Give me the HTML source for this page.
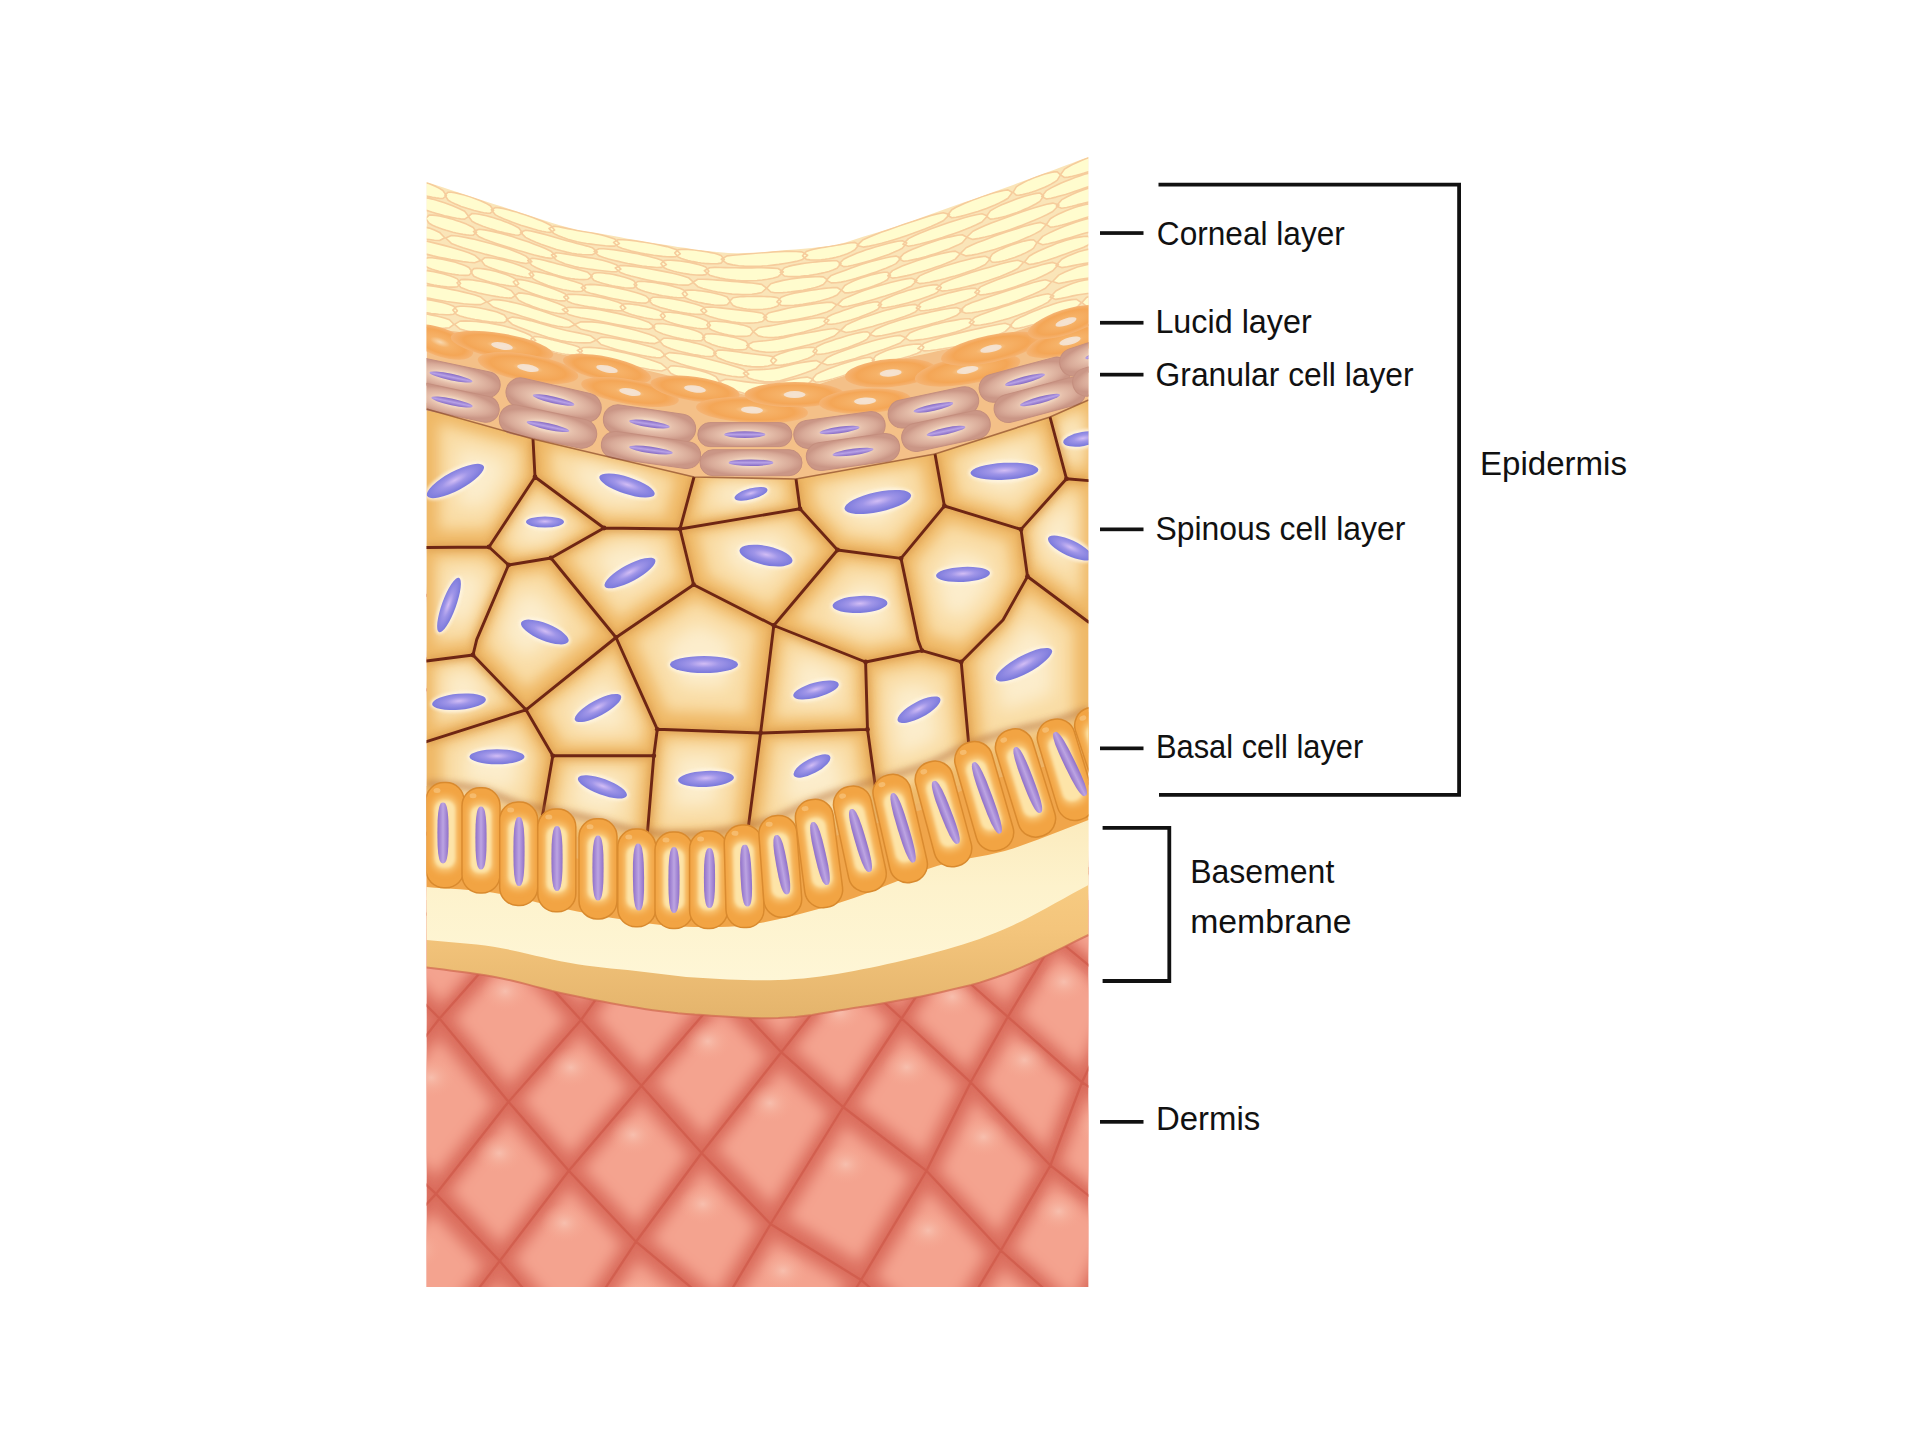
<!DOCTYPE html>
<html><head><meta charset="utf-8"><style>html,body{margin:0;padding:0;background:#fff;width:1920px;height:1440px;overflow:hidden}svg{display:block}</style></head>
<body><svg width="1920" height="1440" viewBox="0 0 1920 1440"><defs><clipPath id="illo"><rect x="426.5" y="150" width="662" height="1137"/></clipPath><filter id="blur6" x="-30%" y="-30%" width="160%" height="160%"><feGaussianBlur stdDeviation="7"/></filter><filter id="blur9" x="-50%" y="-50%" width="200%" height="200%"><feGaussianBlur stdDeviation="9"/></filter><filter id="blur3" x="-30%" y="-30%" width="160%" height="160%"><feGaussianBlur stdDeviation="3"/></filter><filter id="blur2" x="-30%" y="-30%" width="160%" height="160%"><feGaussianBlur stdDeviation="1.6"/></filter><radialGradient id="dhl"><stop offset="0" stop-color="#f8c8b8" stop-opacity="0.75"/><stop offset="0.5" stop-color="#f7b8a4" stop-opacity="0.35"/><stop offset="1" stop-color="#f6a892" stop-opacity="0"/></radialGradient><linearGradient id="memcr" x1="0" y1="0" x2="0" y2="1"><stop offset="0" stop-color="#fbe8b8"/><stop offset="0.5" stop-color="#fdf2cc"/><stop offset="1" stop-color="#fef6d6"/></linearGradient><linearGradient id="memor" x1="0" y1="0" x2="0" y2="1"><stop offset="0" stop-color="#fdd78c"/><stop offset="0.6" stop-color="#f4c57c"/><stop offset="1" stop-color="#e4b46c"/></linearGradient><radialGradient id="nuc" cx="0.5" cy="0.45" r="0.5"><stop offset="0" stop-color="#d2bdf5"/><stop offset="0.45" stop-color="#9f95e8"/><stop offset="1" stop-color="#7d7bdc"/></radialGradient><clipPath id="sc0"><path d="M426.5 409 L533 439 L535 477 L489 547 L426.5 547.5 Z"/></clipPath><clipPath id="sc1"><path d="M533 439 L694 477 L680 529 L604 528 L535 477 Z"/></clipPath><clipPath id="sc2"><path d="M535 477 L604 528 L551 558 L508.5 565 L489 547 Z"/></clipPath><clipPath id="sc3"><path d="M694 477 L796 479 L800 508.8 L680 529 Z"/></clipPath><clipPath id="sc4"><path d="M796 479 L935 454 L944.4 506 L901 558.4 L837.5 550 L800 508.8 Z"/></clipPath><clipPath id="sc5"><path d="M935 454 L1050 417 L1066.5 478.8 L1021 529.4 L944.4 506 Z"/></clipPath><clipPath id="sc6"><path d="M1050 417 L1088.5 400 L1088.5 480.6 L1066.5 478.8 Z"/></clipPath><clipPath id="sc7"><path d="M680 529 L800 508.8 L837.5 550 L773.8 625.5 L693.6 584.7 Z"/></clipPath><clipPath id="sc8"><path d="M604 528 L680 529 L693.6 584.7 L616 637.5 L551 558 Z"/></clipPath><clipPath id="sc9"><path d="M901 558.4 L944.4 506 L1021 529.4 L1027.5 576.5 L1003 620 L961.2 661.9 L921.9 650.6 L918 640 Z"/></clipPath><clipPath id="sc10"><path d="M837.5 550 L901 558.4 L918 640 L921.9 650.6 L865.6 662 L773.8 625.5 Z"/></clipPath><clipPath id="sc11"><path d="M1066.5 478.8 L1088.5 480.6 L1088.5 622 L1027.5 576.5 L1021 529.4 Z"/></clipPath><clipPath id="sc12"><path d="M1003 620 L1027.5 576.5 L1088.5 622 L1088.5 740 L972 780 L961.2 661.9 Z"/></clipPath><clipPath id="sc13"><path d="M865.6 662 L921.9 650.6 L961.2 661.9 L972 780 L880 820 L867.5 729.4 Z"/></clipPath><clipPath id="sc14"><path d="M773.8 625.5 L865.6 662 L867.5 729.4 L760.6 733 Z"/></clipPath><clipPath id="sc15"><path d="M760.6 733 L867.5 729.4 L880 820 L746 845 Z"/></clipPath><clipPath id="sc16"><path d="M657.3 729.3 L760.6 733 L746 845 L646 850 L653.8 755.8 Z"/></clipPath><clipPath id="sc17"><path d="M552.8 755.8 L653.8 755.8 L646 850 L540 830 Z"/></clipPath><clipPath id="sc18"><path d="M426.5 741.7 L526 709.8 L552.8 755.8 L540 830 L426.5 810 Z"/></clipPath><clipPath id="sc19"><path d="M426.5 661 L473 655 L526 709.8 L426.5 741.7 Z"/></clipPath><clipPath id="sc20"><path d="M526 709.8 L616 637.5 L657.3 729.3 L653.8 755.8 L552.8 755.8 Z"/></clipPath><clipPath id="sc21"><path d="M508.5 565 L551 558 L616 637.5 L526 709.8 L473 655 L476.7 639.6 Z"/></clipPath><clipPath id="sc22"><path d="M426.5 547.5 L489 547 L508.5 565 L476.7 639.6 L473 655 L426.5 661 Z"/></clipPath><clipPath id="sc23"><path d="M616 637.5 L693.6 584.7 L773.8 625.5 L760.6 733 L657.3 729.3 Z"/></clipPath><radialGradient id="bcell" cx="0.5" cy="0.5" r="0.5"><stop offset="0" stop-color="#fde9b4"/><stop offset="0.45" stop-color="#fcdc98"/><stop offset="0.8" stop-color="#f5ac4a"/><stop offset="1" stop-color="#f1a040"/></radialGradient><linearGradient id="bnuc" x1="0" y1="0" x2="1" y2="0"><stop offset="0" stop-color="#8f6fc8"/><stop offset="0.5" stop-color="#bca4e2"/><stop offset="1" stop-color="#8f6fc8"/></linearGradient><clipPath id="cornclip"><path d="M426.5 182 L434.9 184.7 L443.3 187.5 L451.6 190.2 L460 193 L468.4 195.7 L476.8 198.5 L485.2 201.2 L493.5 203.9 L501.9 206.6 L510.3 209.3 L518.7 212.1 L527.1 214.8 L535.4 217.6 L543.8 220.3 L552.2 222.9 L560.6 225.5 L569 227.8 L577.3 229.8 L585.7 231.3 L594.1 232.6 L602.5 234.1 L610.9 235.6 L619.2 237.1 L627.6 238.7 L636 240.1 L644.4 241.6 L652.8 243 L661.1 244.3 L669.5 245.6 L677.9 246.9 L686.3 248.1 L694.7 249.4 L703 250.5 L711.4 251.5 L719.8 252.3 L728.2 252.9 L736.6 253.2 L744.9 253.1 L753.3 252.8 L761.7 252.2 L770.1 251.5 L778.4 250.8 L786.8 250.1 L795.2 249.4 L803.6 248.7 L812 247.9 L820.3 247 L828.7 245.9 L837.1 244.4 L845.5 242.4 L853.9 239.8 L862.2 237 L870.6 234.5 L879 231.9 L887.4 229.2 L895.8 226.4 L904.1 223.6 L912.5 220.7 L920.9 217.7 L929.3 214.7 L937.7 211.7 L946 208.8 L954.4 205.8 L962.8 202.8 L971.2 199.9 L979.6 196.9 L987.9 193.9 L996.3 190.9 L1004.7 187.9 L1013.1 184.9 L1021.5 181.8 L1029.8 178.7 L1038.2 175.6 L1046.6 172.5 L1055 169.4 L1063.4 166.3 L1071.7 163.2 L1080.1 160.1 L1088.5 157 L1088.5 309 L1080.1 310.3 L1071.7 312.3 L1063.4 314.8 L1055 317.7 L1046.6 320.7 L1038.2 323.7 L1029.8 326.6 L1021.5 329.5 L1013.1 332.3 L1004.7 335 L996.3 337.5 L987.9 339.8 L979.6 341.9 L971.2 343.9 L962.8 345.8 L954.4 347.6 L946 349.3 L937.7 351.1 L929.3 352.9 L920.9 354.7 L912.5 356.5 L904.1 358.5 L895.8 360.5 L887.4 362.7 L879 365.1 L870.6 367.6 L862.2 370.2 L853.9 372.9 L845.5 375.6 L837.1 378.3 L828.7 381.1 L820.3 383.8 L812 386.5 L803.6 389 L795.2 391.3 L786.8 393.8 L778.4 396.2 L770.1 397.3 L761.7 397.1 L753.3 396.2 L744.9 394.7 L736.6 392.8 L728.2 390.6 L719.8 388.4 L711.4 386.1 L703 384 L694.7 381.9 L686.3 379.9 L677.9 377.9 L669.5 375.8 L661.1 373.8 L652.8 371.7 L644.4 369.7 L636 367.6 L627.6 365.6 L619.2 363.7 L610.9 361.8 L602.5 360.1 L594.1 358.7 L585.7 357.6 L577.3 356.7 L569 355.7 L560.6 354.1 L552.2 352.1 L543.8 349.6 L535.4 347 L527.1 344.4 L518.7 342 L510.3 339.8 L501.9 338 L493.5 336.5 L485.2 335.2 L476.8 334 L468.4 333 L460 332 L451.6 331 L443.3 330.1 L434.9 329.1 L426.5 328 Z"/></clipPath><radialGradient id="luc"><stop offset="0" stop-color="#f8d9b0"/><stop offset="0.3" stop-color="#f6b268"/><stop offset="0.75" stop-color="#f4a656"/><stop offset="1" stop-color="#f5b474"/></radialGradient><radialGradient id="gran" cx="0.5" cy="0.5" r="0.5"><stop offset="0" stop-color="#e8c8b4"/><stop offset="0.3" stop-color="#f2d8c2"/><stop offset="0.5" stop-color="#e6c0ac"/><stop offset="0.8" stop-color="#d8aa98"/><stop offset="1" stop-color="#ca9686"/></radialGradient><linearGradient id="gnuc" x1="0" y1="0" x2="0" y2="1"><stop offset="0" stop-color="#8468c4"/><stop offset="0.5" stop-color="#b8a2e6"/><stop offset="1" stop-color="#8468c4"/></linearGradient></defs><g clip-path="url(#illo)">
<rect x="426.5" y="900" width="662" height="387" fill="#dd7262"/>
<path d="M265.5 1405.3 L337.1 1319.3 L394.2 1379 L324.8 1467.6 Z" fill="#f4a38f" filter="url(#blur6)"/><ellipse cx="325.4" cy="1358.5" rx="24" ry="20" fill="url(#dhl)"/><path d="M221.2 1144.8 L292.8 1069.2 L341.7 1125.3 L272.3 1203.5 Z" fill="#f4a38f" filter="url(#blur6)"/><ellipse cx="277.4" cy="1104.7" rx="24" ry="20" fill="url(#dhl)"/><path d="M287.5 1219.7 L356.8 1141.5 L417.3 1197.3 L341.6 1278.9 Z" fill="#f4a38f" filter="url(#blur6)"/><ellipse cx="345.8" cy="1177.7" rx="24" ry="20" fill="url(#dhl)"/><path d="M357.2 1294.9 L432.9 1213.3 L482.5 1265.6 L414.3 1354.6 Z" fill="#f4a38f" filter="url(#blur6)"/><ellipse cx="416.9" cy="1249.5" rx="24" ry="20" fill="url(#dhl)"/><path d="M429.9 1371.3 L498.1 1282.3 L552.6 1345.7 L490 1431.5 Z" fill="#f4a38f" filter="url(#blur6)"/><ellipse cx="487.9" cy="1323.3" rx="24" ry="20" fill="url(#dhl)"/><path d="M253.1 977.2 L322.4 909.5 L366.1 962.6 L299 1032.8 Z" fill="#f4a38f" filter="url(#blur6)"/><ellipse cx="305.8" cy="942" rx="24" ry="20" fill="url(#dhl)"/><path d="M311.9 1047.7 L379 977.4 L424 1022.8 L360.8 1103.8 Z" fill="#f4a38f" filter="url(#blur6)"/><ellipse cx="364.6" cy="1008.7" rx="24" ry="20" fill="url(#dhl)"/><path d="M375.5 1119.5 L438.7 1038.4 L492.5 1103.4 L435.9 1175.3 Z" fill="#f4a38f" filter="url(#blur6)"/><ellipse cx="431.1" cy="1077.6" rx="24" ry="20" fill="url(#dhl)"/><path d="M450.8 1191.3 L507.3 1119.4 L554.3 1173.2 L500.5 1243.6 Z" fill="#f4a38f" filter="url(#blur6)"/><ellipse cx="499.3" cy="1153.2" rx="24" ry="20" fill="url(#dhl)"/><path d="M514.8 1259.5 L568.7 1189.1 L621.1 1244.4 L569.3 1322.9 Z" fill="#f4a38f" filter="url(#blur6)"/><ellipse cx="564.4" cy="1223.1" rx="24" ry="20" fill="url(#dhl)"/><path d="M585.7 1339.2 L637.5 1260.7 L702.4 1314.5 L646.5 1397.4 Z" fill="#f4a38f" filter="url(#blur6)"/><ellipse cx="638.6" cy="1296.4" rx="24" ry="20" fill="url(#dhl)"/><path d="M341 890.8 L405.8 828.4 L447.3 879 L384.7 943.9 Z" fill="#f4a38f" filter="url(#blur6)"/><ellipse cx="390.6" cy="858.9" rx="24" ry="20" fill="url(#dhl)"/><path d="M396.4 957.9 L459 893 L495 942.7 L441.4 1003.3 Z" fill="#f4a38f" filter="url(#blur6)"/><ellipse cx="444.2" cy="923.8" rx="24" ry="20" fill="url(#dhl)"/><path d="M454.9 1018.9 L508.5 958.4 L565.2 1020.1 L508.7 1083.9 Z" fill="#f4a38f" filter="url(#blur6)"/><ellipse cx="505.1" cy="991.3" rx="24" ry="20" fill="url(#dhl)"/><path d="M523.1 1100.2 L579.7 1036.4 L626.8 1087.7 L570.1 1154 Z" fill="#f4a38f" filter="url(#blur6)"/><ellipse cx="570.9" cy="1067.5" rx="24" ry="20" fill="url(#dhl)"/><path d="M583.8 1169 L640.4 1102.7 L687.4 1155.2 L636.2 1224.3 Z" fill="#f4a38f" filter="url(#blur6)"/><ellipse cx="633" cy="1134.8" rx="24" ry="20" fill="url(#dhl)"/><path d="M651.6 1239.6 L702.8 1170.5 L756.6 1225.8 L716.5 1293.4 Z" fill="#f4a38f" filter="url(#blur6)"/><ellipse cx="702.8" cy="1204" rx="24" ry="20" fill="url(#dhl)"/><path d="M734.1 1308.2 L774.3 1240.6 L844.9 1284.3 L795.7 1364.4 Z" fill="#f4a38f" filter="url(#blur6)"/><ellipse cx="783" cy="1270.8" rx="24" ry="20" fill="url(#dhl)"/><path d="M813.9 1379.2 L863.1 1299.1 L925.4 1353.3 L878.5 1435.9 Z" fill="#f4a38f" filter="url(#blur6)"/><ellipse cx="865.9" cy="1335.3" rx="24" ry="20" fill="url(#dhl)"/><path d="M475.8 875.7 L533.9 816.2 L576.1 864.7 L511.8 925.4 Z" fill="#f4a38f" filter="url(#blur6)"/><ellipse cx="520.6" cy="845.3" rx="24" ry="20" fill="url(#dhl)"/><path d="M524.5 940.2 L588.8 879.5 L634 928.5 L581.3 1001.9 Z" fill="#f4a38f" filter="url(#blur6)"/><ellipse cx="577.9" cy="909.3" rx="24" ry="20" fill="url(#dhl)"/><path d="M595.9 1016.9 L648.6 943.5 L707.1 994.2 L643 1068.2 Z" fill="#f4a38f" filter="url(#blur6)"/><ellipse cx="644.4" cy="976.9" rx="24" ry="20" fill="url(#dhl)"/><path d="M656.9 1082.4 L721 1008.5 L766 1056.2 L703.9 1134.8 Z" fill="#f4a38f" filter="url(#blur6)"/><ellipse cx="707.8" cy="1041.3" rx="24" ry="20" fill="url(#dhl)"/><path d="M717.6 1148.8 L779.7 1070.2 L828 1113 L771.4 1204.2 Z" fill="#f4a38f" filter="url(#blur6)"/><ellipse cx="769.9" cy="1103.1" rx="24" ry="20" fill="url(#dhl)"/><path d="M788.1 1217.7 L844.8 1126.5 L909.7 1176.2 L858.7 1261.4 Z" fill="#f4a38f" filter="url(#blur6)"/><ellipse cx="845.7" cy="1164.3" rx="24" ry="20" fill="url(#dhl)"/><path d="M876.8 1276.2 L927.8 1191 L985.7 1253.2 L939.1 1330.3 Z" fill="#f4a38f" filter="url(#blur6)"/><ellipse cx="928.2" cy="1230.5" rx="24" ry="20" fill="url(#dhl)"/><path d="M956.3 1346.1 L1003 1268.9 L1061.7 1320.9 L1021.5 1400.7 Z" fill="#f4a38f" filter="url(#blur6)"/><ellipse cx="1006.6" cy="1303.7" rx="24" ry="20" fill="url(#dhl)"/><path d="M604.2 861.9 L655.5 805.2 L698.5 851.7 L649.3 910.9 Z" fill="#f4a38f" filter="url(#blur6)"/><ellipse cx="648.2" cy="833" rx="24" ry="20" fill="url(#dhl)"/><path d="M662.9 924.6 L712 865.3 L757.9 912.4 L721.4 975.2 Z" fill="#f4a38f" filter="url(#blur6)"/><ellipse cx="709.9" cy="894" rx="24" ry="20" fill="url(#dhl)"/><path d="M736.2 988.7 L772.7 925.8 L832.8 971.1 L781.2 1036.4 Z" fill="#f4a38f" filter="url(#blur6)"/><ellipse cx="777" cy="955" rx="24" ry="20" fill="url(#dhl)"/><path d="M795 1048.8 L846.6 983.4 L888.9 1022.5 L843.2 1091.5 Z" fill="#f4a38f" filter="url(#blur6)"/><ellipse cx="839.8" cy="1011.6" rx="24" ry="20" fill="url(#dhl)"/><path d="M858 1104.3 L903.6 1035.3 L957.5 1085 L923 1154 Z" fill="#f4a38f" filter="url(#blur6)"/><ellipse cx="906.7" cy="1067.2" rx="24" ry="20" fill="url(#dhl)"/><path d="M939.8 1170 L974.3 1101 L1036.5 1165.9 L997.8 1232.2 Z" fill="#f4a38f" filter="url(#blur6)"/><ellipse cx="983.4" cy="1137" rx="24" ry="20" fill="url(#dhl)"/><path d="M1014.3 1247.9 L1053 1181.6 L1108.8 1225.5 L1073.1 1299.9 Z" fill="#f4a38f" filter="url(#blur6)"/><ellipse cx="1058.7" cy="1211.4" rx="24" ry="20" fill="url(#dhl)"/><path d="M1090.3 1313.9 L1126 1239.5 L1189.8 1289.6 L1156.3 1366.6 Z" fill="#f4a38f" filter="url(#blur6)"/><ellipse cx="1136.8" cy="1273.1" rx="24" ry="20" fill="url(#dhl)"/><path d="M1175 1381.1 L1208.5 1304.2 L1275.2 1354.8 L1244 1434.3 Z" fill="#f4a38f" filter="url(#blur6)"/><ellipse cx="1221.9" cy="1338.6" rx="24" ry="20" fill="url(#dhl)"/><path d="M784 908.8 L826.3 852.4 L873 897.4 L844.1 954.1 Z" fill="#f4a38f" filter="url(#blur6)"/><ellipse cx="828.4" cy="879.7" rx="24" ry="20" fill="url(#dhl)"/><path d="M857.7 966.6 L886.6 910 L931 958.7 L900 1005.7 Z" fill="#f4a38f" filter="url(#blur6)"/><ellipse cx="891" cy="938.2" rx="24" ry="20" fill="url(#dhl)"/><path d="M913.5 1018.6 L944.6 971.6 L996.3 1017.3 L967.3 1068.4 Z" fill="#f4a38f" filter="url(#blur6)"/><ellipse cx="952.2" cy="996.7" rx="24" ry="20" fill="url(#dhl)"/><path d="M983.2 1083.3 L1012.2 1032.2 L1070.1 1083.3 L1045.4 1148.2 Z" fill="#f4a38f" filter="url(#blur6)"/><ellipse cx="1024.4" cy="1060" rx="24" ry="20" fill="url(#dhl)"/><path d="M1062.2 1162.2 L1086.9 1097.3 L1149.2 1137.1 L1118 1206.1 Z" fill="#f4a38f" filter="url(#blur6)"/><ellipse cx="1100.7" cy="1125.6" rx="24" ry="20" fill="url(#dhl)"/><path d="M1135.2 1218.9 L1166.4 1149.8 L1227.9 1197.4 L1198.9 1269 Z" fill="#f4a38f" filter="url(#blur6)"/><ellipse cx="1178.5" cy="1181.3" rx="24" ry="20" fill="url(#dhl)"/><path d="M896.1 894.7 L931.7 841.2 L979.1 884.1 L940.5 943.5 Z" fill="#f4a38f" filter="url(#blur6)"/><ellipse cx="933.7" cy="867.3" rx="24" ry="20" fill="url(#dhl)"/><path d="M954.1 956.2 L992.8 896.9 L1043.1 940.4 L1005.9 1001.8 Z" fill="#f4a38f" filter="url(#blur6)"/><ellipse cx="995.6" cy="924.6" rx="24" ry="20" fill="url(#dhl)"/><path d="M1020.9 1014.8 L1058.2 953.4 L1111.5 997.4 L1078.8 1065.9 Z" fill="#f4a38f" filter="url(#blur6)"/><ellipse cx="1063.9" cy="981.9" rx="24" ry="20" fill="url(#dhl)"/><path d="M1095 1078.6 L1127.7 1010.1 L1184 1054.6 L1157.3 1118.3 Z" fill="#f4a38f" filter="url(#blur6)"/><ellipse cx="1137.6" cy="1040.4" rx="24" ry="20" fill="url(#dhl)"/><path d="M1174.2 1130.8 L1200.9 1067 L1260.2 1112.1 L1235.7 1178.3 Z" fill="#f4a38f" filter="url(#blur6)"/><ellipse cx="1214.4" cy="1096.4" rx="24" ry="20" fill="url(#dhl)"/><path d="M1002 881.1 L1030.9 830.3 L1079.1 871.3 L1052.4 924.6 Z" fill="#f4a38f" filter="url(#blur6)"/><ellipse cx="1038.2" cy="855.1" rx="24" ry="20" fill="url(#dhl)"/><path d="M1066.7 936.5 L1093.4 883.3 L1144.5 924.7 L1120 980.6 Z" fill="#f4a38f" filter="url(#blur6)"/><ellipse cx="1103.2" cy="908.8" rx="24" ry="20" fill="url(#dhl)"/><path d="M1135.2 992.7 L1159.6 936.9 L1213.7 978.9 L1191.5 1037.2 Z" fill="#f4a38f" filter="url(#blur6)"/><ellipse cx="1172" cy="963.3" rx="24" ry="20" fill="url(#dhl)"/><path d="M1099.9 868.6 L1122.1 820.7 L1171 859.7 L1151 910.1 Z" fill="#f4a38f" filter="url(#blur6)"/><ellipse cx="1133.3" cy="844.2" rx="24" ry="20" fill="url(#dhl)"/><path d="M1165.6 921.5 L1185.5 871.1 L1237.3 910.5 L1219.6 963.5 Z" fill="#f4a38f" filter="url(#blur6)"/><ellipse cx="1199.2" cy="895.3" rx="24" ry="20" fill="url(#dhl)"/><path d="M1190.2 857.3 L1205.6 812.2 L1255.2 849.1 L1242 896.7 Z" fill="#f4a38f" filter="url(#blur6)"/><ellipse cx="1220.7" cy="834.3" rx="24" ry="20" fill="url(#dhl)"/>
<path d="M-76 1019.6 L-19 1096.1 L41.9 1173.3 L106.5 1251.2 L174.9 1329.7 L247.2 1408.8 L323.2 1488.7 L403.1 1569.1 L486.8 1650.2 L574.3 1732 L665.6 1814.5 L760.7 1897.5 L859.7 1981.3 L962.4 2065.7 L1069 2150.7 M30.2 925.5 L84.4 998.8 L142.3 1072.7 L204 1147.4 L269.6 1222.6 L339 1298.5 L412.2 1375.1 L489.2 1452.3 L570 1530.2 L654.6 1608.7 L743.1 1687.9 L835.4 1767.7 L931.4 1848.2 L1031.3 1929.4 L1135 2011.2 M130.6 838.3 L181.9 908.4 L237 979.1 L295.8 1050.4 L358.5 1122.4 L436 1193.9 L499.7 1261 L569.5 1342.4 L647.5 1417 L729.2 1492.3 L814.8 1568.2 L904.2 1644.8 L997.4 1722 L1094.4 1799.9 L1195.3 1878.5 M225.3 758 L273.6 824.8 L325.9 892.2 L381.9 960.3 L439.5 1018.5 L508.5 1101.8 L568.8 1170.8 L636 1241.7 L719.2 1310.7 L798.1 1382.7 L880.8 1455.4 L967.3 1528.7 L1057.6 1602.7 L1151.8 1677.3 L1249.7 1752.6 M314.1 684.6 L359.6 748.1 L409 812.3 L462.1 877.2 L508.3 940.9 L581 1020 L641.4 1085.8 L701.6 1153 L770.6 1224 L861.1 1280 L941 1349.4 L1024.6 1419.5 L1112.1 1490.2 L1203.4 1561.6 L1298.5 1633.7 M397.2 618 L439.8 678.3 L486.3 739.3 L536.6 800.9 L590.7 863.1 L648.6 926 L723.6 991 L781.3 1052.2 L843.2 1107 L926.5 1170.8 L1000.8 1250.5 L1076.2 1317.2 L1160.8 1384.7 L1249.2 1452.8 L1341.4 1521.6 M474.5 558.3 L514.3 615.4 L557.9 673.1 L605.3 731.4 L656.5 790.4 L711.6 850.1 L770.4 910.4 L847.5 968.4 L901.7 1018.5 L970.7 1082.3 L1050.4 1165.5 L1121.9 1221.8 L1203.7 1286 L1289.2 1350.9 L1378.6 1416.4 M546 505.6 L583 559.3 L623.7 613.8 L668.3 668.9 L716.6 724.6 L768.8 781 L824.8 838.1 L884.6 895.8 L941.5 958.3 L1007.8 1016.8 L1082 1082.3 L1161.9 1133.2 L1240.8 1194.2 L1323.5 1255.8 L1410 1318.1 M611.8 459.6 L645.9 510.2 L683.7 561.4 L725.4 613.2 L770.9 665.7 L820.2 718.9 L873.3 772.7 L930.3 827.1 L991 882.3 L1055.6 938 L1124 994.4 L1196.2 1051.5 L1272.2 1109.3 L1352 1167.7 L1435.6 1226.7 M671.8 420.6 L703 467.9 L738 515.8 L776.8 564.4 L819.4 613.7 L865.9 663.6 L916.1 714.1 L970.2 765.3 L1028.1 817.2 L1089.8 869.7 L1155.3 922.9 L1224.6 976.7 L1297.7 1031.2 L1374.7 1086.4 L1455.4 1142.1 M726 388.4 L754.3 432.5 L786.5 477.2 L822.4 522.5 L862.2 568.5 L905.8 615.2 L953.1 662.5 L1004.3 710.4 L1059.4 759 L1118.2 808.3 L1180.8 858.2 L1247.3 908.8 L1317.5 960 L1391.6 1011.9 L1469.5 1064.5 M-187.9 1120.5 L-76 1019.6 L30.2 925.5 L130.6 838.3 L225.3 758 L314.1 684.6 L397.2 618 L474.5 558.3 L546 505.6 L611.8 459.6 L671.8 420.6 L726 388.4 L774.5 363.2 M-128 1200.3 L-19 1096.1 L84.4 998.8 L181.9 908.4 L273.6 824.8 L359.6 748.1 L439.8 678.3 L514.3 615.4 L583 559.3 L645.9 510.2 L703 467.9 L754.3 432.5 L799.9 403.9 M-64.4 1280.8 L41.9 1173.3 L142.3 1072.7 L237 979.1 L325.9 892.2 L409 812.3 L486.3 739.3 L557.9 673.1 L623.7 613.8 L683.7 561.4 L738 515.8 L786.5 477.2 L829.2 445.4 M3.1 1361.9 L106.5 1251.2 L204 1147.4 L295.8 1050.4 L381.9 960.3 L462.1 877.2 L536.6 800.9 L605.3 731.4 L668.3 668.9 L725.4 613.2 L776.8 564.4 L822.4 522.5 L862.3 487.5 M74.4 1443.6 L174.9 1329.7 L269.6 1222.6 L358.5 1122.4 L439.5 1018.5 L508.3 940.9 L590.7 863.1 L656.5 790.4 L716.6 724.6 L770.9 665.7 L819.4 613.7 L862.2 568.5 L899.2 530.2 M149.5 1526 L247.2 1408.8 L339 1298.5 L436 1193.9 L508.5 1101.8 L581 1020 L648.6 926 L711.6 850.1 L768.8 781 L820.2 718.9 L865.9 663.6 L905.8 615.2 L939.9 573.6 M228.5 1609.1 L323.2 1488.7 L412.2 1375.1 L499.7 1261 L568.8 1170.8 L641.4 1085.8 L723.6 991 L770.4 910.4 L824.8 838.1 L873.3 772.7 L916.1 714.1 L953.1 662.5 L984.4 617.7 M311.2 1692.8 L403.1 1569.1 L489.2 1452.3 L569.5 1342.4 L636 1241.7 L701.6 1153 L781.3 1052.2 L847.5 968.4 L884.6 895.8 L930.3 827.1 L970.2 765.3 L1004.3 710.4 L1032.7 662.4 M397.8 1777.2 L486.8 1650.2 L570 1530.2 L647.5 1417 L719.2 1310.7 L770.6 1224 L843.2 1107 L901.7 1018.5 L941.5 958.3 L991 882.3 L1028.1 817.2 L1059.4 759 L1084.9 707.8 M488.1 1862.2 L574.3 1732 L654.6 1608.7 L729.2 1492.3 L798.1 1382.7 L861.1 1280 L926.5 1170.8 L970.7 1082.3 L1007.8 1016.8 L1055.6 938 L1089.8 869.7 L1118.2 808.3 L1140.8 753.8 M582.3 1947.9 L665.6 1814.5 L743.1 1687.9 L814.8 1568.2 L880.8 1455.4 L941 1349.4 L1000.8 1250.5 L1050.4 1165.5 L1082 1082.3 L1124 994.4 L1155.3 922.9 L1180.8 858.2 L1200.6 800.4 M680.3 2034.3 L760.7 1897.5 L835.4 1767.7 L904.2 1644.8 L967.3 1528.7 L1024.6 1419.5 L1076.2 1317.2 L1121.9 1221.8 L1161.9 1133.2 L1196.2 1051.5 L1224.6 976.7 L1247.3 908.8 L1264.2 847.8 M782.1 2121.2 L859.7 1981.3 L931.4 1848.2 L997.4 1722 L1057.6 1602.7 L1112.1 1490.2 L1160.8 1384.7 L1203.7 1286 L1240.8 1194.2 L1272.2 1109.3 L1297.7 1031.2 L1317.5 960 L1331.6 895.8 M887.7 2208.9 L962.4 2065.7 L1031.3 1929.4 L1094.4 1799.9 L1151.8 1677.3 L1203.4 1561.6 L1249.2 1452.8 L1289.2 1350.9 L1323.5 1255.8 L1352 1167.7 L1374.7 1086.4 L1391.6 1011.9 L1402.8 944.4 M997.2 2297.2 L1069 2150.7 L1135 2011.2 L1195.3 1878.5 L1249.7 1752.6 L1298.5 1633.7 L1341.4 1521.6 L1378.6 1416.4 L1410 1318.1 L1435.6 1226.7 L1455.4 1142.1 L1469.5 1064.5 L1477.8 993.7" fill="none" stroke="#d4604f" stroke-width="5" opacity="0.45" filter="url(#blur3)"/>
<path d="M-76 1019.6 L-19 1096.1 L41.9 1173.3 L106.5 1251.2 L174.9 1329.7 L247.2 1408.8 L323.2 1488.7 L403.1 1569.1 L486.8 1650.2 L574.3 1732 L665.6 1814.5 L760.7 1897.5 L859.7 1981.3 L962.4 2065.7 L1069 2150.7 M30.2 925.5 L84.4 998.8 L142.3 1072.7 L204 1147.4 L269.6 1222.6 L339 1298.5 L412.2 1375.1 L489.2 1452.3 L570 1530.2 L654.6 1608.7 L743.1 1687.9 L835.4 1767.7 L931.4 1848.2 L1031.3 1929.4 L1135 2011.2 M130.6 838.3 L181.9 908.4 L237 979.1 L295.8 1050.4 L358.5 1122.4 L436 1193.9 L499.7 1261 L569.5 1342.4 L647.5 1417 L729.2 1492.3 L814.8 1568.2 L904.2 1644.8 L997.4 1722 L1094.4 1799.9 L1195.3 1878.5 M225.3 758 L273.6 824.8 L325.9 892.2 L381.9 960.3 L439.5 1018.5 L508.5 1101.8 L568.8 1170.8 L636 1241.7 L719.2 1310.7 L798.1 1382.7 L880.8 1455.4 L967.3 1528.7 L1057.6 1602.7 L1151.8 1677.3 L1249.7 1752.6 M314.1 684.6 L359.6 748.1 L409 812.3 L462.1 877.2 L508.3 940.9 L581 1020 L641.4 1085.8 L701.6 1153 L770.6 1224 L861.1 1280 L941 1349.4 L1024.6 1419.5 L1112.1 1490.2 L1203.4 1561.6 L1298.5 1633.7 M397.2 618 L439.8 678.3 L486.3 739.3 L536.6 800.9 L590.7 863.1 L648.6 926 L723.6 991 L781.3 1052.2 L843.2 1107 L926.5 1170.8 L1000.8 1250.5 L1076.2 1317.2 L1160.8 1384.7 L1249.2 1452.8 L1341.4 1521.6 M474.5 558.3 L514.3 615.4 L557.9 673.1 L605.3 731.4 L656.5 790.4 L711.6 850.1 L770.4 910.4 L847.5 968.4 L901.7 1018.5 L970.7 1082.3 L1050.4 1165.5 L1121.9 1221.8 L1203.7 1286 L1289.2 1350.9 L1378.6 1416.4 M546 505.6 L583 559.3 L623.7 613.8 L668.3 668.9 L716.6 724.6 L768.8 781 L824.8 838.1 L884.6 895.8 L941.5 958.3 L1007.8 1016.8 L1082 1082.3 L1161.9 1133.2 L1240.8 1194.2 L1323.5 1255.8 L1410 1318.1 M611.8 459.6 L645.9 510.2 L683.7 561.4 L725.4 613.2 L770.9 665.7 L820.2 718.9 L873.3 772.7 L930.3 827.1 L991 882.3 L1055.6 938 L1124 994.4 L1196.2 1051.5 L1272.2 1109.3 L1352 1167.7 L1435.6 1226.7 M671.8 420.6 L703 467.9 L738 515.8 L776.8 564.4 L819.4 613.7 L865.9 663.6 L916.1 714.1 L970.2 765.3 L1028.1 817.2 L1089.8 869.7 L1155.3 922.9 L1224.6 976.7 L1297.7 1031.2 L1374.7 1086.4 L1455.4 1142.1 M726 388.4 L754.3 432.5 L786.5 477.2 L822.4 522.5 L862.2 568.5 L905.8 615.2 L953.1 662.5 L1004.3 710.4 L1059.4 759 L1118.2 808.3 L1180.8 858.2 L1247.3 908.8 L1317.5 960 L1391.6 1011.9 L1469.5 1064.5 M-187.9 1120.5 L-76 1019.6 L30.2 925.5 L130.6 838.3 L225.3 758 L314.1 684.6 L397.2 618 L474.5 558.3 L546 505.6 L611.8 459.6 L671.8 420.6 L726 388.4 L774.5 363.2 M-128 1200.3 L-19 1096.1 L84.4 998.8 L181.9 908.4 L273.6 824.8 L359.6 748.1 L439.8 678.3 L514.3 615.4 L583 559.3 L645.9 510.2 L703 467.9 L754.3 432.5 L799.9 403.9 M-64.4 1280.8 L41.9 1173.3 L142.3 1072.7 L237 979.1 L325.9 892.2 L409 812.3 L486.3 739.3 L557.9 673.1 L623.7 613.8 L683.7 561.4 L738 515.8 L786.5 477.2 L829.2 445.4 M3.1 1361.9 L106.5 1251.2 L204 1147.4 L295.8 1050.4 L381.9 960.3 L462.1 877.2 L536.6 800.9 L605.3 731.4 L668.3 668.9 L725.4 613.2 L776.8 564.4 L822.4 522.5 L862.3 487.5 M74.4 1443.6 L174.9 1329.7 L269.6 1222.6 L358.5 1122.4 L439.5 1018.5 L508.3 940.9 L590.7 863.1 L656.5 790.4 L716.6 724.6 L770.9 665.7 L819.4 613.7 L862.2 568.5 L899.2 530.2 M149.5 1526 L247.2 1408.8 L339 1298.5 L436 1193.9 L508.5 1101.8 L581 1020 L648.6 926 L711.6 850.1 L768.8 781 L820.2 718.9 L865.9 663.6 L905.8 615.2 L939.9 573.6 M228.5 1609.1 L323.2 1488.7 L412.2 1375.1 L499.7 1261 L568.8 1170.8 L641.4 1085.8 L723.6 991 L770.4 910.4 L824.8 838.1 L873.3 772.7 L916.1 714.1 L953.1 662.5 L984.4 617.7 M311.2 1692.8 L403.1 1569.1 L489.2 1452.3 L569.5 1342.4 L636 1241.7 L701.6 1153 L781.3 1052.2 L847.5 968.4 L884.6 895.8 L930.3 827.1 L970.2 765.3 L1004.3 710.4 L1032.7 662.4 M397.8 1777.2 L486.8 1650.2 L570 1530.2 L647.5 1417 L719.2 1310.7 L770.6 1224 L843.2 1107 L901.7 1018.5 L941.5 958.3 L991 882.3 L1028.1 817.2 L1059.4 759 L1084.9 707.8 M488.1 1862.2 L574.3 1732 L654.6 1608.7 L729.2 1492.3 L798.1 1382.7 L861.1 1280 L926.5 1170.8 L970.7 1082.3 L1007.8 1016.8 L1055.6 938 L1089.8 869.7 L1118.2 808.3 L1140.8 753.8 M582.3 1947.9 L665.6 1814.5 L743.1 1687.9 L814.8 1568.2 L880.8 1455.4 L941 1349.4 L1000.8 1250.5 L1050.4 1165.5 L1082 1082.3 L1124 994.4 L1155.3 922.9 L1180.8 858.2 L1200.6 800.4 M680.3 2034.3 L760.7 1897.5 L835.4 1767.7 L904.2 1644.8 L967.3 1528.7 L1024.6 1419.5 L1076.2 1317.2 L1121.9 1221.8 L1161.9 1133.2 L1196.2 1051.5 L1224.6 976.7 L1247.3 908.8 L1264.2 847.8 M782.1 2121.2 L859.7 1981.3 L931.4 1848.2 L997.4 1722 L1057.6 1602.7 L1112.1 1490.2 L1160.8 1384.7 L1203.7 1286 L1240.8 1194.2 L1272.2 1109.3 L1297.7 1031.2 L1317.5 960 L1331.6 895.8 M887.7 2208.9 L962.4 2065.7 L1031.3 1929.4 L1094.4 1799.9 L1151.8 1677.3 L1203.4 1561.6 L1249.2 1452.8 L1289.2 1350.9 L1323.5 1255.8 L1352 1167.7 L1374.7 1086.4 L1391.6 1011.9 L1402.8 944.4 M997.2 2297.2 L1069 2150.7 L1135 2011.2 L1195.3 1878.5 L1249.7 1752.6 L1298.5 1633.7 L1341.4 1521.6 L1378.6 1416.4 L1410 1318.1 L1435.6 1226.7 L1455.4 1142.1 L1469.5 1064.5 L1477.8 993.7" fill="none" stroke="#cf5a4a" stroke-width="2.3" opacity="0.75"/>
<path d="M426.5 860 L434.9 860.7 L443.3 861.2 L451.6 861.8 L460 862.3 L468.4 862.9 L476.8 863.7 L485.2 864.6 L493.5 865.8 L501.9 867.2 L510.3 868.9 L518.7 870.8 L527.1 872.8 L535.4 874.9 L543.8 877 L552.2 879 L560.6 881 L569 882.8 L577.3 884.5 L585.7 886.1 L594.1 887.7 L602.5 889.2 L610.9 890.7 L619.2 892.1 L627.6 893.5 L636 894.8 L644.4 895.9 L652.8 897 L661.1 897.9 L669.5 898.7 L677.9 899.3 L686.3 899.7 L694.7 900 L703 900 L711.4 900 L719.8 900 L728.2 899.7 L736.6 899.2 L744.9 898.3 L753.3 897.1 L761.7 895.7 L770.1 894 L778.4 892.2 L786.8 890.2 L795.2 888.2 L803.6 886 L812 883.7 L820.3 881.4 L828.7 878.9 L837.1 876.4 L845.5 873.8 L853.9 871 L862.2 868 L870.6 864.8 L879 861.5 L887.4 858.1 L895.8 854.7 L904.1 851.2 L912.5 847.9 L920.9 844.6 L929.3 841.6 L937.7 838.8 L946 836.4 L954.4 834.4 L962.8 832.6 L971.2 831.1 L979.6 829.6 L987.9 828 L996.3 826.1 L1004.7 824 L1013.1 821.4 L1021.5 818.6 L1029.8 815.6 L1038.2 812.5 L1046.6 809.3 L1055 806 L1063.4 802.7 L1071.7 799.4 L1080.1 796.2 L1088.5 793 L1088.5 935 L1080.1 939 L1071.7 943.1 L1063.4 947.3 L1055 951.5 L1046.6 955.6 L1038.2 959.7 L1029.8 963.7 L1021.5 967.4 L1013.1 971 L1004.7 974.2 L996.3 977.2 L987.9 980 L979.6 982.6 L971.2 984.9 L962.8 987 L954.4 989 L946 991 L937.7 992.9 L929.3 994.7 L920.9 996.4 L912.5 998 L904.1 999.6 L895.8 1001.1 L887.4 1002.5 L879 1004 L870.6 1005.4 L862.2 1006.7 L853.9 1008.1 L845.5 1009.4 L837.1 1010.8 L828.7 1012.2 L820.3 1013.6 L812 1014.9 L803.6 1016 L795.2 1017 L786.8 1017.6 L778.4 1018.1 L770.1 1018.2 L761.7 1018.2 L753.3 1018 L744.9 1017.7 L736.6 1017.3 L728.2 1016.8 L719.8 1016.3 L711.4 1015.7 L703 1015.1 L694.7 1014.6 L686.3 1013.9 L677.9 1013.2 L669.5 1012.3 L661.1 1011.3 L652.8 1010.2 L644.4 1008.9 L636 1007.6 L627.6 1006.2 L619.2 1004.7 L610.9 1003.2 L602.5 1001.6 L594.1 999.9 L585.7 998.3 L577.3 996.5 L569 994.8 L560.6 992.9 L552.2 990.9 L543.8 988.7 L535.4 986.6 L527.1 984.4 L518.7 982.3 L510.3 980.3 L501.9 978.4 L493.5 976.7 L485.2 975.2 L476.8 973.9 L468.4 972.8 L460 971.7 L451.6 970.7 L443.3 969.6 L434.9 968.6 L426.5 967.5 Z" fill="url(#memor)"/>
<path d="M426.5 967.5 L434.9 968.6 L443.3 969.6 L451.6 970.7 L460 971.7 L468.4 972.8 L476.8 973.9 L485.2 975.2 L493.5 976.7 L501.9 978.4 L510.3 980.3 L518.7 982.3 L527.1 984.4 L535.4 986.6 L543.8 988.7 L552.2 990.9 L560.6 992.9 L569 994.8 L577.3 996.5 L585.7 998.3 L594.1 999.9 L602.5 1001.6 L610.9 1003.2 L619.2 1004.7 L627.6 1006.2 L636 1007.6 L644.4 1008.9 L652.8 1010.2 L661.1 1011.3 L669.5 1012.3 L677.9 1013.2 L686.3 1013.9 L694.7 1014.6 L703 1015.1 L711.4 1015.7 L719.8 1016.3 L728.2 1016.8 L736.6 1017.3 L744.9 1017.7 L753.3 1018 L761.7 1018.2 L770.1 1018.2 L778.4 1018.1 L786.8 1017.6 L795.2 1017 L803.6 1016 L812 1014.9 L820.3 1013.6 L828.7 1012.2 L837.1 1010.8 L845.5 1009.4 L853.9 1008.1 L862.2 1006.7 L870.6 1005.4 L879 1004 L887.4 1002.5 L895.8 1001.1 L904.1 999.6 L912.5 998 L920.9 996.4 L929.3 994.7 L937.7 992.9 L946 991 L954.4 989 L962.8 987 L971.2 984.9 L979.6 982.6 L987.9 980 L996.3 977.2 L1004.7 974.2 L1013.1 971 L1021.5 967.4 L1029.8 963.7 L1038.2 959.7 L1046.6 955.6 L1055 951.5 L1063.4 947.3 L1071.7 943.1 L1080.1 939 L1088.5 935" fill="none" stroke="#d06650" stroke-width="2" opacity="0.7"/>
<path d="M426.5 860 L434.9 860.7 L443.3 861.2 L451.6 861.8 L460 862.3 L468.4 862.9 L476.8 863.7 L485.2 864.6 L493.5 865.8 L501.9 867.2 L510.3 868.9 L518.7 870.8 L527.1 872.8 L535.4 874.9 L543.8 877 L552.2 879 L560.6 881 L569 882.8 L577.3 884.5 L585.7 886.1 L594.1 887.7 L602.5 889.2 L610.9 890.7 L619.2 892.1 L627.6 893.5 L636 894.8 L644.4 895.9 L652.8 897 L661.1 897.9 L669.5 898.7 L677.9 899.3 L686.3 899.7 L694.7 900 L703 900 L711.4 900 L719.8 900 L728.2 899.7 L736.6 899.2 L744.9 898.3 L753.3 897.1 L761.7 895.7 L770.1 894 L778.4 892.2 L786.8 890.2 L795.2 888.2 L803.6 886 L812 883.7 L820.3 881.4 L828.7 878.9 L837.1 876.4 L845.5 873.8 L853.9 871 L862.2 868 L870.6 864.8 L879 861.5 L887.4 858.1 L895.8 854.7 L904.1 851.2 L912.5 847.9 L920.9 844.6 L929.3 841.6 L937.7 838.8 L946 836.4 L954.4 834.4 L962.8 832.6 L971.2 831.1 L979.6 829.6 L987.9 828 L996.3 826.1 L1004.7 824 L1013.1 821.4 L1021.5 818.6 L1029.8 815.6 L1038.2 812.5 L1046.6 809.3 L1055 806 L1063.4 802.7 L1071.7 799.4 L1080.1 796.2 L1088.5 793 L1088.5 885 L1080.1 889.5 L1071.7 894.1 L1063.4 898.7 L1055 903.3 L1046.6 908 L1038.2 912.5 L1029.8 916.9 L1021.5 921.2 L1013.1 925.2 L1004.7 928.9 L996.3 932.5 L987.9 935.8 L979.6 938.9 L971.2 941.8 L962.8 944.5 L954.4 947 L946 949.5 L937.7 951.8 L929.3 954.1 L920.9 956.3 L912.5 958.3 L904.1 960.3 L895.8 962.3 L887.4 964.1 L879 965.9 L870.6 967.7 L862.2 969.3 L853.9 970.9 L845.5 972.4 L837.1 973.9 L828.7 975.2 L820.3 976.5 L812 977.5 L803.6 978.4 L795.2 979.1 L786.8 979.7 L778.4 980.1 L770.1 980.3 L761.7 980.3 L753.3 980.2 L744.9 980 L736.6 979.8 L728.2 979.4 L719.8 979 L711.4 978.6 L703 978.1 L694.7 977.6 L686.3 976.9 L677.9 976 L669.5 975 L661.1 974 L652.8 972.9 L644.4 971.9 L636 971 L627.6 970.1 L619.2 969.3 L610.9 968.4 L602.5 967.4 L594.1 966.4 L585.7 965.4 L577.3 964.2 L569 962.8 L560.6 961.3 L552.2 959.5 L543.8 957.6 L535.4 955.7 L527.1 953.7 L518.7 951.7 L510.3 949.9 L501.9 948.2 L493.5 946.8 L485.2 945.6 L476.8 944.5 L468.4 943.7 L460 942.9 L451.6 942.2 L443.3 941.5 L434.9 940.8 L426.5 940 Z" fill="url(#memcr)"/>
<path d="M426.5 786 L434.9 785.9 L443.3 786.2 L451.6 787.1 L460 788 L468.4 789.1 L476.8 790.7 L485.2 792.9 L493.5 796.1 L501.9 799.6 L510.3 803.1 L518.7 805.9 L527.1 807.9 L535.4 809.4 L543.8 810.7 L552.2 812.1 L560.6 813.8 L569 815.7 L577.3 817.6 L585.7 819.7 L594.1 821.7 L602.5 823.9 L610.9 826.3 L619.2 828.7 L627.6 831 L636 832.9 L644.4 834.1 L652.8 835 L661.1 835.5 L669.5 835.9 L677.9 836.1 L686.3 836.1 L694.7 836 L703 835.5 L711.4 834.7 L719.8 833.5 L728.2 832.1 L736.6 830.4 L744.9 828.5 L753.3 826.5 L761.7 824.4 L770.1 821.8 L778.4 818.9 L786.8 815.3 L795.2 811.4 L803.6 807.4 L812 803.7 L820.3 800.5 L828.7 797.4 L837.1 794.5 L845.5 791.7 L853.9 789 L862.2 786.5 L870.6 784.1 L879 781.7 L887.4 779.2 L895.8 776.7 L904.1 774.3 L912.5 771.8 L920.9 769.1 L929.3 766 L937.7 762.3 L946 757.9 L954.4 753.4 L962.8 749.1 L971.2 745.5 L979.6 742.5 L987.9 739.9 L996.3 737.5 L1004.7 735.2 L1013.1 732.9 L1021.5 730.9 L1029.8 729 L1038.2 727.2 L1046.6 725.2 L1055 722.9 L1063.4 720.3 L1071.7 717.6 L1080.1 714.7 L1088.5 712 L1088.5 820 L1080.1 823.2 L1071.7 826.4 L1063.4 829.7 L1055 833 L1046.6 836.3 L1038.2 839.5 L1029.8 842.6 L1021.5 845.6 L1013.1 848.4 L1004.7 851 L996.3 853.1 L987.9 855 L979.6 856.6 L971.2 858.1 L962.8 859.6 L954.4 861.4 L946 863.4 L937.7 865.8 L929.3 868.6 L920.9 871.6 L912.5 874.9 L904.1 878.2 L895.8 881.7 L887.4 885.1 L879 888.5 L870.6 891.8 L862.2 895 L853.9 898 L845.5 900.8 L837.1 903.4 L828.7 905.9 L820.3 908.4 L812 910.7 L803.6 913 L795.2 915.2 L786.8 917.2 L778.4 919.2 L770.1 921 L761.7 922.7 L753.3 924.1 L744.9 925.3 L736.6 926.2 L728.2 926.7 L719.8 927 L711.4 927 L703 927 L694.7 927 L686.3 926.7 L677.9 926.3 L669.5 925.7 L661.1 924.9 L652.8 924 L644.4 922.9 L636 921.8 L627.6 920.5 L619.2 919.1 L610.9 917.7 L602.5 916.2 L594.1 914.7 L585.7 913.1 L577.3 911.5 L569 909.8 L560.6 908 L552.2 906 L543.8 904 L535.4 901.9 L527.1 899.8 L518.7 897.8 L510.3 895.9 L501.9 894.2 L493.5 892.8 L485.2 891.6 L476.8 890.7 L468.4 889.9 L460 889.3 L451.6 888.8 L443.3 888.2 L434.9 887.7 L426.5 887 Z" fill="#f0a54a"/>
<path d="M426.5 403 L434.9 405.4 L443.3 407.7 L451.6 410.1 L460 412.4 L468.4 414.8 L476.8 417.2 L485.2 419.5 L493.5 421.9 L501.9 424.2 L510.3 426.6 L518.7 429 L527.1 431.3 L535.4 433.6 L543.8 435.6 L552.2 437.5 L560.6 439.5 L569 441.5 L577.3 443.5 L585.7 445.4 L594.1 447.4 L602.5 449.4 L610.9 451.4 L619.2 453.4 L627.6 455.3 L636 457.3 L644.4 459.3 L652.8 461.3 L661.1 463.2 L669.5 465.2 L677.9 467.2 L686.3 469.2 L694.7 471 L703 471.2 L711.4 471.3 L719.8 471.5 L728.2 471.7 L736.6 471.8 L744.9 472 L753.3 472.2 L761.7 472.3 L770.1 472.5 L778.4 472.7 L786.8 472.8 L795.2 473 L803.6 471.6 L812 470.1 L820.3 468.6 L828.7 467.1 L837.1 465.6 L845.5 464.1 L853.9 462.6 L862.2 461.1 L870.6 459.6 L879 458.1 L887.4 456.6 L895.8 455.1 L904.1 453.5 L912.5 452 L920.9 450.5 L929.3 449 L937.7 447.1 L946 444.4 L954.4 441.8 L962.8 439.1 L971.2 436.4 L979.6 433.7 L987.9 431 L996.3 428.3 L1004.7 425.6 L1013.1 422.9 L1021.5 420.2 L1029.8 417.5 L1038.2 414.8 L1046.6 412.1 L1055 408.8 L1063.4 405.1 L1071.7 401.4 L1080.1 397.7 L1088.5 394 L1088.5 753 L1080.1 755.7 L1071.7 758.6 L1063.4 761.3 L1055 763.9 L1046.6 766.2 L1038.2 768.2 L1029.8 770 L1021.5 771.9 L1013.1 773.9 L1004.7 776.2 L996.3 778.5 L987.9 780.9 L979.6 783.5 L971.2 786.5 L962.8 790.1 L954.4 794.4 L946 798.9 L937.7 803.3 L929.3 807 L920.9 810.1 L912.5 812.8 L904.1 815.3 L895.8 817.7 L887.4 820.2 L879 822.7 L870.6 825.1 L862.2 827.5 L853.9 830 L845.5 832.7 L837.1 835.5 L828.7 838.4 L820.3 841.5 L812 844.7 L803.6 848.4 L795.2 852.4 L786.8 856.3 L778.4 859.9 L770.1 862.8 L761.7 865.4 L753.3 867.5 L744.9 869.5 L736.6 871.4 L728.2 873.1 L719.8 874.5 L711.4 875.7 L703 876.5 L694.7 877 L686.3 877.1 L677.9 877.1 L669.5 876.9 L661.1 876.5 L652.8 876 L644.4 875.1 L636 873.9 L627.6 872 L619.2 869.7 L610.9 867.3 L602.5 864.9 L594.1 862.7 L585.7 860.7 L577.3 858.6 L569 856.7 L560.6 854.8 L552.2 853.1 L543.8 851.7 L535.4 850.4 L527.1 848.9 L518.7 846.9 L510.3 844.1 L501.9 840.6 L493.5 837.1 L485.2 833.9 L476.8 831.7 L468.4 830.1 L460 829 L451.6 828.1 L443.3 827.2 L434.9 826.9 L426.5 827 Z" fill="#eeb366"/>
<g clip-path="url(#sc0)"><path d="M426.5 409 L533 439 L535 477 L489 547 L426.5 547.5 Z" fill="#efb866"/><path d="M438.7 422.5 L521.8 445.9 L523.3 475.5 L487.5 530.1 L438.7 530.5 Z" fill="#f9dca4" filter="url(#blur6)"/><path d="M457 445.2 L504.9 458.7 L505.9 475.8 L485.1 507.3 L457 507.5 Z" fill="#fcedcc" filter="url(#blur9)"/></g>
<g clip-path="url(#sc1)"><path d="M533 439 L694 477 L680 529 L604 528 L535 477 Z" fill="#efb866"/><path d="M549.8 447.2 L675.3 476.9 L664.4 517.4 L605.1 516.6 L551.3 476.9 Z" fill="#f9dca4" filter="url(#blur6)"/><path d="M574.9 462.1 L647.4 479.1 L641.1 502.6 L606.9 502.1 L575.8 479.1 Z" fill="#fcedcc" filter="url(#blur9)"/></g>
<g clip-path="url(#sc2)"><path d="M535 477 L604 528 L551 558 L508.5 565 L489 547 Z" fill="#efb866"/><path d="M535.5 486.8 L589.4 526.5 L548 549.9 L514.9 555.4 L499.7 541.4 Z" fill="#f9dca4" filter="url(#blur6)"/><path d="M536.4 503.9 L567.4 526.9 L543.6 540.4 L524.5 543.5 L515.7 535.4 Z" fill="#fcedcc" filter="url(#blur9)"/></g>
<g clip-path="url(#sc3)"><path d="M694 477 L796 479 L800 508.8 L680 529 Z" fill="#efb866"/><path d="M704.7 478.7 L784.2 480.3 L787.4 503.5 L693.8 519.3 Z" fill="#f9dca4" filter="url(#blur6)"/><path d="M720.7 483.8 L766.6 484.7 L768.4 498.1 L714.4 507.2 Z" fill="#fcedcc" filter="url(#blur9)"/></g>
<g clip-path="url(#sc4)"><path d="M796 479 L935 454 L944.4 506 L901 558.4 L837.5 550 L800 508.8 Z" fill="#efb866"/><path d="M812.1 482.7 L920.5 463.2 L927.8 503.7 L894 544.6 L844.4 538.1 L815.2 505.9 Z" fill="#f9dca4" filter="url(#blur6)"/><path d="M836.1 490.7 L898.7 479.5 L902.9 502.9 L883.4 526.4 L854.8 522.7 L837.9 504.1 Z" fill="#fcedcc" filter="url(#blur9)"/></g>
<g clip-path="url(#sc5)"><path d="M935 454 L1050 417 L1066.5 478.8 L1021 529.4 L944.4 506 Z" fill="#efb866"/><path d="M950 456.1 L1039.7 427.2 L1052.6 475.4 L1017.1 514.9 L957.4 496.6 Z" fill="#f9dca4" filter="url(#blur6)"/><path d="M972.6 461.7 L1024.4 445 L1031.8 472.8 L1011.3 495.6 L976.8 485.1 Z" fill="#fcedcc" filter="url(#blur9)"/></g>
<g clip-path="url(#sc6)"><path d="M1050 417 L1088.5 400 L1088.5 480.6 L1066.5 478.8 Z" fill="#efb866"/><path d="M1055.1 420 L1085.2 406.7 L1085.2 469.6 L1068 468.2 Z" fill="#f9dca4" filter="url(#blur6)"/><path d="M1062.9 426.9 L1080.2 419.3 L1080.2 455.5 L1070.3 454.7 Z" fill="#fcedcc" filter="url(#blur9)"/></g>
<g clip-path="url(#sc7)"><path d="M680 529 L800 508.8 L837.5 550 L773.8 625.5 L693.6 584.7 Z" fill="#efb866"/><path d="M696.9 532.7 L790.5 517 L819.8 549.1 L770.1 608 L707.5 576.2 Z" fill="#f9dca4" filter="url(#blur6)"/><path d="M722.3 540.8 L776.3 531.7 L793.2 550.3 L764.5 584.3 L728.5 565.9 Z" fill="#fcedcc" filter="url(#blur9)"/></g>
<g clip-path="url(#sc8)"><path d="M604 528 L680 529 L693.6 584.7 L616 637.5 L551 558 Z" fill="#efb866"/><path d="M609.5 533.7 L668.8 534.5 L679.4 577.9 L618.8 619.1 L568.1 557.1 Z" fill="#f9dca4" filter="url(#blur6)"/><path d="M617.7 544.7 L651.9 545.1 L658 570.2 L623.1 594 L593.9 558.2 Z" fill="#fcedcc" filter="url(#blur9)"/></g>
<g clip-path="url(#sc9)"><path d="M901 558.4 L944.4 506 L1021 529.4 L1027.5 576.5 L1003 620 L961.2 661.9 L921.9 650.6 L918 640 Z" fill="#efb866"/><path d="M914.5 563 L948.3 522.1 L1008.1 540.4 L1013.1 577.1 L994 611 L961.5 643.7 L930.8 634.9 L927.7 626.6 Z" fill="#f9dca4" filter="url(#blur6)"/><path d="M934.7 572.3 L954.2 548.8 L988.7 559.3 L991.6 580.5 L980.6 600.1 L961.8 618.9 L944.1 613.8 L942.3 609.1 Z" fill="#fcedcc" filter="url(#blur9)"/></g>
<g clip-path="url(#sc10)"><path d="M837.5 550 L901 558.4 L918 640 L921.9 650.6 L865.6 662 L773.8 625.5 Z" fill="#efb866"/><path d="M844.6 561.2 L894.1 567.7 L907.4 631.4 L910.4 639.6 L866.5 648.5 L794.9 620.1 Z" fill="#f9dca4" filter="url(#blur6)"/><path d="M855.2 580.4 L883.7 584.2 L891.4 620.9 L893.2 625.7 L867.8 630.8 L826.5 614.4 Z" fill="#fcedcc" filter="url(#blur9)"/></g>
<g clip-path="url(#sc11)"><path d="M1066.5 478.8 L1088.5 480.6 L1088.5 622 L1027.5 576.5 L1021 529.4 Z" fill="#efb866"/><path d="M1064.7 488.7 L1081.9 490.1 L1081.9 600.4 L1034.3 564.9 L1029.2 528.2 Z" fill="#f9dca4" filter="url(#blur6)"/><path d="M1062 506.1 L1071.9 506.9 L1071.9 570.5 L1044.5 550 L1041.6 528.8 Z" fill="#fcedcc" filter="url(#blur9)"/></g>
<g clip-path="url(#sc12)"><path d="M1003 620 L1027.5 576.5 L1088.5 622 L1088.5 740 L972 780 L961.2 661.9 Z" fill="#efb866"/><path d="M1007.5 627.3 L1026.6 593.4 L1074.2 628.8 L1074.2 720.9 L983.3 752.1 L974.9 660 Z" fill="#f9dca4" filter="url(#blur6)"/><path d="M1014.3 640.7 L1025.3 621.1 L1052.7 641.6 L1052.7 694.7 L1000.3 712.7 L995.5 659.6 Z" fill="#fcedcc" filter="url(#blur9)"/></g>
<g clip-path="url(#sc13)"><path d="M865.6 662 L921.9 650.6 L961.2 661.9 L972 780 L880 820 L867.5 729.4 Z" fill="#efb866"/><path d="M875.7 671.2 L919.6 662.3 L950.3 671.1 L958.7 763.2 L886.9 794.4 L877.2 723.7 Z" fill="#f9dca4" filter="url(#blur6)"/><path d="M890.8 687.4 L916.1 682.3 L933.8 687.4 L938.7 740.5 L897.3 758.5 L891.6 717.8 Z" fill="#fcedcc" filter="url(#blur9)"/></g>
<g clip-path="url(#sc14)"><path d="M773.8 625.5 L865.6 662 L867.5 729.4 L760.6 733 Z" fill="#efb866"/><path d="M783.3 636.1 L854.9 664.6 L856.4 717.2 L773 720 Z" fill="#f9dca4" filter="url(#blur6)"/><path d="M797.5 654.6 L838.8 671 L839.7 701.3 L791.6 703 Z" fill="#fcedcc" filter="url(#blur9)"/></g>
<g clip-path="url(#sc15)"><path d="M760.6 733 L867.5 729.4 L880 820 L746 845 Z" fill="#efb866"/><path d="M772.2 740.7 L855.6 737.9 L865.4 808.6 L760.9 828.1 Z" fill="#f9dca4" filter="url(#blur6)"/><path d="M789.7 754.9 L837.8 753.2 L843.4 794 L783.1 805.3 Z" fill="#fcedcc" filter="url(#blur9)"/></g>
<g clip-path="url(#sc16)"><path d="M657.3 729.3 L760.6 733 L746 845 L646 850 L653.8 755.8 Z" fill="#efb866"/><path d="M665.1 738 L745.7 740.9 L734.3 828.3 L656.3 832.2 L662.4 758.7 Z" fill="#f9dca4" filter="url(#blur6)"/><path d="M676.8 753.6 L723.3 755.3 L716.7 805.7 L671.7 807.9 L675.2 765.6 Z" fill="#fcedcc" filter="url(#blur9)"/></g>
<g clip-path="url(#sc17)"><path d="M552.8 755.8 L653.8 755.8 L646 850 L540 830 Z" fill="#efb866"/><path d="M562.8 762.1 L641.6 762.1 L635.5 835.5 L552.8 819.9 Z" fill="#f9dca4" filter="url(#blur6)"/><path d="M577.7 774 L623.2 774 L619.7 816.3 L572 807.3 Z" fill="#fcedcc" filter="url(#blur9)"/></g>
<g clip-path="url(#sc18)"><path d="M426.5 741.7 L526 709.8 L552.8 755.8 L540 830 L426.5 810 Z" fill="#efb866"/><path d="M441.4 744.8 L519 719.9 L539.9 755.8 L530 813.7 L441.4 798.1 Z" fill="#f9dca4" filter="url(#blur6)"/><path d="M463.8 752 L508.6 737.6 L520.7 758.3 L514.9 791.7 L463.8 782.7 Z" fill="#fcedcc" filter="url(#blur9)"/></g>
<g clip-path="url(#sc19)"><path d="M426.5 661 L473 655 L526 709.8 L426.5 741.7 Z" fill="#efb866"/><path d="M434.5 664.8 L470.8 660.1 L512.1 702.9 L434.5 727.7 Z" fill="#f9dca4" filter="url(#blur6)"/><path d="M446.6 673 L467.5 670.3 L491.4 694.9 L446.6 709.3 Z" fill="#fcedcc" filter="url(#blur9)"/></g>
<g clip-path="url(#sc20)"><path d="M526 709.8 L616 637.5 L657.3 729.3 L653.8 755.8 L552.8 755.8 Z" fill="#efb866"/><path d="M542.5 708.5 L612.7 652.1 L645 723.7 L642.2 744.4 L563.4 744.4 Z" fill="#f9dca4" filter="url(#blur6)"/><path d="M567.3 709.1 L607.8 676.6 L626.4 717.9 L624.9 729.8 L579.4 729.8 Z" fill="#fcedcc" filter="url(#blur9)"/></g>
<g clip-path="url(#sc21)"><path d="M508.5 565 L551 558 L616 637.5 L526 709.8 L473 655 L476.7 639.6 Z" fill="#efb866"/><path d="M512.2 575.7 L545.3 570.3 L596 632.3 L525.8 688.7 L484.5 645.9 L487.4 633.9 Z" fill="#f9dca4" filter="url(#blur6)"/><path d="M517.7 594.4 L536.8 591.2 L566.1 627 L525.6 659.5 L501.7 634.9 L503.4 627.9 Z" fill="#fcedcc" filter="url(#blur9)"/></g>
<g clip-path="url(#sc22)"><path d="M426.5 547.5 L489 547 L508.5 565 L476.7 639.6 L473 655 L426.5 661 Z" fill="#efb866"/><path d="M435.3 556.6 L484.1 556.2 L499.3 570.3 L474.5 628.4 L471.6 640.5 L435.3 645.1 Z" fill="#f9dca4" filter="url(#blur6)"/><path d="M448.6 572.8 L476.7 572.5 L485.5 580.6 L471.2 614.2 L469.5 621.1 L448.6 623.8 Z" fill="#fcedcc" filter="url(#blur9)"/></g>
<g clip-path="url(#sc23)"><path d="M616 637.5 L693.6 584.7 L773.8 625.5 L760.6 733 L657.3 729.3 Z" fill="#efb866"/><path d="M634.5 639.9 L695.1 598.7 L757.6 630.5 L747.3 714.4 L666.8 711.5 Z" fill="#f9dca4" filter="url(#blur6)"/><path d="M662.3 646 L697.3 622.2 L733.4 640.6 L727.4 689 L680.9 687.3 Z" fill="#fcedcc" filter="url(#blur9)"/></g>
<path d="M533 439 L535 477 M535 477 L489 547 M489 547 L426.5 547.5 M535 477 L604 528 M604 528 L551 558 M551 558 L508.5 565 M508.5 565 L489 547 M694 477 L680 529 M680 529 L604 528 M680 529 L693.6 584.7 M693.6 584.7 L616 637.5 M616 637.5 L551 558 M680 529 L800 508.8 M796 479 L800 508.8 M800 508.8 L837.5 550 M837.5 550 L901 558.4 M901 558.4 L944.4 506 M944.4 506 L935 454 M944.4 506 L1021 529.4 M1021 529.4 L1066.5 478.8 M1066.5 478.8 L1050 417 M1066.5 478.8 L1088.5 480.6 M837.5 550 L773.8 625.5 M773.8 625.5 L693.6 584.7 M901 558.4 L918 640 M918 640 L921.9 650.6 M921.9 650.6 L865.6 662 M865.6 662 L773.8 625.5 M921.9 650.6 L961.2 661.9 M961.2 661.9 L1003 620 M1003 620 L1027.5 576.5 M1027.5 576.5 L1021 529.4 M1027.5 576.5 L1088.5 622 M773.8 625.5 L760.6 733 M865.6 662 L867.5 729.4 M867.5 729.4 L760.6 733 M760.6 733 L657.3 729.3 M657.3 729.3 L616 637.5 M657.3 729.3 L653.8 755.8 M653.8 755.8 L552.8 755.8 M552.8 755.8 L526 709.8 M526 709.8 L616 637.5 M526 709.8 L473 655 M473 655 L426.5 661 M526 709.8 L426.5 741.7 M473 655 L476.7 639.6 M476.7 639.6 L508.5 565 M552.8 755.8 L540 830 M653.8 755.8 L646 850 M760.6 733 L746 845 M867.5 729.4 L880 820 M961.2 661.9 L972 780" fill="none" stroke="#c98238" stroke-width="7" opacity="0.4" filter="url(#blur3)"/>
<path d="M533 439 L535 477 M535 477 L489 547 M489 547 L426.5 547.5 M535 477 L604 528 M604 528 L551 558 M551 558 L508.5 565 M508.5 565 L489 547 M694 477 L680 529 M680 529 L604 528 M680 529 L693.6 584.7 M693.6 584.7 L616 637.5 M616 637.5 L551 558 M680 529 L800 508.8 M796 479 L800 508.8 M800 508.8 L837.5 550 M837.5 550 L901 558.4 M901 558.4 L944.4 506 M944.4 506 L935 454 M944.4 506 L1021 529.4 M1021 529.4 L1066.5 478.8 M1066.5 478.8 L1050 417 M1066.5 478.8 L1088.5 480.6 M837.5 550 L773.8 625.5 M773.8 625.5 L693.6 584.7 M901 558.4 L918 640 M918 640 L921.9 650.6 M921.9 650.6 L865.6 662 M865.6 662 L773.8 625.5 M921.9 650.6 L961.2 661.9 M961.2 661.9 L1003 620 M1003 620 L1027.5 576.5 M1027.5 576.5 L1021 529.4 M1027.5 576.5 L1088.5 622 M773.8 625.5 L760.6 733 M865.6 662 L867.5 729.4 M867.5 729.4 L760.6 733 M760.6 733 L657.3 729.3 M657.3 729.3 L616 637.5 M657.3 729.3 L653.8 755.8 M653.8 755.8 L552.8 755.8 M552.8 755.8 L526 709.8 M526 709.8 L616 637.5 M526 709.8 L473 655 M473 655 L426.5 661 M526 709.8 L426.5 741.7 M473 655 L476.7 639.6 M476.7 639.6 L508.5 565 M552.8 755.8 L540 830 M653.8 755.8 L646 850 M760.6 733 L746 845 M867.5 729.4 L880 820 M961.2 661.9 L972 780" fill="none" stroke="#6e2614" stroke-width="2.9" stroke-linecap="round" stroke-linejoin="round"/>
<g fill="#6e2614"><circle cx="535" cy="477" r="2.4"/><circle cx="489" cy="547" r="2.4"/><circle cx="604" cy="528" r="2.4"/><circle cx="551" cy="558" r="2.4"/><circle cx="508.5" cy="565" r="2.4"/><circle cx="680" cy="529" r="2.4"/><circle cx="693.6" cy="584.7" r="2.4"/><circle cx="616" cy="637.5" r="2.4"/><circle cx="800" cy="508.8" r="2.4"/><circle cx="837.5" cy="550" r="2.4"/><circle cx="901" cy="558.4" r="2.4"/><circle cx="944.4" cy="506" r="2.4"/><circle cx="1021" cy="529.4" r="2.4"/><circle cx="1066.5" cy="478.8" r="2.4"/><circle cx="773.8" cy="625.5" r="2.4"/><circle cx="921.9" cy="650.6" r="2.4"/><circle cx="865.6" cy="662" r="2.4"/><circle cx="961.2" cy="661.9" r="2.4"/><circle cx="1027.5" cy="576.5" r="2.4"/><circle cx="760.6" cy="733" r="2.4"/><circle cx="867.5" cy="729.4" r="2.4"/><circle cx="657.3" cy="729.3" r="2.4"/><circle cx="653.8" cy="755.8" r="2.4"/><circle cx="552.8" cy="755.8" r="2.4"/><circle cx="526" cy="709.8" r="2.4"/><circle cx="473" cy="655" r="2.4"/></g>
<ellipse cx="455.4" cy="481" rx="34" ry="12" transform="rotate(-28 455.4 481)" fill="#fff7e6" opacity="0.8" filter="url(#blur2)"/>
<ellipse cx="455.4" cy="481" rx="32" ry="9.5" transform="rotate(-28 455.4 481)" fill="url(#nuc)"/>
<ellipse cx="627" cy="485.5" rx="31" ry="11" transform="rotate(18 627 485.5)" fill="#fff7e6" opacity="0.8" filter="url(#blur2)"/>
<ellipse cx="627" cy="485.5" rx="29" ry="8.5" transform="rotate(18 627 485.5)" fill="url(#nuc)"/>
<ellipse cx="545" cy="522" rx="21" ry="8" transform="rotate(0 545 522)" fill="#fff7e6" opacity="0.8" filter="url(#blur2)"/>
<ellipse cx="545" cy="522" rx="19" ry="5.5" transform="rotate(0 545 522)" fill="url(#nuc)"/>
<ellipse cx="751" cy="493.8" rx="19" ry="8" transform="rotate(-15 751 493.8)" fill="#fff7e6" opacity="0.8" filter="url(#blur2)"/>
<ellipse cx="751" cy="493.8" rx="17" ry="5.5" transform="rotate(-15 751 493.8)" fill="url(#nuc)"/>
<ellipse cx="877.8" cy="502" rx="36" ry="12.5" transform="rotate(-12 877.8 502)" fill="#fff7e6" opacity="0.8" filter="url(#blur2)"/>
<ellipse cx="877.8" cy="502" rx="34" ry="10" transform="rotate(-12 877.8 502)" fill="url(#nuc)"/>
<ellipse cx="1004.4" cy="471.3" rx="36" ry="11" transform="rotate(-3 1004.4 471.3)" fill="#fff7e6" opacity="0.8" filter="url(#blur2)"/>
<ellipse cx="1004.4" cy="471.3" rx="34" ry="8.5" transform="rotate(-3 1004.4 471.3)" fill="url(#nuc)"/>
<ellipse cx="1083" cy="439" rx="22" ry="9.5" transform="rotate(-10 1083 439)" fill="#fff7e6" opacity="0.8" filter="url(#blur2)"/>
<ellipse cx="1083" cy="439" rx="20" ry="7" transform="rotate(-10 1083 439)" fill="url(#nuc)"/>
<ellipse cx="766" cy="555.6" rx="29" ry="12" transform="rotate(12 766 555.6)" fill="#fff7e6" opacity="0.8" filter="url(#blur2)"/>
<ellipse cx="766" cy="555.6" rx="27" ry="9.5" transform="rotate(12 766 555.6)" fill="url(#nuc)"/>
<ellipse cx="630" cy="573" rx="30.5" ry="11" transform="rotate(-28 630 573)" fill="#fff7e6" opacity="0.8" filter="url(#blur2)"/>
<ellipse cx="630" cy="573" rx="28.5" ry="8.5" transform="rotate(-28 630 573)" fill="url(#nuc)"/>
<ellipse cx="963" cy="574.4" rx="29" ry="10" transform="rotate(-3 963 574.4)" fill="#fff7e6" opacity="0.8" filter="url(#blur2)"/>
<ellipse cx="963" cy="574.4" rx="27" ry="7.5" transform="rotate(-3 963 574.4)" fill="url(#nuc)"/>
<ellipse cx="860" cy="604.4" rx="29.5" ry="11" transform="rotate(-3 860 604.4)" fill="#fff7e6" opacity="0.8" filter="url(#blur2)"/>
<ellipse cx="860" cy="604.4" rx="27.5" ry="8.5" transform="rotate(-3 860 604.4)" fill="url(#nuc)"/>
<ellipse cx="1070" cy="548" rx="26" ry="10.5" transform="rotate(25 1070 548)" fill="#fff7e6" opacity="0.8" filter="url(#blur2)"/>
<ellipse cx="1070" cy="548" rx="24" ry="8" transform="rotate(25 1070 548)" fill="url(#nuc)"/>
<ellipse cx="1024" cy="664.7" rx="33.5" ry="11.5" transform="rotate(-28 1024 664.7)" fill="#fff7e6" opacity="0.8" filter="url(#blur2)"/>
<ellipse cx="1024" cy="664.7" rx="31.5" ry="9" transform="rotate(-28 1024 664.7)" fill="url(#nuc)"/>
<ellipse cx="919" cy="709.7" rx="26" ry="10.5" transform="rotate(-28 919 709.7)" fill="#fff7e6" opacity="0.8" filter="url(#blur2)"/>
<ellipse cx="919" cy="709.7" rx="24" ry="8" transform="rotate(-28 919 709.7)" fill="url(#nuc)"/>
<ellipse cx="816" cy="690" rx="25.5" ry="10" transform="rotate(-15 816 690)" fill="#fff7e6" opacity="0.8" filter="url(#blur2)"/>
<ellipse cx="816" cy="690" rx="23.5" ry="7.5" transform="rotate(-15 816 690)" fill="url(#nuc)"/>
<ellipse cx="812" cy="766" rx="22.5" ry="10" transform="rotate(-28 812 766)" fill="#fff7e6" opacity="0.8" filter="url(#blur2)"/>
<ellipse cx="812" cy="766" rx="20.5" ry="7.5" transform="rotate(-28 812 766)" fill="url(#nuc)"/>
<ellipse cx="706" cy="778.9" rx="30" ry="10.5" transform="rotate(-3 706 778.9)" fill="#fff7e6" opacity="0.8" filter="url(#blur2)"/>
<ellipse cx="706" cy="778.9" rx="28" ry="8" transform="rotate(-3 706 778.9)" fill="url(#nuc)"/>
<ellipse cx="602.4" cy="786.8" rx="28" ry="10.5" transform="rotate(20 602.4 786.8)" fill="#fff7e6" opacity="0.8" filter="url(#blur2)"/>
<ellipse cx="602.4" cy="786.8" rx="26" ry="8" transform="rotate(20 602.4 786.8)" fill="url(#nuc)"/>
<ellipse cx="497" cy="756.7" rx="29.5" ry="10" transform="rotate(0 497 756.7)" fill="#fff7e6" opacity="0.8" filter="url(#blur2)"/>
<ellipse cx="497" cy="756.7" rx="27.5" ry="7.5" transform="rotate(0 497 756.7)" fill="url(#nuc)"/>
<ellipse cx="459" cy="701.8" rx="29" ry="10.5" transform="rotate(-5 459 701.8)" fill="#fff7e6" opacity="0.8" filter="url(#blur2)"/>
<ellipse cx="459" cy="701.8" rx="27" ry="8" transform="rotate(-5 459 701.8)" fill="url(#nuc)"/>
<ellipse cx="598" cy="708" rx="28" ry="10.5" transform="rotate(-28 598 708)" fill="#fff7e6" opacity="0.8" filter="url(#blur2)"/>
<ellipse cx="598" cy="708" rx="26" ry="8" transform="rotate(-28 598 708)" fill="url(#nuc)"/>
<ellipse cx="544.8" cy="632" rx="27.5" ry="11" transform="rotate(22 544.8 632)" fill="#fff7e6" opacity="0.8" filter="url(#blur2)"/>
<ellipse cx="544.8" cy="632" rx="25.5" ry="8.5" transform="rotate(22 544.8 632)" fill="url(#nuc)"/>
<ellipse cx="449" cy="605" rx="31" ry="9.5" transform="rotate(-70 449 605)" fill="#fff7e6" opacity="0.8" filter="url(#blur2)"/>
<ellipse cx="449" cy="605" rx="29" ry="7" transform="rotate(-70 449 605)" fill="url(#nuc)"/>
<ellipse cx="704" cy="664.6" rx="36" ry="11" transform="rotate(0 704 664.6)" fill="#fff7e6" opacity="0.8" filter="url(#blur2)"/>
<ellipse cx="704" cy="664.6" rx="34" ry="8.5" transform="rotate(0 704 664.6)" fill="url(#nuc)"/>
<path d="M426.5 784 L434.9 783.9 L443.3 784.2 L451.6 785.1 L460 786 L468.4 787.1 L476.8 788.7 L485.2 790.9 L493.5 794.1 L501.9 797.6 L510.3 801.1 L518.7 803.9 L527.1 805.9 L535.4 807.4 L543.8 808.7 L552.2 810.1 L560.6 811.8 L569 813.7 L577.3 815.6 L585.7 817.7 L594.1 819.7 L602.5 821.9 L610.9 824.3 L619.2 826.7 L627.6 829 L636 830.9 L644.4 832.1 L652.8 833 L661.1 833.5 L669.5 833.9 L677.9 834.1 L686.3 834.1 L694.7 834 L703 833.5 L711.4 832.7 L719.8 831.5 L728.2 830.1 L736.6 828.4 L744.9 826.5 L753.3 824.5 L761.7 822.4 L770.1 819.8 L778.4 816.9 L786.8 813.3 L795.2 809.4 L803.6 805.4 L812 801.7 L820.3 798.5 L828.7 795.4 L837.1 792.5 L845.5 789.7 L853.9 787 L862.2 784.5 L870.6 782.1 L879 779.7 L887.4 777.2 L895.8 774.7 L904.1 772.3 L912.5 769.8 L920.9 767.1 L929.3 764 L937.7 760.3 L946 755.9 L954.4 751.4 L962.8 747.1 L971.2 743.5 L979.6 740.5 L987.9 737.9 L996.3 735.5 L1004.7 733.2 L1013.1 730.9 L1021.5 728.9 L1029.8 727 L1038.2 725.2 L1046.6 723.2 L1055 720.9 L1063.4 718.3 L1071.7 715.6 L1080.1 712.7 L1088.5 710" fill="none" stroke="#b06a38" stroke-width="7" opacity="0.5" filter="url(#blur3)"/>
<g transform="translate(445 835.1) rotate(-0)"><rect x="-19" y="-52.7" width="38" height="105.4" rx="18" ry="18" fill="#f2a443" stroke="#d98a2e" stroke-width="1.5"/><rect x="-12.9" y="-39" width="25.8" height="75.9" rx="11" fill="#f9c878" filter="url(#blur3)"/><rect x="-10.3" y="-34.8" width="20.5" height="67.5" rx="9" fill="#fde4a8" filter="url(#blur2)"/><ellipse cx="-8" cy="-44.7" rx="3.5" ry="2.5" fill="#fbd6a0" opacity="0.45"/></g>
<path d="M5.6 0 L5.5 7.6 L5.4 12.6 L5.1 16.9 L4.8 20.5 L4.3 23.5 L3.8 26 L3.1 28 L2.3 29.4 L1.4 30.2 L0 30.5 L-1.4 30.2 L-2.3 29.4 L-3.1 28 L-3.8 26 L-4.3 23.5 L-4.8 20.5 L-5.1 16.9 L-5.4 12.6 L-5.5 7.6 L-5.6 0 L-5.5 -7.6 L-5.4 -12.6 L-5.1 -16.9 L-4.8 -20.5 L-4.3 -23.5 L-3.8 -26 L-3.1 -28 L-2.3 -29.4 L-1.4 -30.2 L-0 -30.5 L1.4 -30.2 L2.3 -29.4 L3.1 -28 L3.8 -26 L4.3 -23.5 L4.8 -20.5 L5.1 -16.9 L5.4 -12.6 L5.5 -7.6 Z" transform="translate(443 832.9) rotate(-0)" fill="url(#bnuc)"/>
<g transform="translate(481 840.4) rotate(-0)"><rect x="-19" y="-52.6" width="38" height="105.3" rx="18" ry="18" fill="#f2a443" stroke="#d98a2e" stroke-width="1.5"/><rect x="-12.9" y="-39" width="25.8" height="75.8" rx="11" fill="#f9c878" filter="url(#blur3)"/><rect x="-10.3" y="-34.7" width="20.5" height="67.4" rx="9" fill="#fde4a8" filter="url(#blur2)"/><ellipse cx="-8" cy="-44.6" rx="3.5" ry="2.5" fill="#fbd6a0" opacity="0.45"/></g>
<path d="M5.6 0 L5.5 7.8 L5.4 13.1 L5.1 17.4 L4.8 21.1 L4.3 24.3 L3.8 26.9 L3.1 28.9 L2.3 30.3 L1.4 31.2 L0 31.5 L-1.4 31.2 L-2.3 30.3 L-3.1 28.9 L-3.8 26.9 L-4.3 24.3 L-4.8 21.1 L-5.1 17.4 L-5.4 13.1 L-5.5 7.8 L-5.6 0 L-5.5 -7.8 L-5.4 -13.1 L-5.1 -17.4 L-4.8 -21.1 L-4.3 -24.3 L-3.8 -26.9 L-3.1 -28.9 L-2.3 -30.3 L-1.4 -31.2 L-0 -31.5 L1.4 -31.2 L2.3 -30.3 L3.1 -28.9 L3.8 -26.9 L4.3 -24.3 L4.8 -21.1 L5.1 -17.4 L5.4 -13.1 L5.5 -7.8 Z" transform="translate(481 838) rotate(-0)" fill="url(#bnuc)"/>
<g transform="translate(518.7 853.7) rotate(-0)"><rect x="-19" y="-51.8" width="38" height="103.6" rx="18" ry="18" fill="#f2a443" stroke="#d98a2e" stroke-width="1.5"/><rect x="-12.9" y="-38.3" width="25.8" height="74.6" rx="11" fill="#f9c878" filter="url(#blur3)"/><rect x="-10.3" y="-34.2" width="20.5" height="66.3" rx="9" fill="#fde4a8" filter="url(#blur2)"/><ellipse cx="-8" cy="-43.8" rx="3.5" ry="2.5" fill="#fbd6a0" opacity="0.45"/></g>
<path d="M5.6 0 L5.5 8.6 L5.4 14.3 L5.1 19.1 L4.8 23.2 L4.3 26.6 L3.8 29.4 L3.1 31.6 L2.3 33.2 L1.4 34.2 L0 34.5 L-1.4 34.2 L-2.3 33.2 L-3.1 31.6 L-3.8 29.4 L-4.3 26.6 L-4.8 23.2 L-5.1 19.1 L-5.4 14.3 L-5.5 8.6 L-5.6 0 L-5.5 -8.6 L-5.4 -14.3 L-5.1 -19.1 L-4.8 -23.2 L-4.3 -26.6 L-3.8 -29.4 L-3.1 -31.6 L-2.3 -33.2 L-1.4 -34.2 L-0 -34.5 L1.4 -34.2 L2.3 -33.2 L3.1 -31.6 L3.8 -29.4 L4.3 -26.6 L4.8 -23.2 L5.1 -19.1 L5.4 -14.3 L5.5 -8.6 Z" transform="translate(519 851.5) rotate(-0)" fill="url(#bnuc)"/>
<g transform="translate(556.8 860.4) rotate(-0)"><rect x="-19" y="-51.4" width="38" height="102.7" rx="18" ry="18" fill="#f2a443" stroke="#d98a2e" stroke-width="1.5"/><rect x="-12.9" y="-38" width="25.8" height="73.9" rx="11" fill="#f9c878" filter="url(#blur3)"/><rect x="-10.3" y="-33.9" width="20.5" height="65.7" rx="9" fill="#fde4a8" filter="url(#blur2)"/><ellipse cx="-8" cy="-43.4" rx="3.5" ry="2.5" fill="#fbd6a0" opacity="0.45"/></g>
<path d="M5.6 0 L5.5 8.1 L5.4 13.5 L5.1 18 L4.8 21.8 L4.3 25.1 L3.8 27.7 L3.1 29.8 L2.3 31.3 L1.4 32.2 L0 32.5 L-1.4 32.2 L-2.3 31.3 L-3.1 29.8 L-3.8 27.7 L-4.3 25.1 L-4.8 21.8 L-5.1 18 L-5.4 13.5 L-5.5 8.1 L-5.6 0 L-5.5 -8.1 L-5.4 -13.5 L-5.1 -18 L-4.8 -21.8 L-4.3 -25.1 L-3.8 -27.7 L-3.1 -29.8 L-2.3 -31.3 L-1.4 -32.2 L-0 -32.5 L1.4 -32.2 L2.3 -31.3 L3.1 -29.8 L3.8 -27.7 L4.3 -25.1 L4.8 -21.8 L5.1 -18 L5.4 -13.5 L5.5 -8.1 Z" transform="translate(557 858.5) rotate(-0)" fill="url(#bnuc)"/>
<g transform="translate(598 868.8) rotate(-0)"><rect x="-19" y="-50" width="38" height="100.1" rx="18" ry="18" fill="#f2a443" stroke="#d98a2e" stroke-width="1.5"/><rect x="-12.9" y="-37" width="25.8" height="72.1" rx="11" fill="#f9c878" filter="url(#blur3)"/><rect x="-10.3" y="-33" width="20.5" height="64.1" rx="9" fill="#fde4a8" filter="url(#blur2)"/><ellipse cx="-8" cy="-42" rx="3.5" ry="2.5" fill="#fbd6a0" opacity="0.45"/></g>
<path d="M5.6 0 L5.5 8.1 L5.4 13.5 L5.1 18 L4.8 21.8 L4.3 25.1 L3.8 27.7 L3.1 29.8 L2.3 31.3 L1.4 32.2 L0 32.5 L-1.4 32.2 L-2.3 31.3 L-3.1 29.8 L-3.8 27.7 L-4.3 25.1 L-4.8 21.8 L-5.1 18 L-5.4 13.5 L-5.5 8.1 L-5.6 0 L-5.5 -8.1 L-5.4 -13.5 L-5.1 -18 L-4.8 -21.8 L-4.3 -25.1 L-3.8 -27.7 L-3.1 -29.8 L-2.3 -31.3 L-1.4 -32.2 L-0 -32.5 L1.4 -32.2 L2.3 -31.3 L3.1 -29.8 L3.8 -27.7 L4.3 -25.1 L4.8 -21.8 L5.1 -18 L5.4 -13.5 L5.5 -8.1 Z" transform="translate(598 868) rotate(-0)" fill="url(#bnuc)"/>
<g transform="translate(636.8 877.9) rotate(-0)"><rect x="-19" y="-48.9" width="38" height="97.7" rx="18" ry="18" fill="#f2a443" stroke="#d98a2e" stroke-width="1.5"/><rect x="-12.9" y="-36.1" width="25.8" height="70.3" rx="11" fill="#f9c878" filter="url(#blur3)"/><rect x="-10.3" y="-32.2" width="20.5" height="62.5" rx="9" fill="#fde4a8" filter="url(#blur2)"/><ellipse cx="-8" cy="-40.9" rx="3.5" ry="2.5" fill="#fbd6a0" opacity="0.45"/></g>
<path d="M5.6 0 L5.5 8.3 L5.4 13.9 L5.1 18.5 L4.8 22.5 L4.3 25.8 L3.8 28.6 L3.1 30.7 L2.3 32.3 L1.4 33.2 L0 33.5 L-1.4 33.2 L-2.3 32.3 L-3.1 30.7 L-3.8 28.6 L-4.3 25.8 L-4.8 22.5 L-5.1 18.5 L-5.4 13.9 L-5.5 8.3 L-5.6 0 L-5.5 -8.3 L-5.4 -13.9 L-5.1 -18.5 L-4.8 -22.5 L-4.3 -25.8 L-3.8 -28.6 L-3.1 -30.7 L-2.3 -32.3 L-1.4 -33.2 L-0 -33.5 L1.4 -33.2 L2.3 -32.3 L3.1 -30.7 L3.8 -28.6 L4.3 -25.8 L4.8 -22.5 L5.1 -18.5 L5.4 -13.9 L5.5 -8.3 Z" transform="translate(638.5 877) rotate(-0.6)" fill="url(#bnuc)"/>
<g transform="translate(674 880.2) rotate(-0)"><rect x="-19" y="-48.2" width="38" height="96.5" rx="18" ry="18" fill="#f2a443" stroke="#d98a2e" stroke-width="1.5"/><rect x="-12.9" y="-35.7" width="25.8" height="69.5" rx="11" fill="#f9c878" filter="url(#blur3)"/><rect x="-10.3" y="-31.8" width="20.5" height="61.8" rx="9" fill="#fde4a8" filter="url(#blur2)"/><ellipse cx="-8" cy="-40.2" rx="3.5" ry="2.5" fill="#fbd6a0" opacity="0.45"/></g>
<path d="M5.6 0 L5.5 8.2 L5.4 13.7 L5.1 18.3 L4.8 22.2 L4.3 25.4 L3.8 28.2 L3.1 30.3 L2.3 31.8 L1.4 32.7 L0 33 L-1.4 32.7 L-2.3 31.8 L-3.1 30.3 L-3.8 28.2 L-4.3 25.4 L-4.8 22.2 L-5.1 18.3 L-5.4 13.7 L-5.5 8.2 L-5.6 0 L-5.5 -8.2 L-5.4 -13.7 L-5.1 -18.3 L-4.8 -22.2 L-4.3 -25.4 L-3.8 -28.2 L-3.1 -30.3 L-2.3 -31.8 L-1.4 -32.7 L-0 -33 L1.4 -32.7 L2.3 -31.8 L3.1 -30.3 L3.8 -28.2 L4.3 -25.4 L4.8 -22.2 L5.1 -18.3 L5.4 -13.7 L5.5 -8.2 Z" transform="translate(674 880) rotate(-0)" fill="url(#bnuc)"/>
<g transform="translate(708.6 879.8) rotate(-0)"><rect x="-19" y="-48.8" width="38" height="97.5" rx="18" ry="18" fill="#f2a443" stroke="#d98a2e" stroke-width="1.5"/><rect x="-12.9" y="-36.1" width="25.8" height="70.2" rx="11" fill="#f9c878" filter="url(#blur3)"/><rect x="-10.3" y="-32.2" width="20.5" height="62.4" rx="9" fill="#fde4a8" filter="url(#blur2)"/><ellipse cx="-8" cy="-40.8" rx="3.5" ry="2.5" fill="#fbd6a0" opacity="0.45"/></g>
<path d="M5.6 0 L5.5 7.5 L5.4 12.4 L5.1 16.6 L4.8 20.1 L4.3 23.1 L3.8 25.6 L3.1 27.5 L2.3 28.9 L1.4 29.7 L0 30 L-1.4 29.7 L-2.3 28.9 L-3.1 27.5 L-3.8 25.6 L-4.3 23.1 L-4.8 20.1 L-5.1 16.6 L-5.4 12.4 L-5.5 7.5 L-5.6 0 L-5.5 -7.5 L-5.4 -12.4 L-5.1 -16.6 L-4.8 -20.1 L-4.3 -23.1 L-3.8 -25.6 L-3.1 -27.5 L-2.3 -28.9 L-1.4 -29.7 L-0 -30 L1.4 -29.7 L2.3 -28.9 L3.1 -27.5 L3.8 -25.6 L4.3 -23.1 L4.8 -20.1 L5.1 -16.6 L5.4 -12.4 L5.5 -7.5 Z" transform="translate(709.5 878) rotate(-0)" fill="url(#bnuc)"/>
<g transform="translate(744.1 876.3) rotate(-1.5)"><rect x="-19" y="-51.3" width="38" height="102.6" rx="18" ry="18" fill="#f2a443" stroke="#d98a2e" stroke-width="1.5"/><rect x="-12.9" y="-38" width="25.8" height="73.9" rx="11" fill="#f9c878" filter="url(#blur3)"/><rect x="-10.3" y="-33.9" width="20.5" height="65.7" rx="9" fill="#fde4a8" filter="url(#blur2)"/><ellipse cx="-8" cy="-43.3" rx="3.5" ry="2.5" fill="#fbd6a0" opacity="0.45"/></g>
<path d="M5.6 0 L5.5 7.7 L5.4 12.9 L5.1 17.2 L4.8 20.8 L4.3 23.9 L3.8 26.5 L3.1 28.5 L2.3 29.9 L1.4 30.7 L0 31 L-1.4 30.7 L-2.3 29.9 L-3.1 28.5 L-3.8 26.5 L-4.3 23.9 L-4.8 20.8 L-5.1 17.2 L-5.4 12.9 L-5.5 7.7 L-5.6 0 L-5.5 -7.7 L-5.4 -12.9 L-5.1 -17.2 L-4.8 -20.8 L-4.3 -23.9 L-3.8 -26.5 L-3.1 -28.5 L-2.3 -29.9 L-1.4 -30.7 L-0 -31 L1.4 -30.7 L2.3 -29.9 L3.1 -28.5 L3.8 -26.5 L4.3 -23.9 L4.8 -20.8 L5.1 -17.2 L5.4 -12.9 L5.5 -7.7 Z" transform="translate(746.1 875.6) rotate(-2.7)" fill="url(#bnuc)"/>
<g transform="translate(780.3 866.3) rotate(-4.2)"><rect x="-19" y="-50.8" width="38" height="101.7" rx="18" ry="18" fill="#f2a443" stroke="#d98a2e" stroke-width="1.5"/><rect x="-12.9" y="-37.6" width="25.8" height="73.2" rx="11" fill="#f9c878" filter="url(#blur3)"/><rect x="-10.3" y="-33.6" width="20.5" height="65.1" rx="9" fill="#fde4a8" filter="url(#blur2)"/><ellipse cx="-8" cy="-42.8" rx="3.5" ry="2.5" fill="#fbd6a0" opacity="0.45"/></g>
<path d="M5.6 0 L5.5 7.5 L5.4 12.5 L5.1 16.7 L4.8 20.3 L4.3 23.3 L3.8 25.7 L3.1 27.7 L2.3 29.1 L1.4 29.9 L0 30.2 L-1.4 29.9 L-2.3 29.1 L-3.1 27.7 L-3.8 25.7 L-4.3 23.3 L-4.8 20.3 L-5.1 16.7 L-5.4 12.5 L-5.5 7.5 L-5.6 0 L-5.5 -7.5 L-5.4 -12.5 L-5.1 -16.7 L-4.8 -20.3 L-4.3 -23.3 L-3.8 -25.7 L-3.1 -27.7 L-2.3 -29.1 L-1.4 -29.9 L-0 -30.2 L1.4 -29.9 L2.3 -29.1 L3.1 -27.7 L3.8 -25.7 L4.3 -23.3 L4.8 -20.3 L5.1 -16.7 L5.4 -12.5 L5.5 -7.5 Z" transform="translate(781.8 864.7) rotate(-10.3)" fill="url(#bnuc)"/>
<g transform="translate(819 853.6) rotate(-7.4)"><rect x="-19" y="-54.4" width="38" height="108.7" rx="18" ry="18" fill="#f2a443" stroke="#d98a2e" stroke-width="1.5"/><rect x="-12.9" y="-40.2" width="25.8" height="78.3" rx="11" fill="#f9c878" filter="url(#blur3)"/><rect x="-10.3" y="-35.9" width="20.5" height="69.6" rx="9" fill="#fde4a8" filter="url(#blur2)"/><ellipse cx="-8" cy="-46.4" rx="3.5" ry="2.5" fill="#fbd6a0" opacity="0.45"/></g>
<path d="M5.6 0 L5.5 8 L5.4 13.4 L5.1 17.9 L4.8 21.7 L4.3 24.9 L3.8 27.5 L3.1 29.6 L2.3 31.1 L1.4 32 L0 32.3 L-1.4 32 L-2.3 31.1 L-3.1 29.6 L-3.8 27.5 L-4.3 24.9 L-4.8 21.7 L-5.1 17.9 L-5.4 13.4 L-5.5 8 L-5.6 0 L-5.5 -8 L-5.4 -13.4 L-5.1 -17.9 L-4.8 -21.7 L-4.3 -24.9 L-3.8 -27.5 L-3.1 -29.6 L-2.3 -31.1 L-1.4 -32 L-0 -32.3 L1.4 -32 L2.3 -31.1 L3.1 -29.6 L3.8 -27.5 L4.3 -24.9 L4.8 -21.7 L5.1 -17.9 L5.4 -13.4 L5.5 -8 Z" transform="translate(820 853.5) rotate(-12.9)" fill="url(#bnuc)"/>
<g transform="translate(859.9 839.1) rotate(-12)"><rect x="-19" y="-53.7" width="38" height="107.3" rx="18" ry="18" fill="#f2a443" stroke="#d98a2e" stroke-width="1.5"/><rect x="-12.9" y="-39.7" width="25.8" height="77.3" rx="11" fill="#f9c878" filter="url(#blur3)"/><rect x="-10.3" y="-35.4" width="20.5" height="68.7" rx="9" fill="#fde4a8" filter="url(#blur2)"/><ellipse cx="-8" cy="-45.7" rx="3.5" ry="2.5" fill="#fbd6a0" opacity="0.45"/></g>
<path d="M5.6 0 L5.5 8.2 L5.4 13.6 L5.1 18.1 L4.8 22 L4.3 25.3 L3.8 28 L3.1 30.1 L2.3 31.6 L1.4 32.5 L0 32.8 L-1.4 32.5 L-2.3 31.6 L-3.1 30.1 L-3.8 28 L-4.3 25.3 L-4.8 22 L-5.1 18.1 L-5.4 13.6 L-5.5 8.2 L-5.6 0 L-5.5 -8.2 L-5.4 -13.6 L-5.1 -18.1 L-4.8 -22 L-4.3 -25.3 L-3.8 -28 L-3.1 -30.1 L-2.3 -31.6 L-1.4 -32.5 L-0 -32.8 L1.4 -32.5 L2.3 -31.6 L3.1 -30.1 L3.8 -28 L4.3 -25.3 L4.8 -22 L5.1 -18.1 L5.4 -13.6 L5.5 -8.2 Z" transform="translate(860.5 840.5) rotate(-16.3)" fill="url(#bnuc)"/>
<g transform="translate(900.2 828.5) rotate(-12.9)"><rect x="-19" y="-54.9" width="38" height="109.8" rx="18" ry="18" fill="#f2a443" stroke="#d98a2e" stroke-width="1.5"/><rect x="-12.9" y="-40.6" width="25.8" height="79" rx="11" fill="#f9c878" filter="url(#blur3)"/><rect x="-10.3" y="-36.2" width="20.5" height="70.3" rx="9" fill="#fde4a8" filter="url(#blur2)"/><ellipse cx="-8" cy="-46.9" rx="3.5" ry="2.5" fill="#fbd6a0" opacity="0.45"/></g>
<path d="M5.6 0 L5.5 9 L5.4 15.1 L5.1 20.1 L4.8 24.4 L4.3 28 L3.8 31 L3.1 33.3 L2.3 35 L1.4 36 L0 36.3 L-1.4 36 L-2.3 35 L-3.1 33.3 L-3.8 31 L-4.3 28 L-4.8 24.4 L-5.1 20.1 L-5.4 15.1 L-5.5 9 L-5.6 0 L-5.5 -9 L-5.4 -15.1 L-5.1 -20.1 L-4.8 -24.4 L-4.3 -28 L-3.8 -31 L-3.1 -33.3 L-2.3 -35 L-1.4 -36 L-0 -36.3 L1.4 -36 L2.3 -35 L3.1 -33.3 L3.8 -31 L4.3 -28 L4.8 -24.4 L5.1 -20.1 L5.4 -15.1 L5.5 -9 Z" transform="translate(903.1 827.8) rotate(-16.9)" fill="url(#bnuc)"/>
<g transform="translate(943.5 814) rotate(-15.1)"><rect x="-19" y="-53.9" width="38" height="107.7" rx="18" ry="18" fill="#f2a443" stroke="#d98a2e" stroke-width="1.5"/><rect x="-12.9" y="-39.9" width="25.8" height="77.6" rx="11" fill="#f9c878" filter="url(#blur3)"/><rect x="-10.3" y="-35.6" width="20.5" height="68.9" rx="9" fill="#fde4a8" filter="url(#blur2)"/><ellipse cx="-8" cy="-45.9" rx="3.5" ry="2.5" fill="#fbd6a0" opacity="0.45"/></g>
<path d="M5.6 0 L5.5 8.4 L5.4 13.9 L5.1 18.6 L4.8 22.6 L4.3 25.9 L3.8 28.7 L3.1 30.8 L2.3 32.4 L1.4 33.3 L0 33.6 L-1.4 33.3 L-2.3 32.4 L-3.1 30.8 L-3.8 28.7 L-4.3 25.9 L-4.8 22.6 L-5.1 18.6 L-5.4 13.9 L-5.5 8.4 L-5.6 0 L-5.5 -8.4 L-5.4 -13.9 L-5.1 -18.6 L-4.8 -22.6 L-4.3 -25.9 L-3.8 -28.7 L-3.1 -30.8 L-2.3 -32.4 L-1.4 -33.3 L-0 -33.6 L1.4 -33.3 L2.3 -32.4 L3.1 -30.8 L3.8 -28.7 L4.3 -25.9 L4.8 -22.6 L5.1 -18.6 L5.4 -13.9 L5.5 -8.4 Z" transform="translate(945.8 812.4) rotate(-21.1)" fill="url(#bnuc)"/>
<g transform="translate(984.2 796.2) rotate(-16.1)"><rect x="-19" y="-55.9" width="38" height="111.9" rx="18" ry="18" fill="#f2a443" stroke="#d98a2e" stroke-width="1.5"/><rect x="-12.9" y="-41.4" width="25.8" height="80.5" rx="11" fill="#f9c878" filter="url(#blur3)"/><rect x="-10.3" y="-36.9" width="20.5" height="71.6" rx="9" fill="#fde4a8" filter="url(#blur2)"/><ellipse cx="-8" cy="-47.9" rx="3.5" ry="2.5" fill="#fbd6a0" opacity="0.45"/></g>
<path d="M5.6 0 L5.5 9.5 L5.4 15.8 L5.1 21 L4.8 25.5 L4.3 29.3 L3.8 32.5 L3.1 34.9 L2.3 36.6 L1.4 37.7 L0 38 L-1.4 37.7 L-2.3 36.6 L-3.1 34.9 L-3.8 32.5 L-4.3 29.3 L-4.8 25.5 L-5.1 21 L-5.4 15.8 L-5.5 9.5 L-5.6 0 L-5.5 -9.5 L-5.4 -15.8 L-5.1 -21 L-4.8 -25.5 L-4.3 -29.3 L-3.8 -32.5 L-3.1 -34.9 L-2.3 -36.6 L-1.4 -37.7 L-0 -38 L1.4 -37.7 L2.3 -36.6 L3.1 -34.9 L3.8 -32.5 L4.3 -29.3 L4.8 -25.5 L5.1 -21 L5.4 -15.8 L5.5 -9.5 Z" transform="translate(986.9 797.8) rotate(-20.3)" fill="url(#bnuc)"/>
<g transform="translate(1025.5 783) rotate(-17.3)"><rect x="-19" y="-55.5" width="38" height="111" rx="18" ry="18" fill="#f2a443" stroke="#d98a2e" stroke-width="1.5"/><rect x="-12.9" y="-41.1" width="25.8" height="79.9" rx="11" fill="#f9c878" filter="url(#blur3)"/><rect x="-10.3" y="-36.6" width="20.5" height="71.1" rx="9" fill="#fde4a8" filter="url(#blur2)"/><ellipse cx="-8" cy="-47.5" rx="3.5" ry="2.5" fill="#fbd6a0" opacity="0.45"/></g>
<path d="M5.6 0 L5.5 8.8 L5.4 14.6 L5.1 19.5 L4.8 23.7 L4.3 27.2 L3.8 30.1 L3.1 32.3 L2.3 33.9 L1.4 34.9 L0 35.2 L-1.4 34.9 L-2.3 33.9 L-3.1 32.3 L-3.8 30.1 L-4.3 27.2 L-4.8 23.7 L-5.1 19.5 L-5.4 14.6 L-5.5 8.8 L-5.6 0 L-5.5 -8.8 L-5.4 -14.6 L-5.1 -19.5 L-4.8 -23.7 L-4.3 -27.2 L-3.8 -30.1 L-3.1 -32.3 L-2.3 -33.9 L-1.4 -34.9 L-0 -35.2 L1.4 -34.9 L2.3 -33.9 L3.1 -32.3 L3.8 -30.1 L4.3 -27.2 L4.8 -23.7 L5.1 -19.5 L5.4 -14.6 L5.5 -8.8 Z" transform="translate(1027.8 780) rotate(-20.9)" fill="url(#bnuc)"/>
<g transform="translate(1066 769.7) rotate(-16.8)"><rect x="-19" y="-51.9" width="38" height="103.8" rx="18" ry="18" fill="#f2a443" stroke="#d98a2e" stroke-width="1.5"/><rect x="-12.9" y="-38.4" width="25.8" height="74.8" rx="11" fill="#f9c878" filter="url(#blur3)"/><rect x="-10.3" y="-34.3" width="20.5" height="66.5" rx="9" fill="#fde4a8" filter="url(#blur2)"/><ellipse cx="-8" cy="-43.9" rx="3.5" ry="2.5" fill="#fbd6a0" opacity="0.45"/></g>
<path d="M5.6 0 L5.5 8.8 L5.4 14.7 L5.1 19.6 L4.8 23.8 L4.3 27.3 L3.8 30.2 L3.1 32.5 L2.3 34.1 L1.4 35.1 L0 35.4 L-1.4 35.1 L-2.3 34.1 L-3.1 32.5 L-3.8 30.2 L-4.3 27.3 L-4.8 23.8 L-5.1 19.6 L-5.4 14.7 L-5.5 8.8 L-5.6 0 L-5.5 -8.8 L-5.4 -14.7 L-5.1 -19.6 L-4.8 -23.8 L-4.3 -27.3 L-3.8 -30.2 L-3.1 -32.5 L-2.3 -34.1 L-1.4 -35.1 L-0 -35.4 L1.4 -35.1 L2.3 -34.1 L3.1 -32.5 L3.8 -30.2 L4.3 -27.3 L4.8 -23.8 L5.1 -19.6 L5.4 -14.7 L5.5 -8.8 Z" transform="translate(1070 764) rotate(-25.8)" fill="url(#bnuc)"/>
<g transform="translate(1104 756.5) rotate(-18.3)"><rect x="-19" y="-51.1" width="38" height="102.1" rx="18" ry="18" fill="#f2a443" stroke="#d98a2e" stroke-width="1.5"/><rect x="-12.9" y="-37.8" width="25.8" height="73.5" rx="11" fill="#f9c878" filter="url(#blur3)"/><rect x="-10.3" y="-33.7" width="20.5" height="65.4" rx="9" fill="#fde4a8" filter="url(#blur2)"/><ellipse cx="-8" cy="-43.1" rx="3.5" ry="2.5" fill="#fbd6a0" opacity="0.45"/></g>
<path d="M5.6 0 L5.5 8.2 L5.4 13.7 L5.1 18.3 L4.8 22.2 L4.3 25.5 L3.8 28.3 L3.1 30.4 L2.3 31.9 L1.4 32.8 L0 33.1 L-1.4 32.8 L-2.3 31.9 L-3.1 30.4 L-3.8 28.3 L-4.3 25.5 L-4.8 22.2 L-5.1 18.3 L-5.4 13.7 L-5.5 8.2 L-5.6 0 L-5.5 -8.2 L-5.4 -13.7 L-5.1 -18.3 L-4.8 -22.2 L-4.3 -25.5 L-3.8 -28.3 L-3.1 -30.4 L-2.3 -31.9 L-1.4 -32.8 L-0 -33.1 L1.4 -32.8 L2.3 -31.9 L3.1 -30.4 L3.8 -28.3 L4.3 -25.5 L4.8 -22.2 L5.1 -18.3 L5.4 -13.7 L5.5 -8.2 Z" transform="translate(1103.5 755) rotate(-21)" fill="url(#bnuc)"/>
<path d="M426.5 312 L434.9 313.1 L443.3 314.1 L451.6 315 L460 316 L468.4 317 L476.8 318 L485.2 319.2 L493.5 320.5 L501.9 322 L510.3 323.8 L518.7 326 L527.1 328.4 L535.4 331 L543.8 333.6 L552.2 336.1 L560.6 338.1 L569 339.7 L577.3 340.7 L585.7 341.6 L594.1 342.7 L602.5 344.1 L610.9 345.8 L619.2 347.7 L627.6 349.6 L636 351.6 L644.4 353.7 L652.8 355.7 L661.1 357.8 L669.5 359.8 L677.9 361.9 L686.3 363.9 L694.7 365.9 L703 368 L711.4 370.1 L719.8 372.4 L728.2 374.6 L736.6 376.8 L744.9 378.7 L753.3 380.2 L761.7 381.1 L770.1 381.3 L778.4 380.2 L786.8 377.8 L795.2 375.3 L803.6 373 L812 370.5 L820.3 367.8 L828.7 365.1 L837.1 362.3 L845.5 359.6 L853.9 356.9 L862.2 354.2 L870.6 351.6 L879 349.1 L887.4 346.7 L895.8 344.5 L904.1 342.5 L912.5 340.5 L920.9 338.7 L929.3 336.9 L937.7 335.1 L946 333.3 L954.4 331.6 L962.8 329.8 L971.2 327.9 L979.6 325.9 L987.9 323.8 L996.3 321.5 L1004.7 319 L1013.1 316.3 L1021.5 313.5 L1029.8 310.6 L1038.2 307.7 L1046.6 304.7 L1055 301.7 L1063.4 298.8 L1071.7 296.3 L1080.1 294.3 L1088.5 293 L1088.5 400 L1080.1 403.7 L1071.7 407.4 L1063.4 411.1 L1055 414.8 L1046.6 418.1 L1038.2 420.8 L1029.8 423.5 L1021.5 426.2 L1013.1 428.9 L1004.7 431.6 L996.3 434.3 L987.9 437 L979.6 439.7 L971.2 442.4 L962.8 445.1 L954.4 447.8 L946 450.4 L937.7 453.1 L929.3 455 L920.9 456.5 L912.5 458 L904.1 459.5 L895.8 461.1 L887.4 462.6 L879 464.1 L870.6 465.6 L862.2 467.1 L853.9 468.6 L845.5 470.1 L837.1 471.6 L828.7 473.1 L820.3 474.6 L812 476.1 L803.6 477.6 L795.2 479 L786.8 478.8 L778.4 478.7 L770.1 478.5 L761.7 478.3 L753.3 478.2 L744.9 478 L736.6 477.8 L728.2 477.7 L719.8 477.5 L711.4 477.3 L703 477.2 L694.7 477 L686.3 475.2 L677.9 473.2 L669.5 471.2 L661.1 469.2 L652.8 467.3 L644.4 465.3 L636 463.3 L627.6 461.3 L619.2 459.4 L610.9 457.4 L602.5 455.4 L594.1 453.4 L585.7 451.4 L577.3 449.5 L569 447.5 L560.6 445.5 L552.2 443.5 L543.8 441.6 L535.4 439.6 L527.1 437.3 L518.7 435 L510.3 432.6 L501.9 430.2 L493.5 427.9 L485.2 425.5 L476.8 423.2 L468.4 420.8 L460 418.4 L451.6 416.1 L443.3 413.7 L434.9 411.4 L426.5 409 Z" fill="#f4c088"/>
<path d="M426.5 182 L434.9 184.7 L443.3 187.5 L451.6 190.2 L460 193 L468.4 195.7 L476.8 198.5 L485.2 201.2 L493.5 203.9 L501.9 206.6 L510.3 209.3 L518.7 212.1 L527.1 214.8 L535.4 217.6 L543.8 220.3 L552.2 222.9 L560.6 225.5 L569 227.8 L577.3 229.8 L585.7 231.3 L594.1 232.6 L602.5 234.1 L610.9 235.6 L619.2 237.1 L627.6 238.7 L636 240.1 L644.4 241.6 L652.8 243 L661.1 244.3 L669.5 245.6 L677.9 246.9 L686.3 248.1 L694.7 249.4 L703 250.5 L711.4 251.5 L719.8 252.3 L728.2 252.9 L736.6 253.2 L744.9 253.1 L753.3 252.8 L761.7 252.2 L770.1 251.5 L778.4 250.8 L786.8 250.1 L795.2 249.4 L803.6 248.7 L812 247.9 L820.3 247 L828.7 245.9 L837.1 244.4 L845.5 242.4 L853.9 239.8 L862.2 237 L870.6 234.5 L879 231.9 L887.4 229.2 L895.8 226.4 L904.1 223.6 L912.5 220.7 L920.9 217.7 L929.3 214.7 L937.7 211.7 L946 208.8 L954.4 205.8 L962.8 202.8 L971.2 199.9 L979.6 196.9 L987.9 193.9 L996.3 190.9 L1004.7 187.9 L1013.1 184.9 L1021.5 181.8 L1029.8 178.7 L1038.2 175.6 L1046.6 172.5 L1055 169.4 L1063.4 166.3 L1071.7 163.2 L1080.1 160.1 L1088.5 157 L1088.5 309 L1080.1 310.3 L1071.7 312.3 L1063.4 314.8 L1055 317.7 L1046.6 320.7 L1038.2 323.7 L1029.8 326.6 L1021.5 329.5 L1013.1 332.3 L1004.7 335 L996.3 337.5 L987.9 339.8 L979.6 341.9 L971.2 343.9 L962.8 345.8 L954.4 347.6 L946 349.3 L937.7 351.1 L929.3 352.9 L920.9 354.7 L912.5 356.5 L904.1 358.5 L895.8 360.5 L887.4 362.7 L879 365.1 L870.6 367.6 L862.2 370.2 L853.9 372.9 L845.5 375.6 L837.1 378.3 L828.7 381.1 L820.3 383.8 L812 386.5 L803.6 389 L795.2 391.3 L786.8 393.8 L778.4 396.2 L770.1 397.3 L761.7 397.1 L753.3 396.2 L744.9 394.7 L736.6 392.8 L728.2 390.6 L719.8 388.4 L711.4 386.1 L703 384 L694.7 381.9 L686.3 379.9 L677.9 377.9 L669.5 375.8 L661.1 373.8 L652.8 371.7 L644.4 369.7 L636 367.6 L627.6 365.6 L619.2 363.7 L610.9 361.8 L602.5 360.1 L594.1 358.7 L585.7 357.6 L577.3 356.7 L569 355.7 L560.6 354.1 L552.2 352.1 L543.8 349.6 L535.4 347 L527.1 344.4 L518.7 342 L510.3 339.8 L501.9 338 L493.5 336.5 L485.2 335.2 L476.8 334 L468.4 333 L460 332 L451.6 331 L443.3 330.1 L434.9 329.1 L426.5 328 Z" fill="#fae5b8"/>
<g clip-path="url(#cornclip)"><path d="M393.8 189.3 L397.3 185.2 L400.8 184.2 L404.3 183.6 L407.8 183.2 L411.3 182.9 L414.8 182.7 L418.4 182.6 L421.9 182.6 L425.4 182.7 L428.9 183.6 L432.4 185.1 L435.9 186.6 L439.4 188.4 L442.9 190.5 L446.4 195.6 L446.4 195.6 L442.9 198.5 L439.4 198.4 L435.9 197.9 L432.4 197.3 L428.9 196.5 L425.4 195.9 L421.9 196 L418.4 196 L414.8 195.9 L411.3 195.7 L407.8 195.4 L404.3 195 L400.8 194.4 L397.3 193.4 L393.8 189.3 Z M444.9 195.1 L448.2 192.2 L451.4 192.3 L454.7 192.7 L457.9 193.4 L461.1 194.2 L464.4 195.1 L467.6 196.1 L470.9 197.1 L474.1 198.3 L477.3 199.5 L480.6 200.8 L483.8 202.2 L487.1 203.9 L490.3 205.8 L493.6 210.5 L493.6 210.5 L490.3 213.2 L487.1 213.1 L483.8 212.7 L480.6 212.1 L477.3 211.3 L474.1 210.5 L470.9 209.6 L467.6 208.6 L464.4 207.5 L461.1 206.4 L457.9 205.1 L454.7 203.7 L451.4 202.1 L448.2 200.2 L444.9 195.1 Z M491.3 209.8 L495.5 207.5 L499.7 207.9 L504 208.7 L508.2 209.7 L512.4 210.9 L516.6 212.1 L520.8 213.4 L525.1 214.8 L529.3 216.3 L533.5 217.8 L537.7 219.4 L541.9 221.1 L546.2 223 L550.4 225.2 L554.6 230.1 L554.6 230.1 L550.4 232.4 L546.2 232 L541.9 231.2 L537.7 230.2 L533.5 229.1 L529.3 227.8 L525.1 226.5 L520.8 225.2 L516.6 223.7 L512.4 222.2 L508.2 220.6 L504 218.9 L499.7 217.1 L495.5 214.9 L491.3 209.8 Z M549 228.4 L553.7 226.2 L558.4 226.8 L563.1 227.6 L567.8 228.6 L572.5 229.5 L577.1 230.5 L581.8 231.3 L586.5 232 L591.2 232.8 L595.9 233.7 L600.6 234.8 L605.3 236 L610 237.4 L614.7 239.1 L619.4 243.5 L619.4 243.5 L614.7 246.1 L610 246.1 L605.3 245.8 L600.6 245.2 L595.9 244.7 L591.2 244.1 L586.5 243.5 L581.8 242.7 L577.1 241.8 L572.5 240.6 L567.8 239.2 L563.1 237.6 L558.4 235.7 L553.7 233.4 L549 228.4 Z M613.6 242.4 L618.1 239.7 L622.5 239.7 L627 240 L631.4 240.4 L635.9 241 L640.3 241.6 L644.7 242.3 L649.2 243 L653.6 243.8 L658.1 244.7 L662.5 245.6 L667 246.6 L671.4 247.9 L675.9 249.4 L680.3 253.8 L680.3 253.8 L675.9 256.7 L671.4 256.9 L667 256.7 L662.5 256.4 L658.1 255.9 L653.6 255.3 L649.2 254.6 L644.7 253.9 L640.3 253 L635.9 252 L631.4 251 L627 249.8 L622.5 248.4 L618.1 246.8 L613.6 242.4 Z M674.8 252.9 L678.1 249.8 L681.4 249.4 L684.7 249.4 L688 249.5 L691.3 249.7 L694.6 250 L697.9 250.4 L701.2 250.9 L704.5 251.4 L707.8 251.9 L711.1 252.6 L714.4 253.3 L717.7 254.2 L721 255.4 L724.3 259.5 L724.3 259.5 L721 263.1 L717.7 263.6 L714.4 263.8 L711.1 263.8 L707.8 263.6 L704.5 263.4 L701.2 263 L697.9 262.5 L694.6 261.9 L691.3 261.3 L688 260.5 L684.7 259.6 L681.4 258.5 L678.1 257.1 L674.8 252.9 Z M721.3 259.3 L727.1 255.9 L732.8 255.2 L738.6 254.7 L744.3 254.3 L750.1 253.8 L755.8 253.3 L761.6 252.8 L767.4 252.4 L773.1 251.9 L778.9 251.6 L784.6 251.4 L790.4 251.3 L796.1 251.5 L801.9 251.9 L807.6 255.3 L807.6 255.3 L801.9 259.8 L796.1 261.4 L790.4 262.5 L784.6 263.5 L778.9 264.4 L773.1 265.1 L767.4 265.7 L761.6 266.1 L755.8 266.3 L750.1 266.3 L744.3 266.1 L738.6 265.7 L732.8 264.9 L727.1 263.6 L721.3 259.3 Z M802.5 255.8 L806.3 251.5 L810 250.2 L813.7 249.2 L817.5 248.4 L821.2 247.7 L825 247.1 L828.7 246.5 L832.5 245.9 L836.2 245.3 L840 244.6 L843.7 244 L847.4 243.3 L851.2 242.7 L854.9 242.4 L858.7 244.9 L858.7 244.9 L854.9 249.8 L851.2 251.9 L847.4 253.7 L843.7 255.1 L840 256.3 L836.2 257.3 L832.5 258.1 L828.7 258.8 L825 259.3 L821.2 259.7 L817.5 260 L813.7 260 L810 259.9 L806.3 259.4 L802.5 255.8 Z M857.1 245.4 L863.2 239.7 L869.4 236.9 L875.5 234.4 L881.7 232.1 L887.9 229.9 L894 227.7 L900.2 225.5 L906.3 223.4 L912.5 221.4 L918.7 219.4 L924.8 217.4 L931 215.6 L937.1 214 L943.3 212.8 L949.5 214.6 L949.5 214.6 L943.3 220.7 L937.1 223.8 L931 226.5 L924.8 229 L918.7 231.3 L912.5 233.6 L906.3 235.7 L900.2 237.8 L894 239.7 L887.9 241.6 L881.7 243.3 L875.5 244.8 L869.4 246.1 L863.2 247.1 L857.1 245.4 Z M947.5 215.3 L951.8 209.8 L956.1 207.3 L960.5 205.2 L964.8 203.3 L969.1 201.5 L973.4 199.8 L977.8 198.2 L982.1 196.6 L986.4 195.2 L990.7 193.8 L995 192.6 L999.4 191.4 L1003.7 190.5 L1008 189.9 L1012.3 192.5 L1012.3 192.5 L1008 198.2 L1003.7 200.8 L999.4 202.9 L995 204.9 L990.7 206.7 L986.4 208.4 L982.1 209.9 L977.8 211.4 L973.4 212.8 L969.1 214.1 L964.8 215.3 L960.5 216.4 L956.1 217.2 L951.8 217.8 L947.5 215.3 Z M1013.2 192.2 L1016.3 186.9 L1019.5 184.7 L1022.6 183 L1025.8 181.4 L1028.9 179.9 L1032.1 178.6 L1035.3 177.3 L1038.4 176.2 L1041.6 175.1 L1044.7 174.1 L1047.9 173.2 L1051 172.5 L1054.2 171.9 L1057.3 171.8 L1060.5 174.8 L1060.5 174.8 L1057.3 180.2 L1054.2 182.3 L1051 184.1 L1047.9 185.7 L1044.7 187.2 L1041.6 188.5 L1038.4 189.8 L1035.3 190.9 L1032.1 192 L1028.9 193 L1025.8 193.8 L1022.6 194.6 L1019.5 195.1 L1016.3 195.2 L1013.2 192.2 Z M1060.5 174.8 L1064.5 169.1 L1068.4 166.7 L1072.4 164.6 L1076.4 162.7 L1080.3 160.9 L1084.3 159.3 L1088.3 157.7 L1092.2 157.6 L1096.2 157.7 L1100.2 157.9 L1104.1 158.2 L1108.1 158.6 L1112.1 159.3 L1116 160.3 L1120 164.6 L1120 164.6 L1116 168.9 L1112.1 169.9 L1108.1 170.6 L1104.1 171 L1100.2 171.3 L1096.2 171.5 L1092.2 171.6 L1088.3 171.7 L1084.3 173 L1080.3 174.2 L1076.4 175.3 L1072.4 176.3 L1068.4 177.1 L1064.5 177.5 L1060.5 174.8 Z M408.3 203.9 L412.3 199.8 L416.3 198.8 L420.3 198.2 L424.4 197.8 L428.4 198.1 L432.4 199.1 L436.5 200.3 L440.5 201.5 L444.5 202.8 L448.5 204.2 L452.6 205.7 L456.6 207.4 L460.6 209.2 L464.7 211.3 L468.7 216.4 L468.7 216.4 L464.7 219.1 L460.6 218.9 L456.6 218.3 L452.6 217.5 L448.5 216.6 L444.5 215.7 L440.5 214.6 L436.5 213.4 L432.4 212.2 L428.4 210.9 L424.4 210 L420.3 209.6 L416.3 209 L412.3 208 L408.3 203.9 Z M468.4 216.3 L472 213.5 L475.6 213.7 L479.2 214.2 L482.8 215 L486.4 215.8 L490 216.8 L493.6 217.8 L497.2 218.9 L500.8 220.1 L504.4 221.4 L508 222.8 L511.6 224.3 L515.2 226 L518.8 228 L522.4 232.8 L522.4 232.8 L518.8 235.2 L515.2 235 L511.6 234.4 L508 233.6 L504.4 232.8 L500.8 231.9 L497.2 230.9 L493.6 229.8 L490 228.7 L486.4 227.5 L482.8 226.2 L479.2 224.8 L475.6 223.2 L472 221.2 L468.4 216.3 Z M520.5 232.2 L525.6 230.2 L530.8 231 L535.9 232.1 L541 233.4 L546.1 234.8 L551.3 236.2 L556.4 237.7 L561.5 239.2 L566.7 240.7 L571.8 242.1 L576.9 243.5 L582.1 244.8 L587.2 246.1 L592.3 247.7 L597.4 252.1 L597.4 252.1 L592.3 254.7 L587.2 254.8 L582.1 254.6 L576.9 254.1 L571.8 253.2 L566.7 252.1 L561.5 250.8 L556.4 249.4 L551.3 247.8 L546.1 246 L541 244.2 L535.9 242.2 L530.8 240 L525.6 237.4 L520.5 232.2 Z M594.1 251.5 L598.9 248.8 L603.7 248.8 L608.5 249.2 L613.4 249.8 L618.2 250.4 L623 251.2 L627.8 252 L632.7 252.9 L637.5 253.8 L642.3 254.9 L647.1 256 L652 257.2 L656.8 258.5 L661.6 260.2 L666.4 264.6 L666.4 264.6 L661.6 267.4 L656.8 267.5 L652 267.1 L647.1 266.6 L642.3 266 L637.5 265.2 L632.7 264.4 L627.8 263.5 L623 262.5 L618.2 261.4 L613.4 260.2 L608.5 259 L603.7 257.5 L598.9 255.8 L594.1 251.5 Z M660.9 263.7 L664.1 260.6 L667.3 260.2 L670.5 260.2 L673.7 260.4 L676.9 260.6 L680.1 261 L683.3 261.4 L686.5 261.9 L689.7 262.5 L692.9 263.2 L696.1 263.9 L699.3 264.8 L702.5 265.8 L705.7 267.1 L708.9 271.3 L708.9 271.3 L705.7 274.6 L702.5 275.1 L699.3 275.1 L696.1 275 L692.9 274.7 L689.7 274.4 L686.5 273.9 L683.3 273.4 L680.1 272.7 L676.9 272 L673.7 271.2 L670.5 270.3 L667.3 269.2 L664.1 267.8 L660.9 263.7 Z M704.3 270.7 L709.6 267.7 L714.8 267.4 L720.1 267.5 L725.4 267.6 L730.6 267.7 L735.9 267.8 L741.2 267.9 L746.4 267.9 L751.7 267.9 L757 267.8 L762.2 267.8 L767.5 267.9 L772.8 268.1 L778.1 268.5 L783.3 272 L783.3 272 L778.1 276.7 L772.8 278.3 L767.5 279.3 L762.2 280 L757 280.5 L751.7 280.8 L746.4 280.9 L741.2 280.7 L735.9 280.4 L730.6 279.8 L725.4 279.1 L720.1 278.1 L714.8 276.8 L709.6 275.2 L704.3 270.7 Z M780.3 272.4 L784.4 267.8 L788.4 266.4 L792.5 265.4 L796.5 264.6 L800.5 263.9 L804.6 263.3 L808.6 262.8 L812.7 262.3 L816.7 261.9 L820.8 261.5 L824.8 261.1 L828.9 260.9 L832.9 260.7 L837 260.8 L841 263.6 L841 263.6 L837 268.3 L832.9 270 L828.9 271.4 L824.8 272.5 L820.8 273.4 L816.7 274.2 L812.7 274.9 L808.6 275.5 L804.6 275.9 L800.5 276.3 L796.5 276.5 L792.5 276.6 L788.4 276.5 L784.4 276 L780.3 272.4 Z M839.1 264 L843.6 259.2 L848.1 257 L852.7 255 L857.2 253.1 L861.7 251.4 L866.2 249.8 L870.7 248.4 L875.2 247 L879.7 245.7 L884.2 244.4 L888.7 243.2 L893.2 242.1 L897.8 241.2 L902.3 240.7 L906.8 242.9 L906.8 242.9 L902.3 248.2 L897.8 250.6 L893.2 252.6 L888.7 254.4 L884.2 256 L879.7 257.6 L875.2 259.1 L870.7 260.5 L866.2 261.8 L861.7 263 L857.2 264.2 L852.7 265.3 L848.1 266.2 L843.6 266.6 L839.1 264 Z M902.9 244.2 L908.5 238.6 L914.2 235.8 L919.8 233.3 L925.5 231 L931.1 228.8 L936.8 226.7 L942.4 224.7 L948.1 222.7 L953.7 220.9 L959.4 219.2 L965 217.5 L970.7 216 L976.3 214.7 L981.9 213.8 L987.6 215.9 L987.6 215.9 L981.9 222 L976.3 224.8 L970.7 227.3 L965 229.6 L959.4 231.7 L953.7 233.7 L948.1 235.6 L942.4 237.5 L936.8 239.2 L931.1 240.9 L925.5 242.5 L919.8 244 L914.2 245.2 L908.5 246.2 L902.9 244.2 Z M986.5 216.3 L990.3 210.9 L994.1 208.6 L997.9 206.6 L1001.7 204.8 L1005.6 203.2 L1009.4 201.7 L1013.2 200.2 L1017 198.8 L1020.8 197.5 L1024.6 196.3 L1028.4 195.2 L1032.3 194.2 L1036.1 193.4 L1039.9 193 L1043.7 195.8 L1043.7 195.8 L1039.9 201.4 L1036.1 203.8 L1032.3 205.8 L1028.4 207.7 L1024.6 209.3 L1020.8 210.9 L1017 212.4 L1013.2 213.7 L1009.4 215 L1005.6 216.2 L1001.7 217.2 L997.9 218.1 L994.1 218.8 L990.3 219.1 L986.5 216.3 Z M1041.7 196.6 L1046.5 190.6 L1051.2 187.9 L1056 185.5 L1060.7 183.3 L1065.5 181.3 L1070.2 179.4 L1075 177.6 L1079.7 175.9 L1084.5 174.3 L1089.2 173.1 L1094 173.4 L1098.7 173.8 L1103.5 174.5 L1108.2 175.5 L1113 179.8 L1113 179.8 L1108.2 184.1 L1103.5 185.1 L1098.7 185.8 L1094 186.2 L1089.2 186.5 L1084.5 188 L1079.7 189.7 L1075 191.3 L1070.2 192.9 L1065.5 194.4 L1060.7 195.8 L1056 197.1 L1051.2 198.2 L1046.5 199 L1041.7 196.6 Z M365.4 218.5 L369.4 214.4 L373.4 213.4 L377.3 212.8 L381.3 212.4 L385.2 212.1 L389.2 211.9 L393.2 211.8 L397.1 211.8 L401.1 211.9 L405 212.1 L409 212.4 L413 212.8 L416.9 213.4 L420.9 214.4 L424.8 218.5 L424.8 218.5 L420.9 222.6 L416.9 223.6 L413 224.2 L409 224.6 L405 224.9 L401.1 225.1 L397.1 225.2 L393.2 225.2 L389.2 225.1 L385.2 224.9 L381.3 224.6 L377.3 224.2 L373.4 223.6 L369.4 222.6 L365.4 218.5 Z M425.7 218.5 L429.1 215.1 L432.5 215.1 L435.9 215.4 L439.3 216 L442.7 216.7 L446.1 217.5 L449.5 218.4 L452.8 219.3 L456.2 220.4 L459.6 221.5 L463 222.8 L466.4 224.1 L469.8 225.7 L473.2 227.5 L476.6 232.3 L476.6 232.3 L473.2 235.2 L469.8 235.2 L466.4 234.9 L463 234.4 L459.6 233.7 L456.2 233 L452.8 232.2 L449.5 231.3 L446.1 230.3 L442.7 229.2 L439.3 228.1 L435.9 226.7 L432.5 225.2 L429.1 223.3 L425.7 218.5 Z M473.5 231.5 L479.1 229.2 L484.6 229.9 L490.1 230.9 L495.6 232.1 L501.1 233.5 L506.7 235 L512.2 236.6 L517.7 238.4 L523.2 240.2 L528.8 242.1 L534.3 244.2 L539.8 246.3 L545.3 248.6 L550.9 251.2 L556.4 256.4 L556.4 256.4 L550.9 258.4 L545.3 257.6 L539.8 256.4 L534.3 255 L528.8 253.4 L523.2 251.8 L517.7 250.2 L512.2 248.4 L506.7 246.7 L501.1 245 L495.6 243.2 L490.1 241.3 L484.6 239.2 L479.1 236.8 L473.5 231.5 Z M551.4 255 L556.1 252.8 L560.7 253.2 L565.3 253.9 L570 254.7 L574.6 255.5 L579.2 256.2 L583.9 256.9 L588.5 257.6 L593.1 258.3 L597.7 259.2 L602.4 260.3 L607 261.5 L611.6 262.9 L616.3 264.7 L620.9 269.1 L620.9 269.1 L616.3 271.7 L611.6 271.7 L607 271.3 L602.4 270.8 L597.7 270.2 L593.1 269.6 L588.5 269 L583.9 268.3 L579.2 267.6 L574.6 266.6 L570 265.3 L565.3 263.9 L560.7 262.1 L556.1 259.9 L551.4 255 Z M615.2 268 L620.4 265.5 L625.6 265.6 L630.9 266.1 L636.1 266.7 L641.3 267.5 L646.5 268.3 L651.8 269.2 L657 270.1 L662.2 271.1 L667.4 272.1 L672.7 273.2 L677.9 274.5 L683.1 276 L688.4 277.7 L693.6 282.3 L693.6 282.3 L688.4 285.1 L683.1 285.1 L677.9 284.7 L672.7 284.1 L667.4 283.4 L662.2 282.6 L657 281.8 L651.8 280.8 L646.5 279.7 L641.3 278.6 L636.1 277.3 L630.9 276 L625.6 274.4 L620.4 272.5 L615.2 268 Z M692.9 282.2 L697.8 279.3 L702.8 279.2 L707.7 279.4 L712.6 279.7 L717.5 280.1 L722.4 280.5 L727.3 281 L732.2 281.4 L737.1 281.8 L742 282.2 L746.9 282.6 L751.9 283 L756.8 283.6 L761.7 284.4 L766.6 288.2 L766.6 288.2 L761.7 292.5 L756.8 293.6 L751.9 294.2 L746.9 294.5 L742 294.6 L737.1 294.4 L732.2 294.1 L727.3 293.5 L722.4 292.8 L717.5 292 L712.6 291 L707.7 289.8 L702.8 288.4 L697.8 286.7 L692.9 282.2 Z M766.7 288.2 L770.8 283.8 L774.8 282.4 L778.9 281.4 L782.9 280.4 L786.9 279.7 L791 279 L795 278.4 L799.1 277.9 L803.1 277.5 L807.2 277.1 L811.2 276.9 L815.3 276.7 L819.3 276.6 L823.4 276.9 L827.4 279.9 L827.4 279.9 L823.4 284.5 L819.3 286.2 L815.3 287.4 L811.2 288.5 L807.2 289.4 L803.1 290.2 L799.1 290.8 L795 291.4 L791 291.9 L786.9 292.3 L782.9 292.6 L778.9 292.8 L774.8 292.7 L770.8 292 L766.7 288.2 Z M826.3 280.1 L831.2 275.4 L836.2 273.4 L841.2 271.7 L846.2 269.9 L851.2 268.1 L856.2 266.3 L861.1 264.6 L866.1 263.1 L871.1 261.6 L876.1 260.3 L881.1 259 L886 257.8 L891 256.8 L896 256.1 L901 258.3 L901 258.3 L896 263.6 L891 266.1 L886 268.2 L881.1 270.1 L876.1 271.9 L871.1 273.6 L866.1 275.2 L861.1 276.7 L856.2 278.3 L851.2 279.7 L846.2 281 L841.2 282.1 L836.2 282.8 L831.2 282.9 L826.3 280.1 Z M899 258.9 L903.6 253.7 L908.1 251.3 L912.6 249.3 L917.1 247.4 L921.6 245.7 L926.2 244.1 L930.7 242.5 L935.2 241 L939.7 239.6 L944.3 238.3 L948.8 237.1 L953.3 236.1 L957.8 235.2 L962.3 234.7 L966.9 237.3 L966.9 237.3 L962.3 242.7 L957.8 245.1 L953.3 247.1 L948.8 249 L944.3 250.6 L939.7 252.2 L935.2 253.7 L930.7 255.1 L926.2 256.5 L921.6 257.7 L917.1 258.9 L912.6 259.9 L908.1 260.8 L903.6 261.3 L899 258.9 Z M966.7 237.3 L972.9 231.3 L979 228.3 L985.2 225.6 L991.3 223.1 L997.5 220.7 L1003.6 218.4 L1009.8 216.2 L1015.9 214 L1022.1 211.8 L1028.2 209.8 L1034.4 207.8 L1040.5 206 L1046.7 204.3 L1052.8 203.1 L1059 205 L1059 205 L1052.8 211.5 L1046.7 214.7 L1040.5 217.6 L1034.4 220.3 L1028.2 222.8 L1022.1 225.2 L1015.9 227.5 L1009.8 229.7 L1003.6 231.7 L997.5 233.6 L991.3 235.4 L985.2 237 L979 238.4 L972.9 239.4 L966.7 237.3 Z M1056.3 206 L1061.5 199.9 L1066.7 197 L1071.9 194.5 L1077.1 192.3 L1082.4 190.3 L1087.6 188.4 L1092.8 188 L1098 188 L1103.2 188.1 L1108.4 188.3 L1113.6 188.6 L1118.9 189 L1124.1 189.7 L1129.3 190.7 L1134.5 195 L1134.5 195 L1129.3 199.3 L1124.1 200.3 L1118.9 201 L1113.6 201.4 L1108.4 201.7 L1103.2 201.9 L1098 202 L1092.8 202 L1087.6 202.2 L1082.4 203.6 L1077.1 204.9 L1071.9 206.3 L1066.7 207.5 L1061.5 208.3 L1056.3 206 Z M367.4 233.1 L372.6 229 L377.7 228 L382.9 227.4 L388 227 L393.2 226.7 L398.3 226.5 L403.5 226.4 L408.7 226.4 L413.8 226.5 L419 226.7 L424.1 227 L429.3 228.1 L434.4 230.1 L439.6 232.4 L444.8 237.8 L444.8 237.8 L439.6 240.5 L434.4 240.2 L429.3 239.5 L424.1 239.2 L419 239.5 L413.8 239.7 L408.7 239.8 L403.5 239.8 L398.3 239.7 L393.2 239.5 L388 239.2 L382.9 238.8 L377.7 238.2 L372.6 237.2 L367.4 233.1 Z M445.7 238 L451.4 235.5 L457.2 236 L462.9 237 L468.7 238.1 L474.4 239.3 L480.1 240.7 L485.9 242.2 L491.6 243.8 L497.4 245.4 L503.1 247.2 L508.8 249.1 L514.6 251.2 L520.3 253.6 L526.1 256.3 L531.8 261.7 L531.8 261.7 L526.1 263.5 L520.3 262.6 L514.6 261.3 L508.8 260 L503.1 258.6 L497.4 257.3 L491.6 255.8 L485.9 254.4 L480.1 252.8 L474.4 251.3 L468.7 249.6 L462.9 247.8 L457.2 245.8 L451.4 243.4 L445.7 238 Z M527.8 260.4 L532.1 258.2 L536.4 258.7 L540.6 259.5 L544.9 260.5 L549.2 261.6 L553.5 262.7 L557.8 263.9 L562.1 265.1 L566.4 266.2 L570.7 267.4 L574.9 268.5 L579.2 269.7 L583.5 270.9 L587.8 272.3 L592.1 276.4 L592.1 276.4 L587.8 279.3 L583.5 279.6 L579.2 279.5 L574.9 279.1 L570.7 278.5 L566.4 277.7 L562.1 276.7 L557.8 275.6 L553.5 274.3 L549.2 272.8 L544.9 271.3 L540.6 269.6 L536.4 267.7 L532.1 265.4 L527.8 260.4 Z M590.8 276.2 L593.8 273.2 L596.9 272.8 L600 272.8 L603.1 273 L606.1 273.4 L609.2 273.8 L612.3 274.3 L615.4 274.9 L618.4 275.6 L621.5 276.4 L624.6 277.2 L627.7 278.2 L630.7 279.3 L633.8 280.8 L636.9 284.9 L636.9 284.9 L633.8 287.9 L630.7 288.1 L627.7 288 L624.6 287.8 L621.5 287.4 L618.4 286.9 L615.4 286.4 L612.3 285.8 L609.2 285.1 L606.1 284.3 L603.1 283.5 L600 282.6 L596.9 281.5 L593.8 280.2 L590.8 276.2 Z M634.1 284.4 L637.7 281.5 L641.2 281.4 L644.8 281.5 L648.4 281.9 L651.9 282.3 L655.5 282.8 L659 283.4 L662.6 284 L666.2 284.7 L669.7 285.5 L673.3 286.4 L676.8 287.4 L680.4 288.6 L684 290.2 L687.5 294.5 L687.5 294.5 L684 297.5 L680.4 297.7 L676.8 297.6 L673.3 297.3 L669.7 296.9 L666.2 296.3 L662.6 295.8 L659 295.1 L655.5 294.3 L651.9 293.5 L648.4 292.5 L644.8 291.5 L641.2 290.2 L637.7 288.7 L634.1 284.4 Z M682.3 293.5 L685.5 290.4 L688.7 290.1 L691.9 290.1 L695.1 290.3 L698.3 290.6 L701.5 291 L704.7 291.4 L707.9 291.9 L711.1 292.5 L714.3 293.2 L717.5 293.9 L720.7 294.8 L723.9 295.8 L727.1 297.1 L730.3 301.4 L730.3 301.4 L727.1 304.8 L723.9 305.3 L720.7 305.4 L717.5 305.3 L714.3 305 L711.1 304.6 L707.9 304.1 L704.7 303.6 L701.5 302.9 L698.3 302.2 L695.1 301.4 L691.9 300.4 L688.7 299.3 L685.5 297.8 L682.3 293.5 Z M729.7 301.3 L733.1 297.8 L736.5 297.2 L740 296.8 L743.4 296.6 L746.8 296.5 L750.3 296.5 L753.7 296.4 L757.1 296.4 L760.5 296.4 L764 296.5 L767.4 296.6 L770.8 296.8 L774.3 297.1 L777.7 297.7 L781.1 301.3 L781.1 301.3 L777.7 305.9 L774.3 307.3 L770.8 308.2 L767.4 308.8 L764 309.3 L760.5 309.5 L757.1 309.6 L753.7 309.6 L750.3 309.4 L746.8 309 L743.4 308.5 L740 307.8 L736.5 306.9 L733.1 305.6 L729.7 301.3 Z M776.9 301.9 L781.2 297.2 L785.5 295.5 L789.8 294.3 L794.1 293.3 L798.4 292.4 L802.7 291.6 L807 290.9 L811.3 290.2 L815.6 289.6 L819.9 289 L824.2 288.4 L828.5 288 L832.8 287.6 L837.1 287.5 L841.4 290.2 L841.4 290.2 L837.1 295 L832.8 297 L828.5 298.5 L824.2 299.8 L819.9 301 L815.6 302 L811.3 302.9 L807 303.6 L802.7 304.3 L798.4 304.8 L794.1 305.2 L789.8 305.5 L785.5 305.6 L781.2 305.3 L776.9 301.9 Z M841.5 290.1 L844.8 285.5 L848.1 283.6 L851.3 282 L854.6 280.6 L857.9 279.3 L861.1 278 L864.4 276.9 L867.7 275.9 L870.9 275 L874.2 274.2 L877.5 273.4 L880.7 272.8 L884 272.3 L887.3 272.2 L890.5 275 L890.5 275 L887.3 279.7 L884 281.6 L880.7 283.2 L877.5 284.5 L874.2 285.8 L870.9 286.9 L867.7 288 L864.4 289 L861.1 290 L857.9 290.9 L854.6 291.7 L851.3 292.4 L848.1 292.9 L844.8 292.9 L841.5 290.1 Z M887.7 275.8 L892.5 270.6 L897.4 268.2 L902.2 266.1 L907 264.3 L911.8 262.5 L916.7 260.8 L921.5 259.2 L926.3 257.7 L931.2 256.3 L936 254.9 L940.8 253.7 L945.7 252.6 L950.5 251.7 L955.3 251.1 L960.2 253.7 L960.2 253.7 L955.3 259.1 L950.5 261.5 L945.7 263.6 L940.8 265.4 L936 267.1 L931.2 268.7 L926.3 270.3 L921.5 271.7 L916.7 273.1 L911.8 274.4 L907 275.6 L902.2 276.6 L897.4 277.5 L892.5 278.1 L887.7 275.8 Z M960.3 253.6 L966.1 247.8 L971.8 245 L977.5 242.6 L983.3 240.4 L989 238.2 L994.7 236.1 L1000.5 234.1 L1006.2 232.1 L1011.9 230.2 L1017.7 228.4 L1023.4 226.6 L1029.1 224.9 L1034.8 223.5 L1040.6 222.4 L1046.3 224.5 L1046.3 224.5 L1040.6 230.8 L1034.8 233.9 L1029.1 236.6 L1023.4 239.1 L1017.7 241.4 L1011.9 243.6 L1006.2 245.6 L1000.5 247.6 L994.7 249.4 L989 251.1 L983.3 252.6 L977.5 254 L971.8 255.1 L966.1 255.9 L960.3 253.6 Z M1046.4 224.5 L1050.3 218.8 L1054.2 216.4 L1058.1 214.3 L1062.1 212.5 L1066 210.8 L1069.9 209.3 L1073.9 207.8 L1077.8 206.5 L1081.7 205.4 L1085.6 204.4 L1089.6 203.8 L1093.5 204.2 L1097.4 204.9 L1101.4 205.9 L1105.3 210.2 L1105.3 210.2 L1101.4 214.5 L1097.4 215.5 L1093.5 216.2 L1089.6 216.6 L1085.6 217.8 L1081.7 219 L1077.8 220.3 L1073.9 221.5 L1069.9 222.8 L1066 223.9 L1062.1 225 L1058.1 226 L1054.2 226.8 L1050.3 227.2 L1046.4 224.5 Z M391.4 247.7 L397.3 243.6 L403.3 242.6 L409.2 242 L415.2 241.6 L421.1 241.3 L427.1 241.2 L433 242.6 L439 244.1 L444.9 245.6 L450.9 247.2 L456.8 248.9 L462.8 250.8 L468.7 252.8 L474.6 255.2 L480.6 260.4 L480.6 260.4 L474.6 262.8 L468.7 262.3 L462.8 261.6 L456.8 260.6 L450.9 259.6 L444.9 258.4 L439 257.2 L433 255.9 L427.1 254.4 L421.1 254.1 L415.2 253.8 L409.2 253.4 L403.3 252.8 L397.3 251.8 L391.4 247.7 Z M481.3 260.6 L484.8 257.7 L488.3 257.6 L491.8 258 L495.3 258.5 L498.8 259.2 L502.3 260 L505.8 260.9 L509.3 261.9 L512.8 263 L516.3 264.2 L519.8 265.5 L523.3 266.9 L526.8 268.6 L530.3 270.6 L533.8 275.3 L533.8 275.3 L530.3 277.8 L526.8 277.6 L523.3 277 L519.8 276.3 L516.3 275.5 L512.8 274.6 L509.3 273.7 L505.8 272.7 L502.3 271.7 L498.8 270.7 L495.3 269.5 L491.8 268.3 L488.3 266.9 L484.8 265.2 L481.3 260.6 Z M529.1 273.8 L532.9 271.4 L536.6 271.7 L540.4 272.4 L544.2 273.2 L547.9 274.1 L551.7 275.1 L555.5 276.1 L559.3 277.2 L563 278.2 L566.8 279.3 L570.6 280.4 L574.4 281.5 L578.1 282.7 L581.9 284.1 L585.7 288.1 L585.7 288.1 L581.9 291.2 L578.1 291.5 L574.4 291.4 L570.6 291 L566.8 290.4 L563 289.7 L559.3 288.8 L555.5 287.8 L551.7 286.7 L547.9 285.4 L544.2 284 L540.4 282.4 L536.6 280.7 L532.9 278.6 L529.1 273.8 Z M581.3 287.6 L585.9 284.7 L590.5 284.4 L595.2 284.6 L599.8 285.1 L604.4 285.7 L609 286.4 L613.6 287.2 L618.2 288.2 L622.9 289.2 L627.5 290.2 L632.1 291.4 L636.7 292.7 L641.3 294.2 L645.9 296 L650.6 300.5 L650.6 300.5 L645.9 303.1 L641.3 303 L636.7 302.6 L632.1 302 L627.5 301.3 L622.9 300.5 L618.2 299.6 L613.6 298.7 L609 297.7 L604.4 296.6 L599.8 295.5 L595.2 294.4 L590.5 293.2 L585.9 291.7 L581.3 287.6 Z M648.7 300.1 L652.6 297.3 L656.4 297.2 L660.3 297.4 L664.2 297.7 L668.1 298.2 L671.9 298.8 L675.8 299.5 L679.7 300.2 L683.6 301 L687.4 301.9 L691.3 302.9 L695.2 303.9 L699.1 305.2 L702.9 306.8 L706.8 311.2 L706.8 311.2 L702.9 314.3 L699.1 314.4 L695.2 314.3 L691.3 313.9 L687.4 313.4 L683.6 312.8 L679.7 312.1 L675.8 311.3 L671.9 310.5 L668.1 309.6 L664.2 308.5 L660.3 307.4 L656.4 306.1 L652.6 304.5 L648.7 300.1 Z M700.8 310.1 L705.2 307.2 L709.6 307.1 L714 307.3 L718.4 307.6 L722.8 308.1 L727.2 308.6 L731.6 309.1 L736 309.6 L740.4 310.1 L744.8 310.6 L749.2 311.1 L753.6 311.7 L758 312.4 L762.4 313.3 L766.8 317.3 L766.8 317.3 L762.4 321.5 L758 322.5 L753.6 323 L749.2 323.1 L744.8 323 L740.4 322.8 L736 322.3 L731.6 321.7 L727.2 320.9 L722.8 320 L718.4 319 L714 317.8 L709.6 316.4 L705.2 314.7 L700.8 310.1 Z M763.4 317.4 L768.3 313.1 L773.2 311.8 L778 310.6 L782.9 309.4 L787.8 308.3 L792.7 307.3 L797.6 306.4 L802.5 305.6 L807.4 304.9 L812.3 304.1 L817.1 303.5 L822 302.9 L826.9 302.4 L831.8 302.2 L836.7 304.8 L836.7 304.8 L831.8 309.8 L826.9 311.9 L822 313.5 L817.1 315 L812.3 316.3 L807.4 317.4 L802.5 318.4 L797.6 319.3 L792.7 320.1 L787.8 320.9 L782.9 321.5 L778 322 L773.2 322 L768.3 321.3 L763.4 317.4 Z M837.4 304.6 L842.7 299.4 L848 296.9 L853.3 294.7 L858.6 292.6 L863.9 290.6 L869.2 288.8 L874.5 287.1 L879.8 285.5 L885.1 284 L890.4 282.5 L895.7 281.2 L901 280 L906.3 278.9 L911.6 278.3 L916.9 280.5 L916.9 280.5 L911.6 285.9 L906.3 288.3 L901 290.5 L895.7 292.4 L890.4 294.2 L885.1 296 L879.8 297.6 L874.5 299.2 L869.2 300.8 L863.9 302.3 L858.6 303.7 L853.3 305 L848 306.2 L842.7 306.9 L837.4 304.6 Z M914.5 281.2 L919.6 275.9 L924.6 273.5 L929.7 271.4 L934.7 269.5 L939.8 267.7 L944.9 266 L949.9 264.5 L955 263 L960 261.5 L965.1 260.2 L970.1 258.9 L975.2 257.8 L980.3 256.9 L985.3 256.3 L990.4 258.8 L990.4 258.8 L985.3 264.5 L980.3 267 L975.2 269.2 L970.1 271 L965.1 272.8 L960 274.4 L955 275.9 L949.9 277.3 L944.9 278.7 L939.8 280 L934.7 281.1 L929.7 282.2 L924.6 283 L919.6 283.6 L914.5 281.2 Z M989.1 259.2 L992.3 254.1 L995.5 252 L998.7 250.4 L1001.8 248.9 L1005 247.5 L1008.2 246.3 L1011.4 245.1 L1014.6 244 L1017.7 242.9 L1020.9 242 L1024.1 241.1 L1027.3 240.4 L1030.5 239.9 L1033.6 239.7 L1036.8 242.8 L1036.8 242.8 L1033.6 248.1 L1030.5 250.3 L1027.3 252 L1024.1 253.6 L1020.9 255 L1017.7 256.3 L1014.6 257.5 L1011.4 258.6 L1008.2 259.6 L1005 260.5 L1001.8 261.3 L998.7 261.9 L995.5 262.3 L992.3 262.3 L989.1 259.2 Z M1037.1 242.6 L1042.7 236.4 L1048.3 233.4 L1053.9 230.7 L1059.5 228.3 L1065.1 226 L1070.7 223.9 L1076.3 222 L1081.9 220.3 L1087.5 218.8 L1093.1 218.7 L1098.7 219 L1104.3 219.4 L1109.9 220.1 L1115.5 221.1 L1121.1 225.4 L1121.1 225.4 L1115.5 229.7 L1109.9 230.7 L1104.3 231.4 L1098.7 231.8 L1093.1 232.1 L1087.5 232.6 L1081.9 234.1 L1076.3 235.7 L1070.7 237.4 L1065.1 239.1 L1059.5 240.8 L1053.9 242.4 L1048.3 243.8 L1042.7 244.8 L1037.1 242.6 Z M360.6 262.3 L365 258.2 L369.3 257.2 L373.6 256.6 L377.9 256.2 L382.2 255.9 L386.5 255.7 L390.8 255.6 L395.1 255.6 L399.4 255.7 L403.7 255.9 L408 256.2 L412.3 256.6 L416.7 257.2 L421 258.2 L425.3 262.3 L425.3 262.3 L421 266.4 L416.7 267.4 L412.3 268 L408 268.4 L403.7 268.7 L399.4 268.9 L395.1 269 L390.8 269 L386.5 268.9 L382.2 268.7 L377.9 268.4 L373.6 268 L369.3 267.4 L365 266.4 L360.6 262.3 Z M422.1 262.3 L425.4 258.2 L428.8 257.7 L432.1 257.8 L435.4 258.2 L438.8 258.6 L442.1 259.2 L445.5 259.9 L448.8 260.6 L452.2 261.4 L455.5 262.3 L458.9 263.4 L462.2 264.5 L465.5 265.8 L468.9 267.5 L472.2 272 L472.2 272 L468.9 275.2 L465.5 275.4 L462.2 275.3 L458.9 275 L455.5 274.6 L452.2 274.1 L448.8 273.5 L445.5 272.9 L442.1 272.1 L438.8 271.3 L435.4 270.3 L432.1 269.2 L428.8 267.9 L425.4 266.4 L422.1 262.3 Z M470.7 271.7 L473.9 268.6 L477.1 268.4 L480.3 268.5 L483.5 268.9 L486.7 269.4 L489.9 270 L493.1 270.7 L496.3 271.5 L499.5 272.4 L502.8 273.4 L506 274.5 L509.2 275.7 L512.4 277.2 L515.6 279 L518.8 283.6 L518.8 283.6 L515.6 286.2 L512.4 286.2 L509.2 285.9 L506 285.4 L502.8 284.8 L499.5 284.2 L496.3 283.5 L493.1 282.8 L489.9 282 L486.7 281.1 L483.5 280.1 L480.3 279.1 L477.1 277.8 L473.9 276.2 L470.7 271.7 Z M513.3 281.9 L517 279.4 L520.7 279.6 L524.3 280.2 L528 281 L531.7 282 L535.4 283 L539.1 284.1 L542.8 285.3 L546.5 286.5 L550.2 287.7 L553.9 289.1 L557.6 290.5 L561.3 292 L565 293.7 L568.7 298.1 L568.7 298.1 L565 300.9 L561.3 300.9 L557.6 300.5 L553.9 299.8 L550.2 299 L546.5 298 L542.8 297 L539.1 295.8 L535.4 294.6 L531.7 293.2 L528 291.8 L524.3 290.3 L520.7 288.6 L517 286.6 L513.3 281.9 Z M563.8 297 L568 294.4 L572.1 294.3 L576.2 294.5 L580.4 294.8 L584.5 295.1 L588.6 295.5 L592.8 296 L596.9 296.7 L601 297.5 L605.2 298.4 L609.3 299.5 L613.4 300.7 L617.6 302 L621.7 303.7 L625.8 308.1 L625.8 308.1 L621.7 310.8 L617.6 310.8 L613.4 310.4 L609.3 309.9 L605.2 309.4 L601 308.7 L596.9 308.1 L592.8 307.4 L588.6 306.8 L584.5 306.1 L580.4 305.3 L576.2 304.4 L572.1 303.2 L568 301.5 L563.8 297 Z M620.2 306.9 L623.2 304 L626.2 303.8 L629.2 303.9 L632.2 304.2 L635.2 304.6 L638.2 305 L641.2 305.6 L644.2 306.2 L647.2 306.9 L650.2 307.7 L653.2 308.5 L656.2 309.5 L659.2 310.6 L662.2 312.1 L665.2 316.3 L665.2 316.3 L662.2 319.3 L659.2 319.6 L656.2 319.5 L653.2 319.2 L650.2 318.8 L647.2 318.4 L644.2 317.8 L641.2 317.1 L638.2 316.4 L635.2 315.6 L632.2 314.7 L629.2 313.7 L626.2 312.6 L623.2 311.1 L620.2 306.9 Z M660.3 315.3 L663.6 312.4 L667 312.2 L670.3 312.3 L673.6 312.6 L677 313 L680.3 313.5 L683.6 314.1 L687 314.8 L690.3 315.5 L693.7 316.3 L697 317.2 L700.3 318.2 L703.7 319.4 L707 320.9 L710.4 325.3 L710.4 325.3 L707 328.4 L703.7 328.7 L700.3 328.6 L697 328.3 L693.7 327.9 L690.3 327.3 L687 326.7 L683.6 326.1 L680.3 325.3 L677 324.4 L673.6 323.5 L670.3 322.4 L667 321.2 L663.6 319.6 L660.3 315.3 Z M706.9 324.7 L710 321.5 L713.1 321.2 L716.2 321.2 L719.2 321.4 L722.3 321.7 L725.4 322 L728.5 322.4 L731.6 322.9 L734.7 323.4 L737.7 324 L740.8 324.6 L743.9 325.3 L747 326.2 L750.1 327.4 L753.2 331.7 L753.2 331.7 L750.1 335.5 L747 336.2 L743.9 336.4 L740.8 336.4 L737.7 336.3 L734.7 336 L731.6 335.5 L728.5 335 L725.4 334.4 L722.3 333.6 L719.2 332.7 L716.2 331.7 L713.1 330.6 L710 329 L706.9 324.7 Z M753.3 331.7 L758.3 327.8 L763.4 326.8 L768.4 326.1 L773.5 325.3 L778.5 324.3 L783.6 323.3 L788.6 322.2 L793.7 321.3 L798.7 320.4 L803.8 319.7 L808.8 319 L813.9 318.3 L818.9 317.8 L823.9 317.6 L829 320.2 L829 320.2 L823.9 325.2 L818.9 327.4 L813.9 329.1 L808.8 330.6 L803.8 332 L798.7 333.2 L793.7 334.3 L788.6 335.3 L783.6 336.3 L778.5 337.1 L773.5 337.6 L768.4 337.5 L763.4 337 L758.3 335.9 L753.3 331.7 Z M824 321.4 L827.9 316.7 L831.7 314.8 L835.6 313.3 L839.4 311.9 L843.2 310.5 L847.1 309.2 L850.9 307.9 L854.8 306.6 L858.6 305.5 L862.4 304.4 L866.3 303.5 L870.1 302.7 L874 302 L877.8 301.8 L881.6 304.3 L881.6 304.3 L877.8 309.2 L874 311.3 L870.1 313 L866.3 314.6 L862.4 316 L858.6 317.4 L854.8 318.7 L850.9 320 L847.1 321.1 L843.2 322.1 L839.4 323 L835.6 323.7 L831.7 324.2 L827.9 324.3 L824 321.4 Z M878.1 305.4 L882.3 300.4 L886.5 298.3 L890.7 296.4 L894.9 294.8 L899.1 293.3 L903.4 291.9 L907.6 290.6 L911.8 289.4 L916 288.3 L920.2 287.2 L924.4 286.3 L928.6 285.5 L932.9 284.9 L937.1 284.6 L941.3 287.4 L941.3 287.4 L937.1 292.5 L932.9 294.6 L928.6 296.3 L924.4 297.8 L920.2 299.2 L916 300.5 L911.8 301.8 L907.6 302.9 L903.4 304 L899.1 305.1 L894.9 306 L890.7 306.8 L886.5 307.5 L882.3 307.9 L878.1 305.4 Z M936.1 288.8 L942 283.3 L947.8 280.7 L953.6 278.4 L959.5 276.4 L965.3 274.5 L971.1 272.6 L977 270.8 L982.8 269.1 L988.6 267.4 L994.4 265.7 L1000.3 264.1 L1006.1 262.6 L1011.9 261.2 L1017.8 260.2 L1023.6 262.3 L1023.6 262.3 L1017.8 268.5 L1011.9 271.5 L1006.1 274.1 L1000.3 276.5 L994.4 278.6 L988.6 280.6 L982.8 282.4 L977 284.1 L971.1 285.6 L965.3 287 L959.5 288.4 L953.6 289.5 L947.8 290.5 L942 291.1 L936.1 288.8 Z M1024.5 262 L1029.1 256.2 L1033.7 253.5 L1038.2 251.2 L1042.8 249.2 L1047.3 247.2 L1051.9 245.4 L1056.4 243.6 L1061 242 L1065.5 240.5 L1070.1 239.2 L1074.6 238 L1079.2 237.1 L1083.7 236.5 L1088.3 236.4 L1092.8 240.6 L1092.8 240.6 L1088.3 245 L1083.7 247.2 L1079.2 248.9 L1074.6 250.6 L1070.1 252.3 L1065.5 254 L1061 255.6 L1056.4 257.3 L1051.9 258.8 L1047.3 260.3 L1042.8 261.6 L1038.2 262.9 L1033.7 263.9 L1029.1 264.5 L1024.5 262 Z M410.5 276.9 L413.8 272.8 L417.2 271.8 L420.5 271.2 L423.9 270.8 L427.2 270.6 L430.5 271.1 L433.9 271.7 L437.2 272.4 L440.6 273.2 L443.9 274 L447.2 275 L450.6 276 L453.9 277.3 L457.3 278.9 L460.6 283.5 L460.6 283.5 L457.3 286.7 L453.9 287.1 L450.6 287.1 L447.2 286.9 L443.9 286.5 L440.6 286.1 L437.2 285.6 L433.9 285 L430.5 284.3 L427.2 283.5 L423.9 283 L420.5 282.6 L417.2 282 L413.8 281 L410.5 276.9 Z M457 282.8 L460.9 279.6 L464.8 279.4 L468.6 279.6 L472.5 280 L476.4 280.6 L480.3 281.2 L484.2 282 L488.1 282.8 L491.9 283.8 L495.8 284.8 L499.7 286 L503.6 287.3 L507.5 288.9 L511.4 290.8 L515.2 295.5 L515.2 295.5 L511.4 298.1 L507.5 297.9 L503.6 297.5 L499.7 297 L495.8 296.4 L491.9 295.7 L488.1 295 L484.2 294.2 L480.3 293.4 L476.4 292.4 L472.5 291.5 L468.6 290.4 L464.8 289.1 L460.9 287.4 L457 282.8 Z M515 295.5 L518.6 292.9 L522.1 293.1 L525.7 293.6 L529.2 294.3 L532.7 295.2 L536.3 296.2 L539.8 297.2 L543.3 298.3 L546.9 299.5 L550.4 300.7 L554 302 L557.5 303.3 L561 304.7 L564.6 306.4 L568.1 310.8 L568.1 310.8 L564.6 313.6 L561 313.6 L557.5 313.3 L554 312.7 L550.4 312 L546.9 311.1 L543.3 310.1 L539.8 309 L536.3 307.8 L532.7 306.5 L529.2 305.1 L525.7 303.7 L522.1 302 L518.6 300.1 L515 295.5 Z M562.3 309.5 L568.4 307.3 L574.6 307.5 L580.8 307.9 L586.9 308.3 L593.1 308.9 L599.3 309.8 L605.5 310.9 L611.6 312.1 L617.8 313.4 L624 314.9 L630.1 316.5 L636.3 318.1 L642.5 320 L648.6 322.2 L654.8 327.1 L654.8 327.1 L648.6 329.3 L642.5 328.8 L636.3 328 L630.1 327 L624 325.9 L617.8 324.7 L611.6 323.5 L605.5 322.3 L599.3 321 L593.1 319.9 L586.9 318.8 L580.8 317.7 L574.6 316.3 L568.4 314.4 L562.3 309.5 Z M652.5 326.6 L656 323.8 L659.5 323.6 L663 323.8 L666.5 324.2 L670 324.7 L673.4 325.2 L676.9 325.9 L680.4 326.6 L683.9 327.4 L687.4 328.3 L690.9 329.2 L694.4 330.3 L697.9 331.6 L701.4 333.2 L704.8 337.6 L704.8 337.6 L701.4 340.6 L697.9 340.8 L694.4 340.6 L690.9 340.3 L687.4 339.8 L683.9 339.2 L680.4 338.5 L676.9 337.8 L673.4 336.9 L670 336 L666.5 335 L663 333.9 L659.5 332.6 L656 330.9 L652.5 326.6 Z M702.6 337.2 L705.7 334.1 L708.8 333.8 L711.9 333.9 L715 334.1 L718.1 334.5 L721.2 334.9 L724.3 335.4 L727.4 336 L730.5 336.6 L733.6 337.3 L736.6 338.1 L739.7 338.9 L742.8 339.9 L745.9 341.3 L749 345.6 L749 345.6 L745.9 349.3 L742.8 349.8 L739.7 349.9 L736.6 349.8 L733.6 349.5 L730.5 349.1 L727.4 348.5 L724.3 347.9 L721.2 347.2 L718.1 346.4 L715 345.4 L711.9 344.4 L708.8 343.1 L705.7 341.6 L702.6 337.2 Z M746.7 345.4 L753 342 L759.2 341.3 L765.5 340.7 L771.7 340 L778 339 L784.3 337.6 L790.5 336.1 L796.8 334.8 L803.1 333.7 L809.3 332.5 L815.6 331.4 L821.8 330.2 L828.1 329.2 L834.4 328.5 L840.6 330.4 L840.6 330.4 L834.4 336 L828.1 338.6 L821.8 340.9 L815.6 342.9 L809.3 344.7 L803.1 346.3 L796.8 347.8 L790.5 349.2 L784.3 350.6 L778 351.8 L771.7 352.3 L765.5 352.1 L759.2 351.4 L753 350 L746.7 345.4 Z M840.7 330.4 L846 325.1 L851.3 322.5 L856.6 320.2 L861.9 318.1 L867.3 316.2 L872.6 314.4 L877.9 312.7 L883.2 311.1 L888.6 309.6 L893.9 308.3 L899.2 307 L904.5 305.9 L909.8 305 L915.2 304.4 L920.5 306.8 L920.5 306.8 L915.2 312.1 L909.8 314.4 L904.5 316.4 L899.2 318.2 L893.9 320 L888.6 321.6 L883.2 323.3 L877.9 324.8 L872.6 326.4 L867.3 327.8 L861.9 329.2 L856.6 330.6 L851.3 331.7 L846 332.5 L840.7 330.4 Z M916.3 308 L920.5 303 L924.7 300.9 L929 299.2 L933.2 297.7 L937.4 296.3 L941.6 295 L945.9 293.8 L950.1 292.6 L954.3 291.6 L958.5 290.6 L962.7 289.7 L967 289 L971.2 288.4 L975.4 288.3 L979.6 291.2 L979.6 291.2 L975.4 296.4 L971.2 298.5 L967 300.3 L962.7 301.8 L958.5 303.1 L954.3 304.4 L950.1 305.5 L945.9 306.6 L941.6 307.6 L937.4 308.5 L933.2 309.3 L929 310 L924.7 310.5 L920.5 310.7 L916.3 308 Z M974.8 292.5 L980.4 286.9 L986 284.2 L991.5 281.9 L997.1 279.8 L1002.7 277.7 L1008.2 275.7 L1013.8 273.7 L1019.4 271.8 L1025 269.9 L1030.5 268.1 L1036.1 266.4 L1041.7 264.8 L1047.3 263.4 L1052.8 262.4 L1058.4 264.6 L1058.4 264.6 L1052.8 270.7 L1047.3 273.8 L1041.7 276.4 L1036.1 278.9 L1030.5 281.1 L1025 283.3 L1019.4 285.3 L1013.8 287.2 L1008.2 289 L1002.7 290.7 L997.1 292.1 L991.5 293.4 L986 294.4 L980.4 295 L974.8 292.5 Z M1056.1 265.4 L1061.7 259.2 L1067.3 256.3 L1072.9 253.9 L1078.5 251.8 L1084.1 250.2 L1089.7 248.9 L1095.3 248.8 L1100.9 248.8 L1106.5 248.9 L1112.1 249.1 L1117.7 249.4 L1123.3 249.8 L1128.9 250.5 L1134.5 251.5 L1140.1 255.8 L1140.1 255.8 L1134.5 260.1 L1128.9 261.1 L1123.3 261.8 L1117.7 262.2 L1112.1 262.5 L1106.5 262.7 L1100.9 262.8 L1095.3 262.8 L1089.7 262.7 L1084.1 263.6 L1078.5 264.5 L1072.9 265.6 L1067.3 266.8 L1061.7 267.6 L1056.1 265.4 Z M400.9 291.5 L406.6 287.4 L412.3 286.4 L418 285.8 L423.7 285.4 L429.4 285.6 L435.1 286.5 L440.8 287.5 L446.5 288.5 L452.2 289.6 L457.9 290.8 L463.6 292.1 L469.3 293.5 L475.1 295.1 L480.8 297.1 L486.5 301.9 L486.5 301.9 L480.8 304.6 L475.1 304.6 L469.3 304.2 L463.6 303.7 L457.9 303 L452.2 302.3 L446.5 301.5 L440.8 300.5 L435.1 299.5 L429.4 298.4 L423.7 297.6 L418 297.2 L412.3 296.6 L406.6 295.6 L400.9 291.5 Z M487.4 302.1 L493.2 299.6 L499 299.9 L504.9 300.7 L510.7 301.9 L516.6 303.2 L522.4 304.8 L528.3 306.5 L534.1 308.4 L539.9 310.3 L545.8 312.3 L551.6 314.2 L557.5 316.2 L563.3 318.1 L569.1 320.2 L575 324.7 L575 324.7 L569.1 327.3 L563.3 327 L557.5 326.2 L551.6 325 L545.8 323.5 L539.9 321.9 L534.1 320.1 L528.3 318.3 L522.4 316.4 L516.6 314.6 L510.7 312.7 L504.9 310.9 L499 309.1 L493.2 307 L487.4 302.1 Z M574.6 324.6 L580.4 321.9 L586.1 321.7 L591.8 321.9 L597.5 322.5 L603.3 323.3 L609 324.2 L614.7 325.4 L620.5 326.6 L626.2 327.9 L631.9 329.3 L637.6 330.8 L643.4 332.5 L649.1 334.3 L654.8 336.4 L660.5 341.3 L660.5 341.3 L654.8 343.6 L649.1 343.1 L643.4 342.4 L637.6 341.4 L631.9 340.4 L626.2 339.2 L620.5 338 L614.7 336.8 L609 335.5 L603.3 334.2 L597.5 332.9 L591.8 331.7 L586.1 330.4 L580.4 328.9 L574.6 324.6 Z M659.7 341.1 L663.5 338.3 L667.2 338.2 L671 338.5 L674.8 339 L678.5 339.5 L682.3 340.2 L686 340.9 L689.8 341.7 L693.5 342.6 L697.3 343.5 L701 344.6 L704.8 345.8 L708.6 347.2 L712.3 348.9 L716.1 353.5 L716.1 353.5 L712.3 356.5 L708.6 356.5 L704.8 356.2 L701 355.7 L697.3 355.1 L693.5 354.5 L689.8 353.7 L686 352.9 L682.3 352 L678.5 351 L674.8 349.9 L671 348.7 L667.2 347.3 L663.5 345.5 L659.7 341.1 Z M713.7 353 L717.9 350.1 L722.1 350.1 L726.2 350.4 L730.4 350.9 L734.6 351.4 L738.8 352 L743 352.6 L747.2 353.1 L751.4 353.7 L755.5 354.2 L759.7 354.7 L763.9 355.2 L768.1 355.8 L772.3 356.6 L776.5 360.2 L776.5 360.2 L772.3 364.8 L768.1 366 L763.9 366.6 L759.7 366.9 L755.5 366.9 L751.4 366.6 L747.2 366.1 L743 365.5 L738.8 364.6 L734.6 363.6 L730.4 362.5 L726.2 361.2 L722.1 359.6 L717.9 357.7 L713.7 353 Z M770.7 360.8 L773.8 356.5 L776.9 355 L779.9 353.8 L783 352.7 L786.1 351.7 L789.2 350.8 L792.3 350 L795.4 349.3 L798.5 348.7 L801.6 348.2 L804.7 347.8 L807.8 347.5 L810.9 347.3 L814 347.5 L817.1 350.5 L817.1 350.5 L814 355.2 L810.9 357 L807.8 358.4 L804.7 359.5 L801.6 360.6 L798.5 361.5 L795.4 362.3 L792.3 363 L789.2 363.8 L786.1 364.4 L783 364.9 L779.9 365.2 L776.9 365.2 L773.8 364.7 L770.7 360.8 Z M813 351.6 L816.9 346.7 L820.7 344.8 L824.6 343.1 L828.5 341.7 L832.3 340.4 L836.2 339.1 L840.1 337.9 L843.9 336.7 L847.8 335.6 L851.7 334.5 L855.5 333.5 L859.4 332.6 L863.3 332 L867.1 331.7 L871 334.2 L871 334.2 L867.1 339.1 L863.3 341.2 L859.4 343 L855.5 344.6 L851.7 346.1 L847.8 347.5 L843.9 348.8 L840.1 350 L836.2 351.1 L832.3 352.1 L828.5 353 L824.6 353.8 L820.7 354.3 L816.9 354.4 L813 351.6 Z M869.8 334.5 L876 328.9 L882.2 326.2 L888.4 323.8 L894.6 321.7 L900.8 319.8 L907 317.9 L913.1 316.2 L919.3 314.6 L925.5 313.1 L931.7 311.7 L937.9 310.4 L944.1 309.2 L950.3 308.2 L956.5 307.6 L962.7 310.1 L962.7 310.1 L956.5 315.6 L950.3 318.1 L944.1 320.2 L937.9 322.1 L931.7 323.8 L925.5 325.5 L919.3 327.1 L913.1 328.6 L907 330.1 L900.8 331.5 L894.6 332.9 L888.4 334.2 L882.2 335.5 L876 336.4 L869.8 334.5 Z M959.8 310.8 L965.9 305.2 L972 302.6 L978.2 300.4 L984.3 298.3 L990.4 296.2 L996.5 294.2 L1002.6 292.2 L1008.8 290.2 L1014.9 288.2 L1021 286.2 L1027.1 284.4 L1033.3 282.6 L1039.4 281 L1045.5 279.8 L1051.6 281.8 L1051.6 281.8 L1045.5 288.2 L1039.4 291.4 L1033.3 294.2 L1027.1 296.8 L1021 299.3 L1014.9 301.5 L1008.8 303.7 L1002.6 305.6 L996.5 307.4 L990.4 309.1 L984.3 310.5 L978.2 311.7 L972 312.7 L965.9 313.3 L959.8 310.8 Z M1052.6 281.5 L1058.7 275.1 L1064.9 272 L1071.1 269.4 L1077.3 267.1 L1083.5 265.4 L1089.7 264.1 L1095.8 264 L1102 264 L1108.2 264.1 L1114.4 264.3 L1120.6 264.6 L1126.8 265 L1132.9 265.7 L1139.1 266.7 L1145.3 271 L1145.3 271 L1139.1 275.3 L1132.9 276.3 L1126.8 277 L1120.6 277.4 L1114.4 277.7 L1108.2 277.9 L1102 278 L1095.8 278 L1089.7 277.9 L1083.5 278.8 L1077.3 279.8 L1071.1 281.1 L1064.9 282.4 L1058.7 283.5 L1052.6 281.5 Z M401.1 306.1 L404.8 302 L408.6 301 L412.3 300.4 L416.1 300 L419.8 299.7 L423.6 299.5 L427.4 299.6 L431.1 300.2 L434.9 300.9 L438.6 301.7 L442.4 302.5 L446.1 303.5 L449.9 304.7 L453.7 306.3 L457.4 310.8 L457.4 310.8 L453.7 314.2 L449.9 314.6 L446.1 314.7 L442.4 314.5 L438.6 314.3 L434.9 313.9 L431.1 313.5 L427.4 312.9 L423.6 312.7 L419.8 312.5 L416.1 312.2 L412.3 311.8 L408.6 311.2 L404.8 310.2 L401.1 306.1 Z M452.8 310.1 L456.5 306.7 L460.1 306.3 L463.8 306.3 L467.5 306.5 L471.2 306.8 L474.9 307.3 L478.6 307.8 L482.2 308.5 L485.9 309.2 L489.6 310.1 L493.3 311 L497 312.1 L500.6 313.4 L504.3 315.1 L508 319.7 L508 319.7 L504.3 322.5 L500.6 322.6 L497 322.4 L493.3 322.1 L489.6 321.7 L485.9 321.2 L482.2 320.7 L478.6 320.1 L474.9 319.5 L471.2 318.8 L467.5 318 L463.8 317.1 L460.1 316 L456.5 314.5 L452.8 310.1 Z M506.4 319.3 L512.4 317.1 L518.4 317.9 L524.4 319.1 L530.4 320.6 L536.4 322.3 L542.4 324 L548.4 325.7 L554.4 327.4 L560.4 329 L566.4 330.5 L572.4 331.7 L578.4 332.9 L584.4 334.2 L590.4 335.7 L596.4 340.1 L596.4 340.1 L590.4 342.8 L584.4 342.9 L578.4 342.7 L572.4 342.3 L566.4 341.6 L560.4 340.5 L554.4 339.1 L548.4 337.5 L542.4 335.6 L536.4 333.5 L530.4 331.4 L524.4 329.2 L518.4 326.9 L512.4 324.4 L506.4 319.3 Z M596.3 340.1 L600.9 337.4 L605.5 337.4 L610.1 337.8 L614.7 338.5 L619.3 339.2 L623.9 340.1 L628.5 341 L633.1 342.1 L637.7 343.2 L642.3 344.4 L646.9 345.7 L651.5 347.1 L656 348.7 L660.6 350.6 L665.2 355.3 L665.2 355.3 L660.6 357.8 L656 357.6 L651.5 357.1 L646.9 356.4 L642.3 355.5 L637.7 354.6 L633.1 353.6 L628.5 352.5 L623.9 351.4 L619.3 350.2 L614.7 348.9 L610.1 347.6 L605.5 346.1 L600.9 344.4 L596.3 340.1 Z M663.8 355 L669.5 352.6 L675.1 353.1 L680.8 353.8 L686.5 354.7 L692.1 355.7 L697.8 356.8 L703.5 358 L709.1 359.3 L714.8 360.7 L720.5 362.2 L726.1 363.8 L731.8 365.4 L737.5 367.2 L743.1 369.2 L748.8 374.1 L748.8 374.1 L743.1 377.1 L737.5 376.9 L731.8 376.2 L726.1 375.3 L720.5 374.1 L714.8 372.8 L709.1 371.5 L703.5 370.1 L697.8 368.7 L692.1 367.2 L686.5 365.7 L680.8 364 L675.1 362.1 L669.5 359.9 L663.8 355 Z M743.4 373.2 L748.6 370.1 L753.8 369.7 L759 369.6 L764.2 369.4 L769.4 369 L774.6 368.4 L779.8 367.4 L785 366.1 L790.2 364.9 L795.4 363.8 L800.6 362.8 L805.8 361.9 L811 361.1 L816.2 360.6 L821.4 363 L821.4 363 L816.2 368.4 L811 370.8 L805.8 372.8 L800.6 374.6 L795.4 376.2 L790.2 377.8 L785 379.3 L779.8 380.7 L774.6 381.6 L769.4 381.9 L764.2 381.6 L759 380.9 L753.8 379.8 L748.6 378.1 L743.4 373.2 Z M821.8 362.9 L827.4 357.4 L833 354.8 L838.6 352.6 L844.2 350.4 L849.8 348.4 L855.4 346.4 L861 344.5 L866.7 342.8 L872.3 341.1 L877.9 339.6 L883.5 338.2 L889.1 337 L894.7 336 L900.3 335.4 L905.9 337.8 L905.9 337.8 L900.3 343 L894.7 345.3 L889.1 347.4 L883.5 349.4 L877.9 351.2 L872.3 353.1 L866.7 354.9 L861 356.6 L855.4 358.4 L849.8 360 L844.2 361.6 L838.6 363 L833 364.2 L827.4 365 L821.8 362.9 Z M905.2 338 L909.7 333 L914.3 331 L918.9 329.3 L923.5 327.8 L928.1 326.4 L932.7 325.1 L937.3 323.9 L941.9 322.8 L946.5 321.8 L951.1 320.9 L955.7 320.1 L960.3 319.3 L964.9 318.8 L969.5 318.7 L974.1 321.6 L974.1 321.6 L969.5 326.8 L964.9 328.8 L960.3 330.5 L955.7 332 L951.1 333.3 L946.5 334.5 L941.9 335.6 L937.3 336.6 L932.7 337.6 L928.1 338.5 L923.5 339.3 L918.9 339.9 L914.3 340.4 L909.7 340.6 L905.2 338 Z M969.3 322.8 L974.9 317.3 L980.6 314.8 L986.2 312.7 L991.8 310.7 L997.5 308.7 L1003.1 306.8 L1008.7 304.9 L1014.4 303 L1020 301.2 L1025.6 299.4 L1031.2 297.7 L1036.9 296.1 L1042.5 294.7 L1048.1 293.7 L1053.8 295.9 L1053.8 295.9 L1048.1 302.1 L1042.5 305.1 L1036.9 307.8 L1031.2 310.2 L1025.6 312.5 L1020 314.6 L1014.4 316.6 L1008.7 318.4 L1003.1 320.1 L997.5 321.6 L991.8 323 L986.2 324.1 L980.6 325 L974.9 325.4 L969.3 322.8 Z M1050.1 297.2 L1055.8 291 L1061.4 288 L1067.1 285.5 L1072.8 283.3 L1078.4 281.5 L1084.1 280.2 L1089.8 279.2 L1095.4 279.2 L1101.1 279.3 L1106.8 279.5 L1112.5 279.8 L1118.1 280.2 L1123.8 280.9 L1129.5 281.9 L1135.1 286.2 L1135.1 286.2 L1129.5 290.5 L1123.8 291.5 L1118.1 292.2 L1112.5 292.6 L1106.8 292.9 L1101.1 293.1 L1095.4 293.2 L1089.8 293.2 L1084.1 294 L1078.4 294.8 L1072.8 295.9 L1067.1 297.2 L1061.4 298.4 L1055.8 299.4 L1050.1 297.2 Z M388.8 320.7 L393.1 316.6 L397.5 315.6 L401.8 315 L406.1 314.6 L410.5 314.3 L414.8 314.1 L419.2 314 L423.5 314 L427.8 314.3 L432.2 315.1 L436.5 316 L440.8 317 L445.2 318.2 L449.5 319.8 L453.9 324.3 L453.9 324.3 L449.5 327.7 L445.2 328.1 L440.8 328.2 L436.5 328.1 L432.2 327.9 L427.8 327.5 L423.5 327.4 L419.2 327.4 L414.8 327.3 L410.5 327.1 L406.1 326.8 L401.8 326.4 L397.5 325.8 L393.1 324.8 L388.8 320.7 Z M454.5 324.4 L459.9 321.1 L465.3 320.9 L470.7 321.1 L476.2 321.5 L481.6 322.1 L487 322.8 L492.4 323.6 L497.8 324.6 L503.2 325.8 L508.6 327.2 L514.1 328.8 L519.5 330.7 L524.9 332.8 L530.3 335.3 L535.7 340.6 L535.7 340.6 L530.3 342.6 L524.9 341.8 L519.5 340.8 L514.1 339.7 L508.6 338.6 L503.2 337.6 L497.8 336.6 L492.4 335.7 L487 334.8 L481.6 333.8 L476.2 332.9 L470.7 331.8 L465.3 330.5 L459.9 328.9 L454.5 324.4 Z M530.9 339.1 L534.3 336.6 L537.8 336.8 L541.2 337.3 L544.6 338 L548 338.8 L551.5 339.6 L554.9 340.5 L558.3 341.3 L561.7 342.2 L565.2 343 L568.6 343.9 L572 344.8 L575.4 345.8 L578.8 347 L582.3 350.9 L582.3 350.9 L578.8 354.1 L575.4 354.6 L572 354.7 L568.6 354.5 L565.2 354.2 L561.7 353.7 L558.3 353 L554.9 352.2 L551.5 351.2 L548 350.1 L544.6 348.8 L541.2 347.4 L537.8 345.8 L534.3 343.8 L530.9 339.1 Z M577.3 350.4 L583.3 347.5 L589.4 347.4 L595.4 347.7 L601.4 348.4 L607.4 349.3 L613.4 350.4 L619.4 351.7 L625.5 353 L631.5 354.5 L637.5 356.1 L643.5 357.7 L649.5 359.5 L655.5 361.5 L661.6 363.8 L667.6 368.8 L667.6 368.8 L661.6 371 L655.5 370.4 L649.5 369.5 L643.5 368.4 L637.5 367.2 L631.5 365.9 L625.5 364.5 L619.4 363.1 L613.4 361.7 L607.4 360.3 L601.4 358.8 L595.4 357.5 L589.4 356.1 L583.3 354.6 L577.3 350.4 Z M667.2 368.8 L670.7 366 L674.2 365.9 L677.7 366.2 L681.2 366.6 L684.7 367.2 L688.1 367.9 L691.6 368.6 L695.1 369.4 L698.6 370.3 L702.1 371.2 L705.6 372.3 L709.1 373.6 L712.6 375 L716 376.8 L719.5 381.5 L719.5 381.5 L716 384.4 L712.6 384.4 L709.1 384 L705.6 383.5 L702.1 382.9 L698.6 382.2 L695.1 381.4 L691.6 380.6 L688.1 379.7 L684.7 378.7 L681.2 377.6 L677.7 376.4 L674.2 375 L670.7 373.2 L667.2 368.8 Z M719.3 381.5 L725.6 379.2 L731.8 379.8 L738.1 380.7 L744.4 381.6 L750.6 382.4 L756.9 383 L763.2 383.3 L769.5 383.4 L775.7 382.9 L782 381.6 L788.3 380.2 L794.5 378.9 L800.8 377.8 L807.1 377.1 L813.3 379.2 L813.3 379.2 L807.1 384.9 L800.8 387.7 L794.5 390 L788.3 392.2 L782 394.4 L775.7 396 L769.5 396.7 L763.2 396.6 L756.9 396 L750.6 394.9 L744.4 393.5 L738.1 391.6 L731.8 389.5 L725.6 386.9 L719.3 381.5 Z M811.9 379.6 L816.1 374.4 L820.3 372.3 L824.4 370.4 L828.6 368.7 L832.8 367.2 L836.9 365.7 L841.1 364.3 L845.3 362.9 L849.4 361.7 L853.6 360.5 L857.8 359.4 L861.9 358.4 L866.1 357.7 L870.3 357.3 L874.4 359.8 L874.4 359.8 L870.3 364.7 L866.1 366.9 L861.9 368.8 L857.8 370.5 L853.6 372.1 L849.4 373.6 L845.3 375 L841.1 376.4 L836.9 377.7 L832.8 378.9 L828.6 380 L824.4 381 L820.3 381.8 L816.1 382.2 L811.9 379.6 Z M872.3 360.4 L875.7 355.7 L879.2 353.7 L882.6 352.2 L886 350.8 L889.5 349.6 L892.9 348.5 L896.3 347.6 L899.8 346.7 L903.2 345.9 L906.7 345.2 L910.1 344.6 L913.5 344.2 L917 344 L920.4 344.1 L923.8 347.2 L923.8 347.2 L920.4 351.8 L917 353.5 L913.5 354.8 L910.1 356 L906.7 357 L903.2 358 L899.8 358.9 L896.3 359.7 L892.9 360.5 L889.5 361.3 L886 362 L882.6 362.6 L879.2 363 L875.7 363.1 L872.3 360.4 Z M917.9 348.5 L924.2 343.2 L930.4 340.9 L936.6 338.9 L942.9 337.1 L949.1 335.5 L955.4 333.9 L961.6 332.4 L967.8 330.9 L974.1 329.5 L980.3 328.1 L986.5 326.8 L992.8 325.5 L999 324.2 L1005.2 323.3 L1011.5 325.5 L1011.5 325.5 L1005.2 331.6 L999 334.5 L992.8 336.9 L986.5 339 L980.3 340.9 L974.1 342.5 L967.8 344 L961.6 345.4 L955.4 346.7 L949.1 347.8 L942.9 348.9 L936.6 349.8 L930.4 350.5 L924.2 350.9 L917.9 348.5 Z M1010 326 L1014.8 320.2 L1019.5 317.6 L1024.3 315.4 L1029 313.3 L1033.8 311.3 L1038.6 309.4 L1043.3 307.6 L1048.1 305.9 L1052.8 304.3 L1057.6 302.8 L1062.3 301.5 L1067.1 300.4 L1071.8 299.6 L1076.6 299.3 L1081.4 302.6 L1081.4 302.6 L1076.6 307.8 L1071.8 310 L1067.1 312.1 L1062.3 314 L1057.6 315.9 L1052.8 317.7 L1048.1 319.5 L1043.3 321.2 L1038.6 322.8 L1033.8 324.4 L1029 325.7 L1024.3 327 L1019.5 328 L1014.8 328.6 L1010 326 Z M1081.9 302.5 L1086.3 297.6 L1090.8 296.1 L1095.2 295.4 L1099.7 295 L1104.1 294.7 L1108.6 294.5 L1113 294.4 L1117.5 294.4 L1121.9 294.5 L1126.4 294.7 L1130.8 295 L1135.2 295.4 L1139.7 296.1 L1144.1 297.1 L1148.6 301.4 L1148.6 301.4 L1144.1 305.7 L1139.7 306.7 L1135.2 307.4 L1130.8 307.8 L1126.4 308.1 L1121.9 308.3 L1117.5 308.4 L1113 308.4 L1108.6 308.3 L1104.1 308.1 L1099.7 307.8 L1095.2 307.4 L1090.8 306.7 L1086.3 306.1 L1081.9 302.5 Z" fill="#fffcce" stroke="#f6cc9c" stroke-width="1.6" stroke-linejoin="round"/></g>
<g transform="translate(440 342) rotate(20)"><ellipse rx="35" ry="14" fill="url(#luc)"/></g>
<g transform="translate(502 346) rotate(10)"><ellipse rx="52" ry="12.5" fill="url(#luc)"/><ellipse rx="11" ry="3.5" fill="#f4e4d6" opacity="0.9"/></g>
<g transform="translate(528 368) rotate(10)"><ellipse rx="51" ry="13.5" fill="url(#luc)"/><ellipse rx="11" ry="3.5" fill="#f4e4d6" opacity="0.9"/></g>
<g transform="translate(607 369) rotate(12)"><ellipse rx="45" ry="12" fill="url(#luc)"/><ellipse rx="11" ry="3.5" fill="#f4e4d6" opacity="0.9"/></g>
<g transform="translate(630 392) rotate(10)"><ellipse rx="49.5" ry="12.5" fill="url(#luc)"/><ellipse rx="11" ry="3.5" fill="#f4e4d6" opacity="0.9"/></g>
<g transform="translate(695 389) rotate(8)"><ellipse rx="45" ry="12" fill="url(#luc)"/><ellipse rx="11" ry="3.5" fill="#f4e4d6" opacity="0.9"/></g>
<g transform="translate(752 410) rotate(3)"><ellipse rx="56" ry="13" fill="url(#luc)"/><ellipse rx="11" ry="3.5" fill="#f4e4d6" opacity="0.9"/></g>
<g transform="translate(794.6 394.6) rotate(0)"><ellipse rx="50" ry="12.5" fill="url(#luc)"/><ellipse rx="11" ry="3.5" fill="#f4e4d6" opacity="0.9"/></g>
<g transform="translate(865 401) rotate(-3)"><ellipse rx="46" ry="12.5" fill="url(#luc)"/><ellipse rx="11" ry="3.5" fill="#f4e4d6" opacity="0.9"/></g>
<g transform="translate(890.7 373) rotate(-5)"><ellipse rx="46" ry="14" fill="url(#luc)"/><ellipse rx="11" ry="3.5" fill="#f4e4d6" opacity="0.9"/></g>
<g transform="translate(967.6 370) rotate(-10)"><ellipse rx="53.5" ry="14" fill="url(#luc)"/><ellipse rx="11" ry="3.5" fill="#f4e4d6" opacity="0.9"/></g>
<g transform="translate(991 348.7) rotate(-12)"><ellipse rx="51" ry="13.5" fill="url(#luc)"/><ellipse rx="11" ry="3.5" fill="#f4e4d6" opacity="0.9"/></g>
<g transform="translate(1070 341) rotate(-15)"><ellipse rx="45" ry="13" fill="url(#luc)"/><ellipse rx="11" ry="3.5" fill="#f4e4d6" opacity="0.9"/></g>
<g transform="translate(1066 322) rotate(-18)"><ellipse rx="40" ry="12.5" fill="url(#luc)"/><ellipse rx="11" ry="3.5" fill="#f4e4d6" opacity="0.9"/></g>
<g transform="translate(451 377) rotate(12)"><rect x="-50" y="-13" width="100" height="26" rx="13" fill="url(#gran)" stroke="#c48e7e" stroke-width="1"/><ellipse rx="22" ry="3.3" fill="url(#gnuc)"/></g>
<g transform="translate(452 402) rotate(12)"><rect x="-48" y="-13" width="96" height="26" rx="13" fill="url(#gran)" stroke="#c48e7e" stroke-width="1"/><ellipse rx="21.1" ry="3.3" fill="url(#gnuc)"/></g>
<g transform="translate(553.6 400) rotate(13)"><rect x="-48.5" y="-14.5" width="97" height="29" rx="14.5" fill="url(#gran)" stroke="#c48e7e" stroke-width="1"/><ellipse rx="21.3" ry="3.3" fill="url(#gnuc)"/></g>
<g transform="translate(548 426.5) rotate(12)"><rect x="-49.5" y="-14.5" width="99" height="29" rx="14.5" fill="url(#gran)" stroke="#c48e7e" stroke-width="1"/><ellipse rx="21.8" ry="3.3" fill="url(#gnuc)"/></g>
<g transform="translate(649.5 424) rotate(8.4)"><rect x="-46.5" y="-14.5" width="93" height="29" rx="14.5" fill="url(#gran)" stroke="#c48e7e" stroke-width="1"/><ellipse rx="20.5" ry="3.3" fill="url(#gnuc)"/></g>
<g transform="translate(651 450) rotate(8)"><rect x="-50" y="-13.5" width="100" height="27" rx="13.5" fill="url(#gran)" stroke="#c48e7e" stroke-width="1"/><ellipse rx="22" ry="3.3" fill="url(#gnuc)"/></g>
<g transform="translate(744.8 434.6) rotate(0)"><rect x="-47" y="-12" width="94" height="24" rx="12" fill="url(#gran)" stroke="#c48e7e" stroke-width="1"/><ellipse rx="20.7" ry="3.3" fill="url(#gnuc)"/></g>
<g transform="translate(751 462.7) rotate(0)"><rect x="-51" y="-13" width="102" height="26" rx="13" fill="url(#gran)" stroke="#c48e7e" stroke-width="1"/><ellipse rx="22.4" ry="3.3" fill="url(#gnuc)"/></g>
<g transform="translate(839.5 430) rotate(-8)"><rect x="-46" y="-14" width="92" height="28" rx="14" fill="url(#gran)" stroke="#c48e7e" stroke-width="1"/><ellipse rx="20.2" ry="3.3" fill="url(#gnuc)"/></g>
<g transform="translate(853 452) rotate(-8)"><rect x="-47" y="-14" width="94" height="28" rx="14" fill="url(#gran)" stroke="#c48e7e" stroke-width="1"/><ellipse rx="20.7" ry="3.3" fill="url(#gnuc)"/></g>
<g transform="translate(933.4 407.4) rotate(-12)"><rect x="-46" y="-14" width="92" height="28" rx="14" fill="url(#gran)" stroke="#c48e7e" stroke-width="1"/><ellipse rx="20.2" ry="3.3" fill="url(#gnuc)"/></g>
<g transform="translate(946 431) rotate(-12)"><rect x="-45" y="-14" width="90" height="28" rx="14" fill="url(#gran)" stroke="#c48e7e" stroke-width="1"/><ellipse rx="19.8" ry="3.3" fill="url(#gnuc)"/></g>
<g transform="translate(1025 379.7) rotate(-15)"><rect x="-47" y="-14" width="94" height="28" rx="14" fill="url(#gran)" stroke="#c48e7e" stroke-width="1"/><ellipse rx="20.7" ry="3.3" fill="url(#gnuc)"/></g>
<g transform="translate(1040 400) rotate(-15)"><rect x="-47" y="-14" width="94" height="28" rx="14" fill="url(#gran)" stroke="#c48e7e" stroke-width="1"/><ellipse rx="20.7" ry="3.3" fill="url(#gnuc)"/></g>
<g transform="translate(1105 352) rotate(-18)"><rect x="-47" y="-14" width="94" height="28" rx="14" fill="url(#gran)" stroke="#c48e7e" stroke-width="1"/><ellipse rx="20.7" ry="3.3" fill="url(#gnuc)"/></g>
<g transform="translate(1118 372) rotate(-18)"><rect x="-47" y="-14" width="94" height="28" rx="14" fill="url(#gran)" stroke="#c48e7e" stroke-width="1"/><ellipse rx="20.7" ry="3.3" fill="url(#gnuc)"/></g>
<path d="M426.5 409 L533 439 L694 477 L796 479 L935 454 L1050 417 L1088.5 400" fill="none" stroke="#8c4a2a" stroke-width="1.6" opacity="0.7"/>
</g>
<g font-family="Liberation Sans, sans-serif" fill="#111"><rect x="1100" y="231.2" width="43.5" height="3.7" fill="#111"/><text x="1156.8" y="244.8" font-size="33.5" textLength="188" lengthAdjust="spacingAndGlyphs">Corneal layer</text><rect x="1100" y="320.9" width="43.5" height="3.7" fill="#111"/><text x="1155.4" y="333" font-size="33.5" textLength="156.3" lengthAdjust="spacingAndGlyphs">Lucid layer</text><rect x="1100" y="372.8" width="43.5" height="3.7" fill="#111"/><text x="1155.6" y="385.6" font-size="33.5" textLength="258" lengthAdjust="spacingAndGlyphs">Granular cell layer</text><rect x="1100" y="527.5" width="43.5" height="3.7" fill="#111"/><text x="1155.4" y="539.7" font-size="33.5" textLength="250" lengthAdjust="spacingAndGlyphs">Spinous cell layer</text><rect x="1100" y="746.5" width="43.5" height="3.7" fill="#111"/><text x="1156" y="757.6" font-size="33.5" textLength="207.2" lengthAdjust="spacingAndGlyphs">Basal cell layer</text><rect x="1100" y="1120" width="43.5" height="3.7" fill="#111"/><text x="1156" y="1129.8" font-size="33.5" textLength="104.2" lengthAdjust="spacingAndGlyphs">Dermis</text><text x="1480" y="475" font-size="33.5" textLength="147" lengthAdjust="spacingAndGlyphs">Epidermis</text><text x="1190.2" y="882.5" font-size="33.5" textLength="144.1" lengthAdjust="spacingAndGlyphs">Basement</text><text x="1190.2" y="933.3" font-size="33.5" textLength="161.4" lengthAdjust="spacingAndGlyphs">membrane</text><path d="M1158.5 184.6 H1459.1 V794.8 H1159" fill="none" stroke="#111" stroke-width="3.8"/><path d="M1102.6 827.9 H1169.3 V981 H1102.6" fill="none" stroke="#111" stroke-width="3.8"/></g></svg></body></html>
